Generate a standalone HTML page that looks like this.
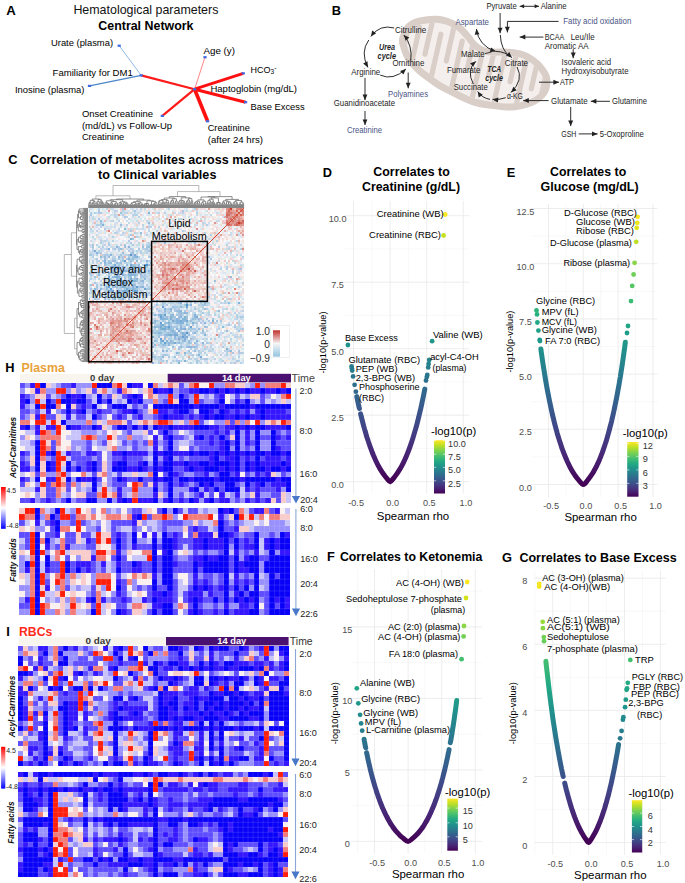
<!DOCTYPE html><html><head><meta charset="utf-8"><title>figure</title><style>html,body{margin:0;padding:0;background:#fff;width:685px;height:883px;overflow:hidden}svg{display:block}text{font-family:"Liberation Sans",sans-serif}</style></head><body><svg width="685" height="883" viewBox="0 0 685 883"><rect width="685" height="883" fill="#fff"/><text x="6.2" y="14.5" font-size="13.2" font-weight="bold" fill="#000">A</text><text x="73.4" y="14.4" font-size="12.2" fill="#111" textLength="145.0" lengthAdjust="spacingAndGlyphs">Hematological parameters</text><text x="98.3" y="30.0" font-size="12.2" font-weight="bold" fill="#000" textLength="95.2" lengthAdjust="spacingAndGlyphs">Central Network</text><line x1="119.2" y1="45.7" x2="141.2" y2="75.4" stroke="#5b9bd5" stroke-width="0.7"/><line x1="89.5" y1="85.9" x2="141.2" y2="75.4" stroke="#4a86c8" stroke-width="1.1"/><line x1="141.2" y1="75.4" x2="194.6" y2="89.2" stroke="#ff1a1a" stroke-width="2.2"/><line x1="194.6" y1="89.2" x2="205.0" y2="57.2" stroke="#ff3030" stroke-width="0.6"/><line x1="194.6" y1="89.2" x2="243.3" y2="73.3" stroke="#ff1010" stroke-width="2.8"/><line x1="194.6" y1="89.2" x2="245.6" y2="102.2" stroke="#ff1010" stroke-width="3.2"/><line x1="194.6" y1="89.2" x2="207.6" y2="121.3" stroke="#ff1010" stroke-width="3.6"/><line x1="194.6" y1="89.2" x2="162.3" y2="115.9" stroke="#ff1a1a" stroke-width="2.2"/><rect x="117.6" y="44.6" width="3.2" height="2.2" fill="#4169e1"/><rect x="139.6" y="74.3" width="3.2" height="2.2" fill="#4169e1"/><rect x="87.9" y="84.8" width="3.2" height="2.2" fill="#4169e1"/><rect x="203.4" y="56.1" width="3.2" height="2.2" fill="#4169e1"/><rect x="241.7" y="72.2" width="3.2" height="2.2" fill="#4169e1"/><rect x="193.0" y="88.1" width="3.2" height="2.2" fill="#4169e1"/><rect x="244.0" y="101.1" width="3.2" height="2.2" fill="#4169e1"/><rect x="206.0" y="120.2" width="3.2" height="2.2" fill="#4169e1"/><rect x="160.7" y="114.8" width="3.2" height="2.2" fill="#4169e1"/><text x="51.0" y="46.4" font-size="9.0" textLength="62.0" lengthAdjust="spacingAndGlyphs">Urate (plasma)</text><text x="52.6" y="76.1" font-size="9.0" textLength="80.2" lengthAdjust="spacingAndGlyphs">Familiarity for DM1</text><text x="14.9" y="93.0" font-size="9.0" textLength="69.5" lengthAdjust="spacingAndGlyphs">Inosine (plasma)</text><text x="203.5" y="54.1" font-size="9.0" textLength="31.5" lengthAdjust="spacingAndGlyphs">Age (y)</text><text x="250.6" y="72.9" font-size="9.0">HCO<tspan font-size="6.5" dy="1.5">3</tspan><tspan font-size="6.5" dy="-4">-</tspan></text><text x="210.4" y="92.4" font-size="9.0" textLength="86.6" lengthAdjust="spacingAndGlyphs">Haptoglobin (mg/dL)</text><text x="250.6" y="109.7" font-size="9.0" textLength="54.1" lengthAdjust="spacingAndGlyphs">Base Excess</text><text x="207.7" y="130.7" font-size="9.0" textLength="42.2" lengthAdjust="spacingAndGlyphs">Creatinine</text><text x="207.7" y="142.5" font-size="9.0" textLength="55.3" lengthAdjust="spacingAndGlyphs">(after 24 hrs)</text><text x="81.9" y="116.8" font-size="9.0" textLength="71.2" lengthAdjust="spacingAndGlyphs">Onset Creatinine</text><text x="81.9" y="128.6" font-size="9.0" textLength="90.2" lengthAdjust="spacingAndGlyphs">(md/dL) vs Follow-Up</text><text x="81.9" y="139.9" font-size="9.0" textLength="42.4" lengthAdjust="spacingAndGlyphs">Creatinine</text><text x="331.7" y="14.7" font-size="12.8" font-weight="bold" fill="#000">B</text><defs><clipPath id="mclip"><path d="M406.1 39.8C406.5 37.3 408.1 33.0 409.9 30.6C411.7 28.3 413.9 26.8 416.7 25.6C419.4 24.4 423.1 23.9 426.4 23.4C429.7 22.9 433.2 22.6 436.5 22.8C439.8 23.0 443.1 23.7 446.4 24.8C449.7 26.0 453.3 27.5 456.3 29.7C459.3 31.9 462.0 35.2 464.6 38.1C467.2 41.0 469.1 44.6 471.9 47.2C474.7 49.8 477.8 52.1 481.2 53.5C484.7 54.9 488.7 55.2 492.6 55.6C496.4 55.9 500.7 55.4 504.5 55.6C508.2 55.8 511.7 55.9 515.1 56.6C518.6 57.2 521.7 57.8 525.1 59.5C528.4 61.1 532.3 63.8 535.1 66.5C537.9 69.1 540.5 73.0 541.9 75.3C543.3 77.7 543.3 78.6 543.4 80.6C543.5 82.6 543.2 85.1 542.6 87.2C541.9 89.2 541.1 91.0 539.4 92.9C537.6 94.7 535.3 96.7 532.1 98.3C528.8 99.9 523.9 101.6 519.8 102.4C515.6 103.3 511.8 103.6 507.2 103.5C502.6 103.4 497.1 102.6 492.0 101.9C486.9 101.1 481.2 100.3 476.8 99.1C472.4 98.0 469.3 96.5 465.5 94.8C461.7 93.1 458.0 91.0 454.2 89.1C450.5 87.3 446.7 85.8 443.0 83.6C439.3 81.4 435.1 78.1 431.8 75.7C428.5 73.3 425.7 71.5 423.0 69.1C420.3 66.8 417.6 64.0 415.5 61.6C413.4 59.2 411.9 57.4 410.5 54.7C409.1 52.1 407.8 48.2 407.1 45.7C406.3 43.2 405.6 42.3 406.1 39.8z"/></clipPath></defs><path d="M399.2 38.5C399.9 35.0 401.9 29.6 404.3 26.4C406.7 23.2 410.2 20.9 413.7 19.3C417.2 17.7 421.5 17.1 425.4 16.5C429.3 15.9 433.1 15.5 437.0 15.8C440.9 16.1 444.8 16.8 448.7 18.2C452.6 19.6 456.9 21.5 460.4 24.0C463.9 26.5 467.1 30.4 469.8 33.4C472.5 36.4 474.5 39.9 476.8 42.2C479.1 44.5 481.1 45.9 483.8 47.0C486.5 48.1 489.6 48.3 493.1 48.6C496.6 48.9 500.9 48.4 504.8 48.6C508.7 48.8 512.6 48.9 516.5 49.7C520.4 50.5 524.3 51.2 528.2 53.2C532.1 55.2 536.6 58.3 539.9 61.4C543.2 64.5 546.2 68.8 548.0 71.9C549.8 75.0 550.2 77.2 550.4 80.1C550.6 83.0 550.2 86.5 549.2 89.4C548.2 92.3 546.8 95.1 544.5 97.6C542.2 100.1 539.1 102.6 535.2 104.6C531.3 106.5 525.9 108.3 521.2 109.3C516.5 110.3 512.1 110.6 507.1 110.5C502.1 110.4 496.4 109.6 491.0 108.8C485.6 108.0 479.7 107.2 475.0 105.9C470.3 104.6 466.7 103.0 462.7 101.2C458.7 99.5 455.0 97.3 451.1 95.4C447.2 93.5 443.3 91.9 439.4 89.6C435.5 87.3 431.2 83.9 427.7 81.4C424.2 78.9 421.3 76.9 418.4 74.4C415.5 71.9 412.5 68.9 410.2 66.2C407.9 63.5 405.9 61.1 404.3 58.0C402.7 54.9 401.2 50.8 400.3 47.5C399.4 44.2 398.5 42.0 399.2 38.5z" fill="#d9cec8"/><path d="M406.1 39.8C406.5 37.3 408.1 33.0 409.9 30.6C411.7 28.3 413.9 26.8 416.7 25.6C419.4 24.4 423.1 23.9 426.4 23.4C429.7 22.9 433.2 22.6 436.5 22.8C439.8 23.0 443.1 23.7 446.4 24.8C449.7 26.0 453.3 27.5 456.3 29.7C459.3 31.9 462.0 35.2 464.6 38.1C467.2 41.0 469.1 44.6 471.9 47.2C474.7 49.8 477.8 52.1 481.2 53.5C484.7 54.9 488.7 55.2 492.6 55.6C496.4 55.9 500.7 55.4 504.5 55.6C508.2 55.8 511.7 55.9 515.1 56.6C518.6 57.2 521.7 57.8 525.1 59.5C528.4 61.1 532.3 63.8 535.1 66.5C537.9 69.1 540.5 73.0 541.9 75.3C543.3 77.7 543.3 78.6 543.4 80.6C543.5 82.6 543.2 85.1 542.6 87.2C541.9 89.2 541.1 91.0 539.4 92.9C537.6 94.7 535.3 96.7 532.1 98.3C528.8 99.9 523.9 101.6 519.8 102.4C515.6 103.3 511.8 103.6 507.2 103.5C502.6 103.4 497.1 102.6 492.0 101.9C486.9 101.1 481.2 100.3 476.8 99.1C472.4 98.0 469.3 96.5 465.5 94.8C461.7 93.1 458.0 91.0 454.2 89.1C450.5 87.3 446.7 85.8 443.0 83.6C439.3 81.4 435.1 78.1 431.8 75.7C428.5 73.3 425.7 71.5 423.0 69.1C420.3 66.8 417.6 64.0 415.5 61.6C413.4 59.2 411.9 57.4 410.5 54.7C409.1 52.1 407.8 48.2 407.1 45.7C406.3 43.2 405.6 42.3 406.1 39.8z" fill="#f4efec"/><g clip-path="url(#mclip)"><path d="M415.2 -3.6L403.8 47.1M408.2 77.9L419.7 27.2M436.5 3.4L425.0 54.1M429.5 84.9L440.9 34.2M457.7 10.3L446.3 61.0M450.8 91.8L462.2 41.1M479.0 17.3L467.5 68.0M472.0 98.7L483.5 48.0M500.2 24.2L488.8 74.9M493.3 105.7L504.7 55.0M521.5 31.1L510.1 81.8M514.5 112.6L526.0 61.9M542.8 38.1L531.3 88.8M535.8 119.6L547.2 68.9" stroke="#d9cec8" stroke-width="5.2" stroke-linecap="round" fill="none"/></g><text x="395.0" y="33.1" font-size="8.6" fill="#1e1e1e" textLength="31.3" lengthAdjust="spacingAndGlyphs">Citrulline</text><text x="379.0" y="50.0" font-size="8.6" font-weight="bold" font-style="italic" fill="#1e1e1e" textLength="16.0" lengthAdjust="spacingAndGlyphs">Urea</text><text x="377.6" y="58.7" font-size="8.6" font-weight="bold" font-style="italic" fill="#1e1e1e" textLength="18.4" lengthAdjust="spacingAndGlyphs">cycle</text><text x="392.4" y="66.0" font-size="8.6" fill="#1e1e1e" textLength="31.9" lengthAdjust="spacingAndGlyphs">Ornithine</text><text x="351.3" y="75.0" font-size="8.6" fill="#1e1e1e" textLength="28.9" lengthAdjust="spacingAndGlyphs">Arginine</text><text x="388.0" y="97.4" font-size="8.6" fill="#4a5585" textLength="40.0" lengthAdjust="spacingAndGlyphs">Polyamines</text><text x="333.8" y="106.2" font-size="8.6" fill="#1e1e1e" textLength="61.2" lengthAdjust="spacingAndGlyphs">Guanidinoacetate</text><text x="346.9" y="133.0" font-size="8.6" fill="#4a5585" textLength="35.1" lengthAdjust="spacingAndGlyphs">Creatinine</text><text x="486.4" y="8.8" font-size="8.6" fill="#1e1e1e" textLength="30.3" lengthAdjust="spacingAndGlyphs">Pyruvate</text><text x="540.7" y="8.5" font-size="8.6" fill="#1e1e1e" textLength="25.8" lengthAdjust="spacingAndGlyphs">Alanine</text><text x="455.4" y="25.4" font-size="8.6" fill="#4a5585" textLength="33.6" lengthAdjust="spacingAndGlyphs">Aspartate</text><text x="563.3" y="24.2" font-size="8.6" fill="#4a5585" textLength="68.1" lengthAdjust="spacingAndGlyphs">Fatty acid oxidation</text><text x="544.7" y="40.0" font-size="8.6" fill="#1e1e1e" textLength="19.6" lengthAdjust="spacingAndGlyphs">BCAA</text><text x="570.7" y="40.0" font-size="8.6" fill="#1e1e1e" textLength="23.9" lengthAdjust="spacingAndGlyphs">Leu/Ile</text><text x="544.7" y="48.7" font-size="8.6" fill="#1e1e1e" textLength="44.0" lengthAdjust="spacingAndGlyphs">Aromatic AA</text><text x="561.6" y="65.0" font-size="8.6" fill="#1e1e1e" textLength="49.4" lengthAdjust="spacingAndGlyphs">Isovaleric acid</text><text x="561.6" y="73.9" font-size="8.6" fill="#1e1e1e" textLength="66.9" lengthAdjust="spacingAndGlyphs">Hydroxyisobutyrate</text><text x="461.0" y="57.3" font-size="8.6" fill="#1e1e1e" textLength="23.7" lengthAdjust="spacingAndGlyphs">Malate</text><text x="504.8" y="65.7" font-size="8.6" fill="#1e1e1e" textLength="23.2" lengthAdjust="spacingAndGlyphs">Citrate</text><text x="447.0" y="73.1" font-size="8.6" fill="#1e1e1e" textLength="33.3" lengthAdjust="spacingAndGlyphs">Fumarate</text><text x="487.3" y="72.2" font-size="8.6" font-weight="bold" font-style="italic" fill="#1e1e1e" textLength="14.0" lengthAdjust="spacingAndGlyphs">TCA</text><text x="485.2" y="81.4" font-size="8.6" font-weight="bold" font-style="italic" fill="#1e1e1e" textLength="17.8" lengthAdjust="spacingAndGlyphs">cycle</text><text x="453.7" y="89.6" font-size="8.6" fill="#1e1e1e" textLength="34.1" lengthAdjust="spacingAndGlyphs">Succinate</text><text x="506.9" y="98.9" font-size="8.6" fill="#1e1e1e" textLength="16.0" lengthAdjust="spacingAndGlyphs">α-KG</text><text x="560.1" y="84.6" font-size="8.6" fill="#1e1e1e" textLength="13.8" lengthAdjust="spacingAndGlyphs">ATP</text><text x="551.0" y="104.3" font-size="8.6" fill="#1e1e1e" textLength="36.6" lengthAdjust="spacingAndGlyphs">Glutamate</text><text x="612.0" y="104.3" font-size="8.6" fill="#1e1e1e" textLength="34.9" lengthAdjust="spacingAndGlyphs">Glutamine</text><text x="561.2" y="136.9" font-size="8.6" fill="#1e1e1e" textLength="15.2" lengthAdjust="spacingAndGlyphs">GSH</text><text x="599.7" y="136.9" font-size="8.6" fill="#1e1e1e" textLength="44.0" lengthAdjust="spacingAndGlyphs">5-Oxoproline</text><path d="M394.2 28.0Q380.0 24.0 370.9 36.4" fill="none" stroke="#222" stroke-width="0.95"/><path d="M370.9 36.4L372.2 30.4L376.2 33.3z" fill="#222"/><path d="M368.8 40.0Q360.0 52.0 367.9 67.4" fill="none" stroke="#222" stroke-width="0.95"/><path d="M367.9 67.4L363.2 63.5L367.5 61.3z" fill="#222"/><path d="M380.2 75.1Q393.0 81.0 405.9 69.0" fill="none" stroke="#222" stroke-width="0.95"/><path d="M405.9 69.0L403.5 74.6L400.1 71.0z" fill="#222"/><path d="M410.8 60.4Q412.5 45.0 403.8 35.0" fill="none" stroke="#222" stroke-width="0.95"/><path d="M403.8 35.0L409.3 37.6L405.6 40.8z" fill="#222"/><path d="M408.2 72.5L408.2 88.3" fill="none" stroke="#222" stroke-width="0.95"/><path d="M408.2 88.3L405.8 82.7L410.6 82.7z" fill="#222"/><path d="M365.0 77.8L365.0 100.2" fill="none" stroke="#222" stroke-width="0.95"/><path d="M365.0 100.2L362.6 94.6L367.4 94.6z" fill="#222"/><path d="M365.0 111.0L365.0 125.0" fill="none" stroke="#222" stroke-width="0.95"/><path d="M365.0 125.0L362.6 119.4L367.4 119.4z" fill="#222"/><path d="M519.7 6.3L539.0 6.3" fill="none" stroke="#222" stroke-width="0.95"/><path d="M539.0 6.3L534.6 8.3L534.6 4.3z" fill="#222"/><path d="M519.7 6.3L524.1 4.3L524.1 8.3z" fill="#222"/><path d="M500.1 13.0L500.1 33.3" fill="none" stroke="#222" stroke-width="0.95"/><path d="M500.1 33.3L497.7 27.7L502.6 27.7z" fill="#222"/><path d="M558.6 21.4L507.4 21.4L507.4 32.4" fill="none" stroke="#222" stroke-width="0.95"/><path d="M507.4 32.4L504.9 26.8L509.8 26.8z" fill="#222"/><path d="M543.4 37.1L519.7 37.1" fill="none" stroke="#222" stroke-width="0.95"/><path d="M519.7 37.1L525.3 34.6L525.3 39.6z" fill="#222"/><path d="M573.2 49.1L573.2 58.2" fill="none" stroke="#222" stroke-width="0.95"/><path d="M573.2 58.2L570.8 52.6L575.7 52.6z" fill="#222"/><path d="M539.0 82.2L559.0 82.2" fill="none" stroke="#222" stroke-width="0.95"/><path d="M559.0 82.2L553.4 84.7L553.4 79.8z" fill="#222"/><path d="M548.6 100.6L523.2 100.6" fill="none" stroke="#222" stroke-width="0.95"/><path d="M523.2 100.6L528.8 98.1L528.8 103.0z" fill="#222"/><path d="M609.9 101.3L590.8 101.3" fill="none" stroke="#222" stroke-width="0.95"/><path d="M590.8 101.3L596.4 98.8L596.4 103.8z" fill="#222"/><path d="M570.7 107.0L570.7 126.1" fill="none" stroke="#222" stroke-width="0.95"/><path d="M570.7 126.1L568.2 120.5L573.2 120.5z" fill="#222"/><path d="M578.7 133.9L597.6 133.9" fill="none" stroke="#222" stroke-width="0.95"/><path d="M597.6 133.9L592.0 136.3L592.0 131.5z" fill="#222"/><path d="M476.4 28.9Q478.5 46.0 495.8 51.4" fill="none" stroke="#222" stroke-width="0.95"/><path d="M495.8 51.4L489.7 52.1L491.2 47.4z" fill="#222"/><path d="M476.4 28.9L479.5 34.2L474.7 34.8z" fill="#222"/><path d="M485.0 53.6L491.5 52.0" stroke="#222" stroke-width="0.85" fill="none"/><path d="M496.0 51.4Q505.0 51.5 511.8 57.6" fill="none" stroke="#222" stroke-width="0.95"/><path d="M511.8 57.6L506.0 55.7L509.3 52.0z" fill="#222"/><path d="M500.3 35.0Q501.0 50.0 510.0 56.6" fill="none" stroke="#222" stroke-width="0.95"/><path d="M517.1 67.0Q524.0 80.0 511.0 92.4" fill="none" stroke="#222" stroke-width="0.95"/><path d="M511.0 92.4L513.4 86.8L516.7 90.3z" fill="#222"/><path d="M505.7 97.7Q499.0 100.0 492.6 99.4" fill="none" stroke="#222" stroke-width="0.95"/><path d="M492.6 99.4L498.4 97.5L497.9 102.4z" fill="#222"/><path d="M490.0 99.4Q482.0 98.0 477.7 91.5" fill="none" stroke="#222" stroke-width="0.95"/><path d="M477.7 91.5L482.8 94.8L478.7 97.5z" fill="#222"/><path d="M473.3 84.0Q466.0 70.0 475.9 61.3" fill="none" stroke="#222" stroke-width="0.95"/><path d="M475.9 61.3L473.3 66.8L470.1 63.2z" fill="#222"/><text x="8.2" y="163.9" font-size="12.8" font-weight="bold" fill="#000">C</text><text x="29.9" y="163.9" font-size="12.8" font-weight="bold" fill="#000" textLength="253.7" lengthAdjust="spacingAndGlyphs">Correlation of metabolites across matrices</text><text x="98.0" y="178.6" font-size="12.8" font-weight="bold" fill="#000" textLength="118.4" lengthAdjust="spacingAndGlyphs">to Clinical variables</text><path fill="none" stroke="#6a6a6a" stroke-width="0.75" d="M88.9 208.0V202.9M89.9 208.0V202.9M88.9 202.9H89.9M89.4 202.9V202.4M91.0 208.0V202.4M89.4 202.4H91.0M92.0 208.0V203.4M93.1 208.0V203.4M92.0 203.4H93.1M92.5 203.4V202.8M94.1 208.0V202.8M92.5 202.8H94.1M93.3 202.8V201.4M95.1 208.0V201.4M93.3 201.4H95.1M90.2 202.4V200.4M94.2 201.4V200.4M90.2 200.4H94.2M97.2 208.0V204.1M98.2 208.0V204.1M97.2 204.1H98.2M96.2 208.0V203.0M97.7 204.1V203.0M96.2 203.0H97.7M96.9 203.0V201.7M99.3 208.0V201.7M96.9 201.7H99.3M102.4 208.0V202.9M103.4 208.0V202.9M102.4 202.9H103.4M101.4 208.0V202.0M102.9 202.9V202.0M101.4 202.0H102.9M100.3 208.0V200.9M102.1 202.0V200.9M100.3 200.9H102.1M98.1 201.7V199.4M101.2 200.9V199.4M98.1 199.4H101.2M92.2 200.4V199.0M99.7 199.4V199.0M92.2 199.0H99.7M104.5 208.0V204.4M105.5 208.0V204.4M104.5 204.4H105.5M107.6 208.0V204.6M108.6 208.0V204.6M107.6 204.6H108.6M108.1 204.6V204.2M109.7 208.0V204.2M108.1 204.2H109.7M106.6 208.0V203.6M108.9 204.2V203.6M106.6 203.6H108.9M105.0 204.4V202.8M107.7 203.6V202.8M105.0 202.8H107.7M111.7 208.0V204.0M112.8 208.0V204.0M111.7 204.0H112.8M110.7 208.0V202.8M112.3 204.0V202.8M110.7 202.8H112.3M113.8 208.0V205.2M114.9 208.0V205.2M113.8 205.2H114.9M114.3 205.2V204.1M115.9 208.0V204.1M114.3 204.1H115.9M116.9 208.0V205.3M118.0 208.0V205.3M116.9 205.3H118.0M115.1 204.1V203.1M117.5 205.3V203.1M115.1 203.1H117.5M111.5 202.8V201.6M116.3 203.1V201.6M111.5 201.6H116.3M106.4 202.8V200.8M113.9 201.6V200.8M106.4 200.8H113.9M120.0 208.0V204.5M121.1 208.0V204.5M120.0 204.5H121.1M120.6 204.5V203.6M122.1 208.0V203.6M120.6 203.6H122.1M119.0 208.0V202.7M121.3 203.6V202.7M119.0 202.7H121.3M123.2 208.0V203.9M124.2 208.0V203.9M123.2 203.9H124.2M125.2 208.0V203.9M126.3 208.0V203.9M125.2 203.9H126.3M127.3 208.0V204.7M128.4 208.0V204.7M127.3 204.7H128.4M125.8 203.9V203.2M127.8 204.7V203.2M125.8 203.2H127.8M123.7 203.9V202.3M126.8 203.2V202.3M123.7 202.3H126.8M120.2 202.7V201.8M125.2 202.3V201.8M120.2 201.8H125.2M110.1 200.8V199.7M122.7 201.8V199.7M110.1 199.7H122.7M130.4 208.0V205.5M131.5 208.0V205.5M130.4 205.5H131.5M129.4 208.0V205.0M130.9 205.5V205.0M129.4 205.0H130.9M132.5 208.0V205.0M133.5 208.0V205.0M132.5 205.0H133.5M130.2 205.0V204.0M133.0 205.0V204.0M130.2 204.0H133.0M134.6 208.0V204.5M135.6 208.0V204.5M134.6 204.5H135.6M135.1 204.5V203.8M136.7 208.0V203.8M135.1 203.8H136.7M131.6 204.0V202.6M135.9 203.8V202.6M131.6 202.6H135.9M138.7 208.0V204.0M139.8 208.0V204.0M138.7 204.0H139.8M137.7 208.0V203.3M139.3 204.0V203.3M137.7 203.3H139.3M140.8 208.0V205.1M141.9 208.0V205.1M140.8 205.1H141.9M141.3 205.1V204.6M142.9 208.0V204.6M141.3 204.6H142.9M138.5 203.3V203.0M142.1 204.6V203.0M138.5 203.0H142.1M133.7 202.6V201.6M140.3 203.0V201.6M133.7 201.6H140.3M143.9 208.0V204.7M145.0 208.0V204.7M143.9 204.7H145.0M146.0 208.0V204.3M147.0 208.0V204.3M146.0 204.3H147.0M144.4 204.7V203.8M146.5 204.3V203.8M144.4 203.8H146.5M148.1 208.0V205.2M149.1 208.0V205.2M148.1 205.2H149.1M145.5 203.8V203.5M148.6 205.2V203.5M145.5 203.5H148.6M150.2 208.0V205.6M151.2 208.0V205.6M150.2 205.6H151.2M150.7 205.6V204.5M152.2 208.0V204.5M150.7 204.5H152.2M153.3 208.0V204.2M154.3 208.0V204.2M153.3 204.2H154.3M153.8 204.2V203.7M155.3 208.0V203.7M153.8 203.7H155.3M156.4 208.0V205.1M157.4 208.0V205.1M156.4 205.1H157.4M154.6 203.7V202.7M156.9 205.1V202.7M154.6 202.7H156.9M151.5 204.5V201.4M155.7 202.7V201.4M151.5 201.4H155.7M147.0 203.5V200.8M153.6 201.4V200.8M147.0 200.8H153.6M137.0 201.6V200.1M150.3 200.8V200.1M137.0 200.1H150.3M116.4 199.7V199.0M143.7 200.1V199.0M116.4 199.0H143.7M159.5 208.0V204.2M160.5 208.0V204.2M159.5 204.2H160.5M158.5 208.0V201.6M160.0 204.2V201.6M158.5 201.6H160.0M161.6 208.0V203.1M162.6 208.0V203.1M161.6 203.1H162.6M163.7 208.0V202.9M164.7 208.0V202.9M163.7 202.9H164.7M162.1 203.1V202.1M164.2 202.9V202.1M162.1 202.1H164.2M159.2 201.6V200.4M163.1 202.1V200.4M159.2 200.4H163.1M165.7 208.0V202.3M166.8 208.0V202.3M165.7 202.3H166.8M167.8 208.0V202.6M168.8 208.0V202.6M167.8 202.6H168.8M166.2 202.3V200.4M168.3 202.6V200.4M166.2 200.4H168.3M161.2 200.4V199.6M167.3 200.4V199.6M161.2 199.6H167.3M169.9 208.0V203.4M170.9 208.0V203.4M169.9 203.4H170.9M170.4 203.4V201.7M172.0 208.0V201.7M170.4 201.7H172.0M173.0 208.0V202.3M174.0 208.0V202.3M173.0 202.3H174.0M171.2 201.7V200.5M173.5 202.3V200.5M171.2 200.5H173.5M175.1 208.0V202.8M176.1 208.0V202.8M175.1 202.8H176.1M175.6 202.8V201.0M177.2 208.0V201.0M175.6 201.0H177.2M172.3 200.5V198.8M176.4 201.0V198.8M172.3 198.8H176.4M164.2 199.6V198.0M174.4 198.8V198.0M164.2 198.0H174.4M178.2 208.0V203.1M179.2 208.0V203.1M178.2 203.1H179.2M178.7 203.1V201.7M180.3 208.0V201.7M178.7 201.7H180.3M181.3 208.0V202.6M182.3 208.0V202.6M181.3 202.6H182.3M184.4 208.0V203.4M185.5 208.0V203.4M184.4 203.4H185.5M183.4 208.0V202.0M184.9 203.4V202.0M183.4 202.0H184.9M181.8 202.6V200.8M184.2 202.0V200.8M181.8 200.8H184.2M179.5 201.7V200.4M183.0 200.8V200.4M179.5 200.4H183.0M187.5 208.0V203.2M188.6 208.0V203.2M187.5 203.2H188.6M186.5 208.0V201.3M188.1 203.2V201.3M186.5 201.3H188.1M187.3 201.3V200.1M189.6 208.0V200.1M187.3 200.1H189.6M190.6 208.0V202.3M191.7 208.0V202.3M190.6 202.3H191.7M191.2 202.3V200.8M192.7 208.0V200.8M191.2 200.8H192.7M188.4 200.1V198.6M191.9 200.8V198.6M188.4 198.6H191.9M181.2 200.4V197.8M190.2 198.6V197.8M181.2 197.8H190.2M169.3 198.0V196.6M185.7 197.8V196.6M169.3 196.6H185.7M193.8 208.0V203.8M194.8 208.0V203.8M193.8 203.8H194.8M194.3 203.8V202.8M195.8 208.0V202.8M194.3 202.8H195.8M196.9 208.0V203.2M197.9 208.0V203.2M196.9 203.2H197.9M195.1 202.8V201.9M197.4 203.2V201.9M195.1 201.9H197.4M199.0 208.0V202.7M200.0 208.0V202.7M199.0 202.7H200.0M196.2 201.9V201.2M199.5 202.7V201.2M196.2 201.2H199.5M201.0 208.0V204.8M202.1 208.0V204.8M201.0 204.8H202.1M203.1 208.0V204.5M204.1 208.0V204.5M203.1 204.5H204.1M201.6 204.8V202.8M203.6 204.5V202.8M201.6 202.8H203.6M205.2 208.0V203.2M206.2 208.0V203.2M205.2 203.2H206.2M202.6 202.8V201.3M205.7 203.2V201.3M202.6 201.3H205.7M197.9 201.2V199.9M204.1 201.3V199.9M197.9 199.9H204.1M207.3 208.0V203.0M208.3 208.0V203.0M207.3 203.0H208.3M209.3 208.0V203.3M210.4 208.0V203.3M209.3 203.3H210.4M209.9 203.3V202.1M211.4 208.0V202.1M209.9 202.1H211.4M207.8 203.0V200.7M210.6 202.1V200.7M207.8 200.7H210.6M213.5 208.0V203.1M214.5 208.0V203.1M213.5 203.1H214.5M212.5 208.0V201.8M214.0 203.1V201.8M212.5 201.8H214.0M209.2 200.7V199.2M213.2 201.8V199.2M209.2 199.2H213.2M215.6 208.0V204.6M216.6 208.0V204.6M215.6 204.6H216.6M216.1 204.6V203.1M217.6 208.0V203.1M216.1 203.1H217.6M218.7 208.0V204.8M219.7 208.0V204.8M218.7 204.8H219.7M219.2 204.8V203.2M220.8 208.0V203.2M219.2 203.2H220.8M216.9 203.1V202.5M220.0 203.2V202.5M216.9 202.5H220.0M211.2 199.2V197.9M218.4 202.5V197.9M211.2 197.9H218.4M201.0 199.9V197.0M214.8 197.9V197.0M201.0 197.0H214.8M221.8 208.0V204.0M222.8 208.0V204.0M221.8 204.0H222.8M223.9 208.0V203.2M224.9 208.0V203.2M223.9 203.2H224.9M222.3 204.0V202.2M224.4 203.2V202.2M222.3 202.2H224.4M225.9 208.0V204.1M227.0 208.0V204.1M225.9 204.1H227.0M228.0 208.0V203.8M229.1 208.0V203.8M228.0 203.8H229.1M231.1 208.0V204.5M232.2 208.0V204.5M231.1 204.5H232.2M230.1 208.0V203.9M231.7 204.5V203.9M230.1 203.9H231.7M228.5 203.8V202.2M230.9 203.9V202.2M228.5 202.2H230.9M226.5 204.1V201.7M229.7 202.2V201.7M226.5 201.7H229.7M223.4 202.2V200.8M228.1 201.7V200.8M223.4 200.8H228.1M234.3 208.0V204.7M235.3 208.0V204.7M234.3 204.7H235.3M233.2 208.0V202.8M234.8 204.7V202.8M233.2 202.8H234.8M236.3 208.0V203.0M237.4 208.0V203.0M236.3 203.0H237.4M234.0 202.8V201.8M236.9 203.0V201.8M234.0 201.8H236.9M238.4 208.0V204.9M239.4 208.0V204.9M238.4 204.9H239.4M240.5 208.0V204.5M241.5 208.0V204.5M240.5 204.5H241.5M238.9 204.9V204.1M241.0 204.5V204.1M238.9 204.1H241.0M242.6 208.0V203.7M243.6 208.0V203.7M242.6 203.7H243.6M240.0 204.1V202.2M243.1 203.7V202.2M240.0 202.2H243.1M235.4 201.8V200.5M241.5 202.2V200.5M235.4 200.5H241.5M225.7 200.8V199.4M238.5 200.5V199.4M225.7 199.4H238.5M207.9 197.0V196.6M232.1 199.4V196.6M207.9 196.6H232.1"/><path fill="none" stroke="#8a8a8a" stroke-width="0.6" d="M95.9 199.0V195.8M130.0 199.0V195.8M95.9 195.8H130.0M177.5 196.6V191.6M220.0 196.6V191.6M177.5 191.6H220.0M113.0 195.8V185.5M198.8 191.6V185.5M113.0 185.5H198.8"/><rect x="88.5" y="204.8" width="155.5" height="3.2" fill="#858585"/><path fill="none" stroke="#6a6a6a" stroke-width="0.75" d="M88.0 208.4H83.3M88.0 209.4H83.3M83.3 208.4V209.4M88.0 210.5H83.9M88.0 211.5H83.9M83.9 210.5V211.5M88.0 212.5H82.2M88.0 213.5H82.2M82.2 212.5V213.5M82.2 213.0H80.8M88.0 214.6H80.8M80.8 213.0V214.6M83.9 211.0H80.1M80.8 213.8H80.1M80.1 211.0V213.8M83.3 208.9H79.2M80.1 212.4H79.2M79.2 208.9V212.4M88.0 216.6H83.2M88.0 217.7H83.2M83.2 216.6V217.7M88.0 215.6H81.7M83.2 217.1H81.7M81.7 215.6V217.1M88.0 219.7H83.9M88.0 220.7H83.9M83.9 219.7V220.7M88.0 218.7H82.4M83.9 220.2H82.4M82.4 218.7V220.2M81.7 216.4H80.5M82.4 219.5H80.5M80.5 216.4V219.5M79.2 210.6H78.5M80.5 217.9H78.5M78.5 210.6V217.9M88.0 222.8H82.6M88.0 223.8H82.6M82.6 222.8V223.8M88.0 221.8H81.3M82.6 223.3H81.3M81.3 221.8V223.3M88.0 225.9H82.7M88.0 226.9H82.7M82.7 225.9V226.9M88.0 224.9H80.9M82.7 226.4H80.9M80.9 224.9V226.4M80.9 225.6H80.4M88.0 227.9H80.4M80.4 225.6V227.9M81.3 222.5H79.5M80.4 226.8H79.5M79.5 222.5V226.8M88.0 229.0H83.5M88.0 230.0H83.5M83.5 229.0V230.0M88.0 231.0H84.3M88.0 232.0H84.3M84.3 231.0V232.0M84.3 231.5H83.4M88.0 233.1H83.4M83.4 231.5V233.1M83.5 229.5H82.1M83.4 232.3H82.1M82.1 229.5V232.3M79.5 224.7H78.3M82.1 230.9H78.3M78.3 224.7V230.9M78.5 214.3H77.6M78.3 227.8H77.6M77.6 214.3V227.8M88.0 234.1H84.4M88.0 235.1H84.4M84.4 234.1V235.1M88.0 236.2H83.6M88.0 237.2H83.6M83.6 236.2V237.2M84.4 234.6H82.0M83.6 236.7H82.0M82.0 234.6V236.7M88.0 238.2H82.0M88.0 239.2H82.0M82.0 238.2V239.2M82.0 235.6H80.3M82.0 238.7H80.3M80.3 235.6V238.7M88.0 241.3H82.0M88.0 242.3H82.0M82.0 241.3V242.3M88.0 240.3H80.5M82.0 241.8H80.5M80.5 240.3V241.8M80.5 241.0H80.1M88.0 243.4H80.1M80.1 241.0V243.4M80.3 237.2H78.5M80.1 242.2H78.5M78.5 237.2V242.2M88.0 245.4H84.2M88.0 246.4H84.2M84.2 245.4V246.4M88.0 244.4H82.9M84.2 245.9H82.9M82.9 244.4V245.9M88.0 247.5H83.5M88.0 248.5H83.5M83.5 247.5V248.5M82.9 245.2H81.7M83.5 248.0H81.7M81.7 245.2V248.0M88.0 250.6H82.4M88.0 251.6H82.4M82.4 250.6V251.6M82.4 251.1H81.1M88.0 252.6H81.1M81.1 251.1V252.6M88.0 249.5H80.4M81.1 251.8H80.4M80.4 249.5V251.8M88.0 253.6H82.6M88.0 254.7H82.6M82.6 253.6V254.7M80.4 250.7H79.5M82.6 254.2H79.5M79.5 250.7V254.2M81.7 246.6H78.4M79.5 252.4H78.4M78.4 246.6V252.4M78.5 239.7H77.0M78.4 249.5H77.0M77.0 239.7V249.5M77.6 221.0H76.6M77.0 244.6H76.6M76.6 221.0V244.6M88.0 255.7H82.5M88.0 256.7H82.5M82.5 255.7V256.7M82.5 256.2H80.9M88.0 257.8H80.9M80.9 256.2V257.8M88.0 258.8H83.7M88.0 259.8H83.7M83.7 258.8V259.8M83.7 259.3H82.6M88.0 260.8H82.6M82.6 259.3V260.8M88.0 262.9H82.3M88.0 263.9H82.3M82.3 262.9V263.9M88.0 261.9H81.4M82.3 263.4H81.4M81.4 261.9V263.4M82.6 260.1H80.9M81.4 262.6H80.9M80.9 260.1V262.6M80.9 257.0H79.6M80.9 261.4H79.6M79.6 257.0V261.4M88.0 265.0H83.5M88.0 266.0H83.5M83.5 265.0V266.0M88.0 267.0H82.4M88.0 268.0H82.4M82.4 267.0V268.0M83.5 265.5H81.0M82.4 267.5H81.0M81.0 265.5V267.5M88.0 270.1H82.9M88.0 271.1H82.9M82.9 270.1V271.1M88.0 269.1H82.2M82.9 270.6H82.2M82.2 269.1V270.6M81.0 266.5H79.7M82.2 269.8H79.7M79.7 266.5V269.8M88.0 272.1H82.9M88.0 273.2H82.9M82.9 272.1V273.2M82.9 272.7H81.5M88.0 274.2H81.5M81.5 272.7V274.2M81.5 273.4H79.8M88.0 275.2H79.8M79.8 273.4V275.2M79.7 268.2H78.1M79.8 274.3H78.1M78.1 268.2V274.3M79.6 259.2H77.1M78.1 271.2H77.1M77.1 259.2V271.2M88.0 276.3H83.8M88.0 277.3H83.8M83.8 276.3V277.3M88.0 278.3H83.8M88.0 279.3H83.8M83.8 278.3V279.3M83.8 278.8H82.7M88.0 280.4H82.7M82.7 278.8V280.4M83.8 276.8H82.1M82.7 279.6H82.1M82.1 276.8V279.6M88.0 281.4H82.5M88.0 282.4H82.5M82.5 281.4V282.4M82.5 281.9H80.8M88.0 283.5H80.8M80.8 281.9V283.5M88.0 284.5H82.6M88.0 285.5H82.6M82.6 284.5V285.5M82.6 285.0H81.2M88.0 286.5H81.2M81.2 285.0V286.5M80.8 282.7H80.2M81.2 285.8H80.2M80.2 282.7V285.8M82.1 278.2H79.0M80.2 284.2H79.0M79.0 278.2V284.2M88.0 287.6H83.7M88.0 288.6H83.7M83.7 287.6V288.6M88.0 290.7H83.7M88.0 291.7H83.7M83.7 290.7V291.7M88.0 289.6H82.2M83.7 291.2H82.2M82.2 289.6V291.2M88.0 292.7H83.6M88.0 293.7H83.6M83.6 292.7V293.7M82.2 290.4H81.2M83.6 293.2H81.2M81.2 290.4V293.2M83.7 288.1H80.1M81.2 291.8H80.1M80.1 288.1V291.8M88.0 294.8H82.7M88.0 295.8H82.7M82.7 294.8V295.8M88.0 296.8H83.9M88.0 297.9H83.9M83.9 296.8V297.9M82.7 295.3H81.8M83.9 297.3H81.8M81.8 295.3V297.3M80.1 289.9H78.9M81.8 296.3H78.9M78.9 289.9V296.3M79.0 281.2H77.4M78.9 293.1H77.4M77.4 281.2V293.1M77.1 265.2H76.6M77.4 287.2H76.6M76.6 265.2V287.2M88.0 299.9H84.1M88.0 300.9H84.1M84.1 299.9V300.9M84.1 300.4H82.8M88.0 302.0H82.8M82.8 300.4V302.0M88.0 298.9H81.9M82.8 301.2H81.9M81.9 298.9V301.2M88.0 303.0H83.7M88.0 304.0H83.7M83.7 303.0V304.0M88.0 305.0H82.9M88.0 306.1H82.9M82.9 305.0V306.1M88.0 307.1H83.4M88.0 308.1H83.4M83.4 307.1V308.1M82.9 305.6H81.4M83.4 307.6H81.4M81.4 305.6V307.6M83.7 303.5H81.0M81.4 306.6H81.0M81.0 303.5V306.6M81.9 300.0H80.3M81.0 305.0H80.3M80.3 300.0V305.0M88.0 309.2H84.1M88.0 310.2H84.1M84.1 309.2V310.2M84.1 309.7H83.5M88.0 311.2H83.5M83.5 309.7V311.2M83.5 310.4H82.1M88.0 312.2H82.1M82.1 310.4V312.2M88.0 313.3H82.3M88.0 314.3H82.3M82.3 313.3V314.3M82.1 311.3H81.1M82.3 313.8H81.1M81.1 311.3V313.8M88.0 315.3H84.4M88.0 316.4H84.4M84.4 315.3V316.4M88.0 317.4H83.7M88.0 318.4H83.7M83.7 317.4V318.4M84.4 315.8H82.0M83.7 317.9H82.0M82.0 315.8V317.9M81.1 312.6H79.7M82.0 316.9H79.7M79.7 312.6V316.9M80.3 302.5H78.5M79.7 314.7H78.5M78.5 302.5V314.7M88.0 319.4H83.5M88.0 320.5H83.5M83.5 319.4V320.5M83.5 320.0H82.9M88.0 321.5H82.9M82.9 320.0V321.5M82.9 320.7H81.6M88.0 322.5H81.6M81.6 320.7V322.5M88.0 323.6H82.8M88.0 324.6H82.8M82.8 323.6V324.6M88.0 325.6H83.4M88.0 326.6H83.4M83.4 325.6V326.6M82.8 324.1H82.4M83.4 326.1H82.4M82.4 324.1V326.1M81.6 321.6H80.8M82.4 325.1H80.8M80.8 321.6V325.1M88.0 328.7H83.1M88.0 329.7H83.1M83.1 328.7V329.7M88.0 327.7H82.3M83.1 329.2H82.3M82.3 327.7V329.2M88.0 330.8H84.5M88.0 331.8H84.5M84.5 330.8V331.8M82.3 328.4H81.8M84.5 331.3H81.8M81.8 328.4V331.3M88.0 332.8H84.5M88.0 333.8H84.5M84.5 332.8V333.8M88.0 334.9H82.8M88.0 335.9H82.8M82.8 334.9V335.9M84.5 333.3H81.5M82.8 335.4H81.5M81.5 333.3V335.4M81.8 329.9H81.1M81.5 334.4H81.1M81.1 329.9V334.4M80.8 323.4H80.0M81.1 332.1H80.0M80.0 323.4V332.1M78.5 308.6H77.0M80.0 327.7H77.0M77.0 308.6V327.7M88.0 336.9H82.4M88.0 338.0H82.4M82.4 336.9V338.0M82.4 337.4H81.9M88.0 339.0H81.9M81.9 337.4V339.0M88.0 340.0H82.3M88.0 341.0H82.3M82.3 340.0V341.0M82.3 340.5H81.8M88.0 342.1H81.8M81.8 340.5V342.1M81.9 338.2H80.6M81.8 341.3H80.6M80.6 338.2V341.3M88.0 344.1H83.5M88.0 345.1H83.5M83.5 344.1V345.1M88.0 343.1H82.1M83.5 344.6H82.1M82.1 343.1V344.6M88.0 347.2H84.4M88.0 348.2H84.4M84.4 347.2V348.2M88.0 346.2H83.3M84.4 347.7H83.3M83.3 346.2V347.7M82.1 343.9H80.5M83.3 346.9H80.5M80.5 343.9V346.9M80.6 339.8H79.7M80.5 345.4H79.7M79.7 339.8V345.4M88.0 349.3H82.6M88.0 350.3H82.6M82.6 349.3V350.3M88.0 351.3H84.1M88.0 352.3H84.1M84.1 351.3V352.3M82.6 349.8H81.1M84.1 351.8H81.1M81.1 349.8V351.8M88.0 353.4H82.6M88.0 354.4H82.6M82.6 353.4V354.4M81.1 350.8H80.2M82.6 353.9H80.2M80.2 350.8V353.9M88.0 355.4H82.5M88.0 356.5H82.5M82.5 355.4V356.5M88.0 358.5H83.9M88.0 359.5H83.9M83.9 358.5V359.5M88.0 357.5H82.6M83.9 359.0H82.6M82.6 357.5V359.0M88.0 360.6H82.5M88.0 361.6H82.5M82.5 360.6V361.6M82.6 358.3H80.9M82.5 361.1H80.9M80.9 358.3V361.1M82.5 355.9H79.3M80.9 359.7H79.3M79.3 355.9V359.7M80.2 352.3H78.5M79.3 357.8H78.5M78.5 352.3V357.8M79.7 342.6H77.0M78.5 355.1H77.0M77.0 342.6V355.1"/><path fill="none" stroke="#8a8a8a" stroke-width="0.6" d="M76.6 232.8H71.4M76.6 276.2H71.4M71.4 232.8V276.2M77.0 318.2H74.6M77.0 348.8H74.6M74.6 318.2V348.8M71.4 254.5H64.3M74.6 333.5H64.3M64.3 254.5V333.5"/><rect x="84.8" y="208.2" width="3.2" height="153.6" fill="#858585"/><g transform="translate(88.5 208.0) scale(1.9936)" shape-rendering="crispEdges"><path fill="#d2e6f0" d="M0 0h1v1h-1zM7 0h1v1h-1zM21 0h1v1h-1zM32 0h1v1h-1zM49 0h1v1h-1zM20 1h1v1h-1zM33 1h1v1h-1zM42 1h1v1h-1zM9 2h1v1h-1zM24 2h1v1h-1zM65 2h1v1h-1zM12 3h1v1h-1zM16 3h1v1h-1zM30 3h1v1h-1zM39 3h1v1h-1zM56 3h1v1h-1zM39 4h1v1h-1zM53 4h1v1h-1zM23 5h1v1h-1zM26 5h1v1h-1zM28 5h1v1h-1zM38 5h1v1h-1zM42 5h1v1h-1zM22 6h1v1h-1zM27 6h1v1h-1zM30 6h1v1h-1zM49 6h1v1h-1zM13 7h1v1h-1zM16 7h1v1h-1zM38 7h1v1h-1zM8 8h1v1h-1zM31 8h1v1h-1zM43 8h1v1h-1zM12 9h1v1h-1zM18 9h1v1h-1zM24 9h1v1h-1zM57 9h1v1h-1zM25 10h1v1h-1zM42 10h1v1h-1zM19 11h1v1h-1zM1 12h2v1h-2zM5 12h1v1h-1zM8 12h1v1h-1zM29 12h1v1h-1zM64 12h1v1h-1zM75 12h1v1h-1zM65 13h1v1h-1zM30 14h1v1h-1zM50 14h1v1h-1zM28 15h1v1h-1zM32 15h1v1h-1zM57 15h1v1h-1zM61 15h1v1h-1zM33 16h1v1h-1zM62 16h1v1h-1zM2 17h1v1h-1zM20 17h1v1h-1zM11 18h1v1h-1zM21 18h1v1h-1zM25 19h1v1h-1zM14 20h1v1h-1zM68 20h1v1h-1zM4 21h1v1h-1zM23 21h1v1h-1zM74 21h1v1h-1zM0 22h1v1h-1zM12 22h1v1h-1zM14 22h1v1h-1zM73 24h1v1h-1zM0 25h2v1h-2zM11 25h1v1h-1zM14 25h1v1h-1zM9 26h1v1h-1zM63 27h1v1h-1zM6 28h1v1h-1zM20 28h1v1h-1zM71 28h1v1h-1zM77 28h1v1h-1zM7 29h1v1h-1zM10 29h1v1h-1zM20 29h1v1h-1zM30 29h1v1h-1zM1 30h1v1h-1zM3 31h1v1h-1zM6 31h1v1h-1zM15 32h1v1h-1zM18 32h1v1h-1zM9 33h1v1h-1zM5 34h1v1h-1zM11 34h1v1h-1zM69 34h1v1h-1zM67 35h1v1h-1zM72 35h1v1h-1zM76 35h1v1h-1zM28 36h1v1h-1zM31 36h1v1h-1zM24 37h1v1h-1zM8 38h1v1h-1zM19 38h1v1h-1zM30 38h1v1h-1zM73 38h2v1h-2zM1 39h1v1h-1zM70 39h1v1h-1zM72 39h1v1h-1zM27 40h1v1h-1zM5 41h1v1h-1zM8 42h1v1h-1zM28 42h2v1h-2zM1 44h1v1h-1zM10 44h1v1h-1zM76 44h1v1h-1zM62 45h1v1h-1zM77 45h1v1h-1zM41 46h1v1h-1zM69 46h1v1h-1zM20 47h1v1h-1zM39 47h1v1h-1zM48 47h1v1h-1zM63 47h1v1h-1zM71 47h1v1h-1zM74 47h1v1h-1zM35 48h1v1h-1zM65 48h1v1h-1zM28 49h1v1h-1zM41 49h1v1h-1zM61 49h2v1h-2zM72 49h1v1h-1zM37 50h1v1h-1zM71 50h1v1h-1zM72 51h1v1h-1zM58 52h1v1h-1zM67 52h1v1h-1zM40 53h1v1h-1zM68 53h1v1h-1zM75 53h1v1h-1zM72 54h1v1h-1zM71 55h1v1h-1zM59 56h1v1h-1zM77 56h1v1h-1zM48 57h1v1h-1zM60 57h1v1h-1zM76 57h1v1h-1zM39 58h1v1h-1zM66 58h1v1h-1zM45 59h1v1h-1zM68 59h1v1h-1zM3 61h1v1h-1zM70 61h1v1h-1zM74 61h1v1h-1zM45 62h1v1h-1zM52 63h1v1h-1zM55 63h1v1h-1zM57 63h1v1h-1zM70 64h1v1h-1zM55 65h1v1h-1zM68 65h1v1h-1zM74 65h1v1h-1zM43 66h1v1h-1zM52 66h1v1h-1zM59 66h1v1h-1zM33 67h1v1h-1zM48 67h1v1h-1zM44 68h1v1h-1zM51 68h1v1h-1zM75 68h1v1h-1zM35 69h1v1h-1zM39 69h1v1h-1zM65 69h1v1h-1zM69 69h1v1h-1zM48 70h1v1h-1zM77 70h1v1h-1zM46 71h1v1h-1zM49 71h1v1h-1zM54 71h1v1h-1zM36 72h1v1h-1zM43 72h1v1h-1zM65 72h1v1h-1zM56 73h1v1h-1zM16 74h1v1h-1zM46 74h1v1h-1zM60 75h1v1h-1zM65 75h1v1h-1zM33 76h1v1h-1zM38 76h1v1h-1zM47 76h1v1h-1zM52 76h1v1h-1zM65 76h1v1h-1zM52 77h1v1h-1zM55 77h1v1h-1zM77 77h1v1h-1z"/><path fill="#d2dcf0" d="M1 0h1v1h-1zM22 0h1v1h-1zM24 0h1v1h-1zM18 1h1v1h-1zM26 1h1v1h-1zM45 2h2v1h-2zM11 3h1v1h-1zM67 4h1v1h-1zM2 7h1v1h-1zM14 7h1v1h-1zM60 7h1v1h-1zM13 8h1v1h-1zM42 8h1v1h-1zM54 8h1v1h-1zM4 9h1v1h-1zM11 9h1v1h-1zM5 10h1v1h-1zM26 10h1v1h-1zM30 10h1v1h-1zM73 10h1v1h-1zM14 11h1v1h-1zM48 11h1v1h-1zM54 12h1v1h-1zM17 13h1v1h-1zM35 13h1v1h-1zM5 14h1v1h-1zM9 15h1v1h-1zM24 16h1v1h-1zM47 16h1v1h-1zM59 16h1v1h-1zM7 17h1v1h-1zM50 17h1v1h-1zM57 17h1v1h-1zM70 17h1v1h-1zM1 18h1v1h-1zM61 18h1v1h-1zM9 19h1v1h-1zM7 20h1v1h-1zM20 20h1v1h-1zM60 20h1v1h-1zM7 21h1v1h-1zM10 21h1v1h-1zM21 21h1v1h-1zM14 23h1v1h-1zM17 23h1v1h-1zM30 23h1v1h-1zM65 23h1v1h-1zM69 23h1v1h-1zM9 24h1v1h-1zM26 25h1v1h-1zM14 26h1v1h-1zM28 26h1v1h-1zM26 27h1v1h-1zM60 27h1v1h-1zM9 29h1v1h-1zM16 29h1v1h-1zM66 29h1v1h-1zM9 30h1v1h-1zM61 30h1v1h-1zM4 31h1v1h-1zM63 31h1v1h-1zM75 31h1v1h-1zM75 32h1v1h-1zM24 34h1v1h-1zM29 35h1v1h-1zM69 35h1v1h-1zM16 38h1v1h-1zM28 39h1v1h-1zM67 39h1v1h-1zM12 40h1v1h-1zM17 40h1v1h-1zM26 40h1v1h-1zM4 41h1v1h-1zM21 41h1v1h-1zM27 41h1v1h-1zM10 42h1v1h-1zM25 42h1v1h-1zM64 42h1v1h-1zM5 43h1v1h-1zM29 44h1v1h-1zM9 45h1v1h-1zM55 46h1v1h-1zM54 47h1v1h-1zM67 47h1v1h-1zM33 48h1v1h-1zM42 48h1v1h-1zM38 49h1v1h-1zM51 49h1v1h-1zM36 50h1v1h-1zM37 51h1v1h-1zM50 51h1v1h-1zM52 51h1v1h-1zM67 51h1v1h-1zM76 51h1v1h-1zM35 52h1v1h-1zM61 53h1v1h-1zM77 53h1v1h-1zM57 54h1v1h-1zM77 55h1v1h-1zM36 56h1v1h-1zM56 56h1v1h-1zM57 57h1v1h-1zM76 59h1v1h-1zM32 60h1v1h-1zM54 60h1v1h-1zM64 60h1v1h-1zM39 61h1v1h-1zM48 61h1v1h-1zM50 61h1v1h-1zM51 63h1v1h-1zM54 63h1v1h-1zM66 63h1v1h-1zM70 63h1v1h-1zM69 64h1v1h-1zM68 66h1v1h-1zM74 66h1v1h-1zM35 67h1v1h-1zM56 67h1v1h-1zM32 68h1v1h-1zM47 68h2v1h-2zM53 68h1v1h-1zM58 68h1v1h-1zM62 68h1v1h-1zM56 70h2v1h-2zM60 70h1v1h-1zM34 72h1v1h-1zM63 72h1v1h-1zM67 72h1v1h-1zM36 73h1v1h-1zM46 73h1v1h-1zM68 73h1v1h-1zM70 75h1v1h-1zM59 76h1v1h-1zM77 76h1v1h-1z"/><path fill="#dce6f0" d="M2 0h1v1h-1zM39 0h1v1h-1zM48 0h1v1h-1zM52 0h1v1h-1zM8 1h1v1h-1zM12 1h1v1h-1zM19 1h1v1h-1zM24 1h1v1h-1zM28 1h1v1h-1zM30 1h1v1h-1zM35 1h1v1h-1zM38 1h1v1h-1zM48 1h1v1h-1zM51 1h1v1h-1zM63 1h1v1h-1zM2 2h1v1h-1zM7 2h1v1h-1zM10 2h1v1h-1zM12 2h1v1h-1zM27 3h1v1h-1zM29 3h1v1h-1zM31 3h1v1h-1zM47 3h2v1h-2zM58 3h2v1h-2zM68 3h1v1h-1zM1 4h1v1h-1zM3 4h1v1h-1zM6 4h1v1h-1zM9 4h1v1h-1zM17 4h1v1h-1zM48 4h1v1h-1zM1 5h1v1h-1zM7 5h1v1h-1zM10 5h1v1h-1zM15 5h1v1h-1zM18 5h1v1h-1zM21 5h1v1h-1zM24 5h1v1h-1zM33 5h1v1h-1zM47 5h1v1h-1zM53 5h1v1h-1zM1 6h1v1h-1zM5 6h1v1h-1zM7 6h1v1h-1zM9 6h2v1h-2zM21 6h1v1h-1zM34 6h1v1h-1zM38 6h1v1h-1zM54 6h1v1h-1zM58 6h1v1h-1zM4 7h1v1h-1zM22 7h1v1h-1zM29 7h1v1h-1zM3 8h1v1h-1zM11 8h1v1h-1zM17 8h1v1h-1zM23 8h1v1h-1zM25 8h1v1h-1zM39 8h1v1h-1zM60 8h1v1h-1zM3 9h1v1h-1zM8 9h1v1h-1zM10 9h1v1h-1zM19 9h1v1h-1zM45 9h1v1h-1zM48 9h1v1h-1zM74 9h1v1h-1zM3 10h1v1h-1zM9 10h1v1h-1zM11 10h1v1h-1zM19 10h1v1h-1zM28 10h1v1h-1zM33 10h1v1h-1zM35 10h1v1h-1zM45 10h1v1h-1zM56 10h1v1h-1zM0 11h1v1h-1zM6 11h1v1h-1zM8 11h1v1h-1zM12 11h1v1h-1zM16 11h1v1h-1zM55 11h1v1h-1zM6 12h1v1h-1zM15 12h1v1h-1zM25 12h1v1h-1zM34 12h1v1h-1zM49 12h1v1h-1zM24 13h1v1h-1zM28 13h1v1h-1zM30 13h2v1h-2zM42 13h1v1h-1zM49 13h1v1h-1zM6 14h1v1h-1zM8 14h1v1h-1zM11 14h1v1h-1zM13 14h1v1h-1zM19 14h1v1h-1zM22 14h1v1h-1zM40 14h1v1h-1zM76 14h1v1h-1zM2 15h1v1h-1zM5 15h1v1h-1zM27 15h1v1h-1zM53 15h1v1h-1zM62 15h1v1h-1zM2 16h1v1h-1zM10 16h1v1h-1zM14 16h1v1h-1zM17 16h1v1h-1zM34 16h1v1h-1zM40 16h1v1h-1zM46 16h1v1h-1zM53 16h1v1h-1zM16 17h1v1h-1zM23 17h1v1h-1zM27 17h1v1h-1zM36 17h1v1h-1zM40 17h1v1h-1zM51 17h1v1h-1zM58 17h2v1h-2zM69 17h1v1h-1zM13 18h1v1h-1zM20 18h1v1h-1zM60 18h1v1h-1zM74 18h1v1h-1zM6 19h1v1h-1zM13 19h1v1h-1zM19 19h1v1h-1zM21 19h1v1h-1zM23 19h2v1h-2zM31 19h1v1h-1zM60 19h1v1h-1zM71 19h1v1h-1zM74 19h1v1h-1zM4 20h1v1h-1zM46 20h1v1h-1zM1 21h1v1h-1zM12 21h2v1h-2zM18 21h1v1h-1zM67 21h1v1h-1zM8 22h1v1h-1zM16 22h1v1h-1zM18 22h1v1h-1zM25 22h1v1h-1zM30 22h1v1h-1zM66 22h1v1h-1zM3 23h1v1h-1zM71 23h1v1h-1zM1 24h1v1h-1zM27 24h1v1h-1zM61 24h2v1h-2zM72 24h1v1h-1zM27 25h2v1h-2zM77 25h1v1h-1zM60 26h1v1h-1zM76 26h1v1h-1zM17 27h1v1h-1zM24 27h1v1h-1zM30 27h1v1h-1zM3 28h1v1h-1zM64 28h2v1h-2zM68 29h1v1h-1zM73 29h2v1h-2zM77 29h1v1h-1zM74 30h1v1h-1zM27 31h1v1h-1zM57 31h1v1h-1zM61 31h1v1h-1zM67 32h2v1h-2zM0 33h1v1h-1zM6 33h1v1h-1zM74 33h1v1h-1zM2 34h1v1h-1zM17 34h1v1h-1zM51 34h1v1h-1zM0 35h1v1h-1zM2 35h1v1h-1zM13 35h1v1h-1zM19 35h1v1h-1zM2 37h1v1h-1zM6 37h1v1h-1zM28 37h1v1h-1zM60 37h2v1h-2zM63 37h1v1h-1zM5 38h1v1h-1zM24 38h1v1h-1zM69 38h1v1h-1zM5 39h1v1h-1zM11 39h1v1h-1zM71 39h1v1h-1zM76 39h1v1h-1zM0 40h1v1h-1zM2 40h1v1h-1zM5 40h1v1h-1zM71 40h1v1h-1zM30 41h1v1h-1zM60 41h1v1h-1zM6 42h1v1h-1zM12 42h1v1h-1zM22 42h1v1h-1zM31 42h1v1h-1zM76 42h1v1h-1zM0 43h2v1h-2zM4 43h1v1h-1zM22 43h1v1h-1zM26 43h1v1h-1zM61 43h1v1h-1zM65 43h1v1h-1zM71 43h1v1h-1zM0 44h1v1h-1zM7 44h1v1h-1zM23 44h1v1h-1zM25 44h1v1h-1zM67 44h1v1h-1zM72 44h1v1h-1zM2 45h1v1h-1zM11 45h1v1h-1zM14 45h1v1h-1zM60 45h1v1h-1zM35 46h1v1h-1zM38 46h1v1h-1zM58 46h1v1h-1zM64 46h1v1h-1zM74 46h1v1h-1zM36 47h1v1h-1zM50 47h1v1h-1zM55 47h1v1h-1zM64 47h1v1h-1zM76 47h1v1h-1zM70 48h1v1h-1zM74 48h1v1h-1zM40 49h1v1h-1zM52 49h1v1h-1zM64 49h1v1h-1zM67 49h1v1h-1zM76 49h1v1h-1zM7 50h1v1h-1zM46 50h2v1h-2zM52 50h1v1h-1zM60 50h1v1h-1zM74 50h1v1h-1zM34 51h1v1h-1zM33 52h1v1h-1zM55 52h1v1h-1zM65 52h1v1h-1zM69 52h1v1h-1zM39 53h1v1h-1zM50 53h1v1h-1zM58 53h1v1h-1zM64 53h1v1h-1zM72 53h1v1h-1zM76 53h1v1h-1zM33 54h1v1h-1zM58 54h1v1h-1zM60 54h1v1h-1zM69 54h1v1h-1zM35 55h1v1h-1zM63 55h1v1h-1zM70 55h1v1h-1zM58 56h1v1h-1zM71 56h2v1h-2zM59 57h1v1h-1zM42 58h1v1h-1zM58 58h1v1h-1zM63 58h1v1h-1zM67 58h2v1h-2zM76 58h1v1h-1zM55 59h2v1h-2zM72 59h1v1h-1zM43 60h1v1h-1zM61 60h1v1h-1zM73 60h1v1h-1zM55 61h1v1h-1zM60 61h1v1h-1zM66 61h1v1h-1zM65 62h1v1h-1zM72 62h1v1h-1zM32 63h1v1h-1zM61 63h1v1h-1zM10 64h1v1h-1zM42 64h1v1h-1zM50 64h1v1h-1zM56 64h1v1h-1zM58 64h2v1h-2zM63 64h1v1h-1zM32 65h1v1h-1zM35 65h1v1h-1zM56 65h1v1h-1zM66 65h1v1h-1zM76 65h1v1h-1zM32 66h1v1h-1zM38 66h1v1h-1zM63 66h1v1h-1zM65 66h1v1h-1zM67 66h1v1h-1zM69 66h1v1h-1zM13 67h1v1h-1zM68 67h1v1h-1zM71 67h2v1h-2zM75 67h1v1h-1zM67 68h1v1h-1zM71 68h3v1h-3zM34 69h1v1h-1zM55 69h1v1h-1zM63 69h1v1h-1zM66 69h1v1h-1zM68 69h1v1h-1zM27 70h1v1h-1zM33 70h1v1h-1zM72 70h1v1h-1zM75 70h1v1h-1zM35 71h1v1h-1zM40 71h1v1h-1zM44 71h1v1h-1zM58 71h1v1h-1zM63 71h1v1h-1zM65 71h2v1h-2zM73 71h1v1h-1zM37 72h3v1h-3zM62 72h1v1h-1zM4 73h1v1h-1zM34 73h1v1h-1zM43 73h1v1h-1zM57 73h1v1h-1zM70 73h1v1h-1zM49 74h1v1h-1zM54 74h1v1h-1zM67 74h3v1h-3zM73 74h1v1h-1zM32 75h1v1h-1zM37 75h1v1h-1zM40 75h1v1h-1zM42 75h2v1h-2zM61 75h2v1h-2zM75 75h1v1h-1zM77 75h1v1h-1zM34 76h1v1h-1zM53 76h1v1h-1zM56 76h1v1h-1zM71 76h3v1h-3zM33 77h2v1h-2zM37 77h1v1h-1zM42 77h1v1h-1zM44 77h1v1h-1zM66 77h1v1h-1z"/><path fill="#f0f0e6" d="M3 0h1v1h-1zM40 2h1v1h-1zM44 4h1v1h-1zM63 4h1v1h-1zM11 5h1v1h-1zM16 5h1v1h-1zM44 5h1v1h-1zM35 6h1v1h-1zM1 7h1v1h-1zM28 7h1v1h-1zM44 7h1v1h-1zM12 8h1v1h-1zM50 10h1v1h-1zM31 11h1v1h-1zM59 11h1v1h-1zM32 13h1v1h-1zM54 13h1v1h-1zM62 13h1v1h-1zM73 14h1v1h-1zM64 15h1v1h-1zM66 18h1v1h-1zM47 19h1v1h-1zM64 23h1v1h-1zM34 24h1v1h-1zM36 26h1v1h-1zM67 27h1v1h-1zM58 30h1v1h-1zM44 33h1v1h-1zM70 33h1v1h-1zM72 33h2v1h-2zM17 35h1v1h-1zM75 37h1v1h-1zM51 41h1v1h-1zM71 42h1v1h-1zM53 43h1v1h-1zM64 45h1v1h-1zM66 46h1v1h-1zM1 49h1v1h-1zM70 49h1v1h-1zM61 50h1v1h-1zM72 61h1v1h-1zM9 64h1v1h-1zM69 65h1v1h-1zM72 66h1v1h-1zM13 68h1v1h-1zM77 74h1v1h-1zM28 76h1v1h-1zM70 76h1v1h-1z"/><path fill="#e6f0f0" d="M4 0h1v1h-1zM6 0h1v1h-1zM8 0h1v1h-1zM14 0h1v1h-1zM23 0h1v1h-1zM1 1h2v1h-2zM4 1h1v1h-1zM7 1h1v1h-1zM31 1h1v1h-1zM34 1h1v1h-1zM36 1h1v1h-1zM40 1h1v1h-1zM50 1h1v1h-1zM55 1h1v1h-1zM58 1h1v1h-1zM0 2h1v1h-1zM26 2h1v1h-1zM28 2h1v1h-1zM39 2h1v1h-1zM58 2h1v1h-1zM2 3h1v1h-1zM4 3h1v1h-1zM20 3h1v1h-1zM33 3h1v1h-1zM38 3h1v1h-1zM50 3h1v1h-1zM11 4h2v1h-2zM15 4h1v1h-1zM24 4h1v1h-1zM26 4h3v1h-3zM65 4h1v1h-1zM8 5h1v1h-1zM12 5h1v1h-1zM22 5h1v1h-1zM25 5h1v1h-1zM34 5h1v1h-1zM36 5h1v1h-1zM60 5h1v1h-1zM68 5h1v1h-1zM13 6h2v1h-2zM23 6h1v1h-1zM36 6h1v1h-1zM63 6h1v1h-1zM0 7h1v1h-1zM8 7h2v1h-2zM11 7h1v1h-1zM31 7h1v1h-1zM33 7h1v1h-1zM45 7h2v1h-2zM52 7h2v1h-2zM66 7h1v1h-1zM1 8h1v1h-1zM15 8h1v1h-1zM28 8h1v1h-1zM38 8h1v1h-1zM40 8h1v1h-1zM45 8h2v1h-2zM49 8h1v1h-1zM56 8h1v1h-1zM65 8h1v1h-1zM68 8h1v1h-1zM15 9h1v1h-1zM23 9h1v1h-1zM28 9h1v1h-1zM52 9h1v1h-1zM59 9h1v1h-1zM67 9h1v1h-1zM69 9h1v1h-1zM72 9h1v1h-1zM2 10h1v1h-1zM34 10h1v1h-1zM43 10h1v1h-1zM52 10h1v1h-1zM66 10h1v1h-1zM68 10h1v1h-1zM7 11h1v1h-1zM13 11h1v1h-1zM18 11h1v1h-1zM32 11h2v1h-2zM37 11h1v1h-1zM41 11h1v1h-1zM45 11h1v1h-1zM53 11h1v1h-1zM56 11h1v1h-1zM67 11h1v1h-1zM70 11h1v1h-1zM0 12h1v1h-1zM12 12h1v1h-1zM20 12h2v1h-2zM42 12h1v1h-1zM53 12h1v1h-1zM55 12h1v1h-1zM69 12h1v1h-1zM73 12h1v1h-1zM3 13h1v1h-1zM5 13h1v1h-1zM11 13h1v1h-1zM23 13h1v1h-1zM25 13h1v1h-1zM36 13h2v1h-2zM1 14h1v1h-1zM7 14h1v1h-1zM18 14h1v1h-1zM31 14h1v1h-1zM45 14h1v1h-1zM56 14h1v1h-1zM71 14h1v1h-1zM0 15h1v1h-1zM7 15h1v1h-1zM13 15h1v1h-1zM20 15h1v1h-1zM25 15h2v1h-2zM41 15h1v1h-1zM48 15h1v1h-1zM51 15h1v1h-1zM54 15h1v1h-1zM11 16h1v1h-1zM13 16h1v1h-1zM18 16h1v1h-1zM36 16h1v1h-1zM42 16h1v1h-1zM57 16h1v1h-1zM11 17h1v1h-1zM39 17h1v1h-1zM72 17h1v1h-1zM5 18h2v1h-2zM68 18h1v1h-1zM0 19h1v1h-1zM4 19h1v1h-1zM22 19h1v1h-1zM75 19h2v1h-2zM26 20h1v1h-1zM8 21h1v1h-1zM16 21h1v1h-1zM27 21h1v1h-1zM63 21h1v1h-1zM66 21h1v1h-1zM10 22h1v1h-1zM15 22h1v1h-1zM19 22h1v1h-1zM23 22h1v1h-1zM55 22h1v1h-1zM65 22h1v1h-1zM76 22h1v1h-1zM29 23h1v1h-1zM62 23h1v1h-1zM4 24h1v1h-1zM11 24h1v1h-1zM19 24h1v1h-1zM26 24h1v1h-1zM65 24h2v1h-2zM68 24h1v1h-1zM70 24h1v1h-1zM7 25h1v1h-1zM67 25h2v1h-2zM70 25h1v1h-1zM1 26h1v1h-1zM3 26h1v1h-1zM23 26h1v1h-1zM62 26h2v1h-2zM1 27h1v1h-1zM27 27h2v1h-2zM74 27h1v1h-1zM76 27h1v1h-1zM69 28h1v1h-1zM3 29h1v1h-1zM27 29h1v1h-1zM62 29h1v1h-1zM4 30h1v1h-1zM16 30h1v1h-1zM26 30h1v1h-1zM69 31h2v1h-2zM62 32h2v1h-2zM66 32h1v1h-1zM69 32h2v1h-2zM7 33h1v1h-1zM12 33h1v1h-1zM31 33h1v1h-1zM0 34h1v1h-1zM6 34h1v1h-1zM67 34h1v1h-1zM6 35h1v1h-1zM61 35h1v1h-1zM65 35h1v1h-1zM2 36h2v1h-2zM62 36h1v1h-1zM66 36h1v1h-1zM29 37h1v1h-1zM69 37h1v1h-1zM76 37h1v1h-1zM21 38h1v1h-1zM60 38h1v1h-1zM75 38h1v1h-1zM7 39h1v1h-1zM69 39h1v1h-1zM74 39h1v1h-1zM64 40h1v1h-1zM66 40h1v1h-1zM28 41h1v1h-1zM61 41h1v1h-1zM64 41h1v1h-1zM71 41h2v1h-2zM76 41h1v1h-1zM5 42h1v1h-1zM11 42h1v1h-1zM7 43h1v1h-1zM17 43h1v1h-1zM23 43h1v1h-1zM34 43h1v1h-1zM67 43h1v1h-1zM72 43h1v1h-1zM31 44h1v1h-1zM66 44h1v1h-1zM70 44h1v1h-1zM74 44h1v1h-1zM26 45h1v1h-1zM31 45h1v1h-1zM66 45h1v1h-1zM33 46h1v1h-1zM44 46h1v1h-1zM63 46h1v1h-1zM70 46h1v1h-1zM76 46h1v1h-1zM72 47h1v1h-1zM13 48h1v1h-1zM40 48h1v1h-1zM54 48h1v1h-1zM36 49h1v1h-1zM50 49h1v1h-1zM68 49h1v1h-1zM73 49h1v1h-1zM75 49h1v1h-1zM6 50h1v1h-1zM48 50h1v1h-1zM50 50h1v1h-1zM56 50h1v1h-1zM73 50h1v1h-1zM32 51h1v1h-1zM47 51h1v1h-1zM53 51h1v1h-1zM57 51h1v1h-1zM62 51h1v1h-1zM73 51h1v1h-1zM75 51h1v1h-1zM62 52h1v1h-1zM64 52h1v1h-1zM72 52h1v1h-1zM73 53h1v1h-1zM34 54h1v1h-1zM51 54h1v1h-1zM55 54h1v1h-1zM64 54h1v1h-1zM68 54h1v1h-1zM71 54h1v1h-1zM58 55h1v1h-1zM64 55h1v1h-1zM72 55h1v1h-1zM39 56h1v1h-1zM65 56h1v1h-1zM65 57h1v1h-1zM67 57h1v1h-1zM10 58h1v1h-1zM53 58h1v1h-1zM55 58h1v1h-1zM53 59h1v1h-1zM61 59h1v1h-1zM63 59h1v1h-1zM66 59h1v1h-1zM34 60h1v1h-1zM47 61h1v1h-1zM56 61h1v1h-1zM4 62h1v1h-1zM55 62h1v1h-1zM68 62h2v1h-2zM73 62h1v1h-1zM71 63h1v1h-1zM77 63h1v1h-1zM3 64h1v1h-1zM29 64h1v1h-1zM57 64h1v1h-1zM61 64h2v1h-2zM66 64h1v1h-1zM71 64h1v1h-1zM65 65h1v1h-1zM72 65h2v1h-2zM35 66h1v1h-1zM53 66h1v1h-1zM60 66h2v1h-2zM64 66h1v1h-1zM70 66h1v1h-1zM73 66h1v1h-1zM19 67h1v1h-1zM55 67h1v1h-1zM70 68h1v1h-1zM56 69h1v1h-1zM70 69h1v1h-1zM72 69h1v1h-1zM77 69h1v1h-1zM34 70h1v1h-1zM38 70h1v1h-1zM44 70h1v1h-1zM52 70h1v1h-1zM63 70h1v1h-1zM66 70h1v1h-1zM76 70h1v1h-1zM27 71h1v1h-1zM42 71h2v1h-2zM59 71h1v1h-1zM77 71h1v1h-1zM3 72h1v1h-1zM35 72h1v1h-1zM59 72h1v1h-1zM64 72h1v1h-1zM15 73h1v1h-1zM47 73h1v1h-1zM53 73h1v1h-1zM58 73h1v1h-1zM74 73h1v1h-1zM76 73h2v1h-2zM5 74h1v1h-1zM13 74h1v1h-1zM41 74h1v1h-1zM48 74h1v1h-1zM51 74h1v1h-1zM64 74h1v1h-1zM70 74h1v1h-1zM41 75h1v1h-1zM67 75h2v1h-2zM74 75h1v1h-1zM76 75h1v1h-1zM50 76h2v1h-2zM63 76h1v1h-1zM76 76h1v1h-1zM43 77h1v1h-1zM58 77h1v1h-1zM62 77h1v1h-1zM65 77h1v1h-1zM70 77h1v1h-1zM75 77h1v1h-1z"/><path fill="#b4d2e6" d="M5 0h1v1h-1zM53 0h1v1h-1zM0 1h1v1h-1zM17 1h1v1h-1zM1 2h1v1h-1zM3 2h1v1h-1zM54 2h1v1h-1zM23 3h2v1h-2zM45 5h2v1h-2zM4 8h3v1h-3zM47 8h2v1h-2zM59 8h1v1h-1zM31 9h1v1h-1zM1 10h1v1h-1zM47 11h1v1h-1zM13 12h1v1h-1zM23 12h1v1h-1zM58 12h1v1h-1zM61 13h1v1h-1zM12 14h1v1h-1zM24 14h1v1h-1zM12 16h1v1h-1zM64 16h1v1h-1zM6 17h1v1h-1zM10 17h1v1h-1zM25 17h1v1h-1zM30 17h1v1h-1zM33 17h1v1h-1zM4 18h1v1h-1zM27 18h1v1h-1zM30 18h1v1h-1zM69 18h1v1h-1zM5 19h1v1h-1zM7 19h1v1h-1zM15 19h1v1h-1zM65 19h1v1h-1zM9 20h1v1h-1zM28 20h1v1h-1zM76 20h1v1h-1zM2 21h1v1h-1zM5 21h1v1h-1zM24 21h1v1h-1zM5 22h1v1h-1zM26 22h1v1h-1zM4 23h1v1h-1zM10 23h1v1h-1zM2 24h1v1h-1zM25 24h1v1h-1zM31 24h1v1h-1zM77 24h1v1h-1zM13 25h1v1h-1zM21 25h1v1h-1zM5 26h1v1h-1zM7 26h1v1h-1zM16 26h1v1h-1zM30 26h1v1h-1zM2 27h1v1h-1zM19 27h1v1h-1zM21 27h1v1h-1zM29 27h1v1h-1zM9 28h1v1h-1zM12 28h1v1h-1zM24 28h1v1h-1zM27 28h1v1h-1zM31 28h1v1h-1zM4 29h1v1h-1zM69 29h1v1h-1zM8 30h1v1h-1zM10 30h1v1h-1zM24 30h1v1h-1zM28 30h1v1h-1zM31 30h1v1h-1zM66 30h1v1h-1zM69 30h1v1h-1zM1 31h1v1h-1zM9 31h1v1h-1zM16 31h1v1h-1zM21 31h1v1h-1zM29 31h1v1h-1zM72 31h1v1h-1zM17 32h1v1h-1zM28 32h1v1h-1zM72 32h1v1h-1zM13 33h1v1h-1zM19 33h1v1h-1zM1 35h1v1h-1zM0 36h1v1h-1zM12 36h1v1h-1zM21 36h1v1h-1zM30 36h1v1h-1zM20 37h1v1h-1zM22 37h1v1h-1zM9 38h1v1h-1zM13 38h1v1h-1zM27 38h1v1h-1zM15 39h1v1h-1zM30 39h1v1h-1zM15 40h2v1h-2zM3 41h1v1h-1zM9 41h1v1h-1zM0 42h1v1h-1zM3 42h1v1h-1zM12 43h1v1h-1zM16 44h1v1h-1zM60 44h1v1h-1zM5 45h1v1h-1zM25 45h1v1h-1zM47 46h1v1h-1zM49 46h1v1h-1zM53 46h1v1h-1zM68 46h1v1h-1zM38 47h1v1h-1zM41 47h1v1h-1zM51 47h1v1h-1zM59 47h2v1h-2zM46 48h1v1h-1zM50 48h1v1h-1zM45 49h1v1h-1zM47 49h1v1h-1zM57 49h1v1h-1zM39 50h1v1h-1zM49 50h1v1h-1zM59 50h1v1h-1zM55 51h1v1h-1zM32 52h1v1h-1zM53 52h1v1h-1zM60 52h1v1h-1zM47 53h1v1h-1zM49 53h1v1h-1zM56 53h1v1h-1zM63 53h1v1h-1zM74 53h1v1h-1zM65 54h1v1h-1zM74 54h1v1h-1zM77 54h1v1h-1zM40 55h1v1h-1zM41 56h1v1h-1zM50 56h1v1h-1zM52 56h1v1h-1zM33 58h1v1h-1zM44 58h2v1h-2zM50 58h1v1h-1zM45 60h1v1h-1zM76 60h1v1h-1zM33 61h1v1h-1zM37 61h1v1h-1zM46 61h1v1h-1zM51 61h1v1h-1zM37 62h2v1h-2zM58 62h1v1h-1zM39 64h1v1h-1zM44 64h1v1h-1zM52 64h1v1h-1zM65 64h1v1h-1zM34 65h1v1h-1zM41 65h1v1h-1zM49 65h1v1h-1zM61 65h1v1h-1zM63 65h1v1h-1zM47 67h1v1h-1zM54 67h1v1h-1zM60 67h1v1h-1zM36 68h1v1h-1zM39 68h1v1h-1zM46 68h1v1h-1zM49 68h1v1h-1zM57 68h1v1h-1zM47 69h1v1h-1zM51 70h1v1h-1zM58 70h1v1h-1zM62 70h1v1h-1zM60 71h1v1h-1zM69 71h1v1h-1zM32 72h1v1h-1zM51 72h1v1h-1zM55 72h2v1h-2zM58 72h1v1h-1zM69 72h1v1h-1zM77 72h1v1h-1zM48 73h1v1h-1zM54 73h1v1h-1zM59 73h1v1h-1zM69 73h1v1h-1zM35 74h2v1h-2zM75 74h1v1h-1zM50 75h1v1h-1zM53 75h1v1h-1zM56 75h1v1h-1zM42 76h1v1h-1zM46 76h1v1h-1zM67 76h1v1h-1zM75 76h1v1h-1zM35 77h1v1h-1zM41 77h1v1h-1zM76 77h1v1h-1z"/><path fill="#bed2e6" d="M9 0h1v1h-1zM26 0h1v1h-1zM40 0h1v1h-1zM13 1h2v1h-2zM19 2h1v1h-1zM35 2h1v1h-1zM38 2h1v1h-1zM47 2h1v1h-1zM13 3h1v1h-1zM17 3h1v1h-1zM22 3h1v1h-1zM13 4h1v1h-1zM19 4h1v1h-1zM25 4h1v1h-1zM2 5h1v1h-1zM0 6h1v1h-1zM12 6h1v1h-1zM15 6h1v1h-1zM29 6h1v1h-1zM25 7h1v1h-1zM57 7h1v1h-1zM19 8h1v1h-1zM27 8h1v1h-1zM6 9h1v1h-1zM30 9h1v1h-1zM35 9h1v1h-1zM15 10h1v1h-1zM4 11h1v1h-1zM30 11h1v1h-1zM34 11h1v1h-1zM14 12h1v1h-1zM17 12h1v1h-1zM29 13h1v1h-1zM2 14h1v1h-1zM20 14h1v1h-1zM6 16h1v1h-1zM8 16h1v1h-1zM37 16h1v1h-1zM0 18h1v1h-1zM8 18h1v1h-1zM16 18h1v1h-1zM29 18h1v1h-1zM2 20h1v1h-1zM6 20h1v1h-1zM12 20h1v1h-1zM17 20h1v1h-1zM22 20h1v1h-1zM27 20h1v1h-1zM70 20h1v1h-1zM0 21h1v1h-1zM15 21h1v1h-1zM26 21h1v1h-1zM29 21h1v1h-1zM1 22h1v1h-1zM29 22h1v1h-1zM2 23h1v1h-1zM7 23h1v1h-1zM18 23h2v1h-2zM24 23h1v1h-1zM7 24h1v1h-1zM12 24h2v1h-2zM16 24h1v1h-1zM23 25h2v1h-2zM0 26h1v1h-1zM2 26h1v1h-1zM4 26h1v1h-1zM11 26h1v1h-1zM22 26h1v1h-1zM26 26h1v1h-1zM9 27h1v1h-1zM18 27h1v1h-1zM10 28h1v1h-1zM16 28h1v1h-1zM24 29h1v1h-1zM18 30h2v1h-2zM30 30h1v1h-1zM75 30h1v1h-1zM14 31h1v1h-1zM31 31h1v1h-1zM3 32h1v1h-1zM14 32h1v1h-1zM27 33h1v1h-1zM30 33h1v1h-1zM29 34h1v1h-1zM5 35h1v1h-1zM26 35h1v1h-1zM30 35h1v1h-1zM6 36h1v1h-1zM7 37h1v1h-1zM16 37h1v1h-1zM23 37h1v1h-1zM26 37h1v1h-1zM77 37h1v1h-1zM12 38h1v1h-1zM26 38h1v1h-1zM8 39h1v1h-1zM21 39h1v1h-1zM75 39h1v1h-1zM7 40h2v1h-2zM14 40h1v1h-1zM25 40h1v1h-1zM61 40h1v1h-1zM1 41h1v1h-1zM8 41h1v1h-1zM26 41h1v1h-1zM1 42h1v1h-1zM68 42h1v1h-1zM75 42h1v1h-1zM14 43h1v1h-1zM24 43h1v1h-1zM28 43h1v1h-1zM66 43h1v1h-1zM2 44h1v1h-1zM12 44h2v1h-2zM22 44h1v1h-1zM4 45h1v1h-1zM18 45h1v1h-1zM71 45h1v1h-1zM46 46h1v1h-1zM42 47h1v1h-1zM44 47h1v1h-1zM66 47h1v1h-1zM68 47h1v1h-1zM43 48h1v1h-1zM55 48h2v1h-2zM59 48h1v1h-1zM53 49h1v1h-1zM44 50h1v1h-1zM57 50h1v1h-1zM69 50h1v1h-1zM36 51h1v1h-1zM39 51h2v1h-2zM51 51h1v1h-1zM56 51h1v1h-1zM77 51h1v1h-1zM37 52h1v1h-1zM70 52h1v1h-1zM73 52h1v1h-1zM34 53h1v1h-1zM52 53h1v1h-1zM54 53h1v1h-1zM60 53h1v1h-1zM40 54h1v1h-1zM52 54h1v1h-1zM33 55h1v1h-1zM51 55h1v1h-1zM74 55h1v1h-1zM35 56h1v1h-1zM38 56h1v1h-1zM63 57h1v1h-1zM75 57h1v1h-1zM47 58h1v1h-1zM54 58h1v1h-1zM69 58h1v1h-1zM73 58h1v1h-1zM75 58h1v1h-1zM32 59h1v1h-1zM47 59h1v1h-1zM50 59h1v1h-1zM54 59h1v1h-1zM57 60h1v1h-1zM65 60h1v1h-1zM74 60h1v1h-1zM40 61h1v1h-1zM49 61h1v1h-1zM53 61h1v1h-1zM59 61h1v1h-1zM56 62h1v1h-1zM67 62h1v1h-1zM71 62h1v1h-1zM34 63h1v1h-1zM37 63h1v1h-1zM45 63h2v1h-2zM65 63h1v1h-1zM76 63h1v1h-1zM33 64h1v1h-1zM53 64h1v1h-1zM73 64h2v1h-2zM76 64h1v1h-1zM33 65h1v1h-1zM53 65h1v1h-1zM57 65h1v1h-1zM59 65h1v1h-1zM71 65h1v1h-1zM51 66h1v1h-1zM49 67h1v1h-1zM50 68h1v1h-1zM77 68h1v1h-1zM36 69h3v1h-3zM59 69h1v1h-1zM61 69h1v1h-1zM37 70h1v1h-1zM40 70h1v1h-1zM53 70h2v1h-2zM41 71h1v1h-1zM57 71h1v1h-1zM61 71h1v1h-1zM68 71h1v1h-1zM50 72h1v1h-1zM32 73h1v1h-1zM51 73h1v1h-1zM66 73h1v1h-1zM33 75h1v1h-1zM51 75h1v1h-1zM54 75h1v1h-1zM57 75h1v1h-1zM63 75h1v1h-1zM72 75h1v1h-1zM35 76h2v1h-2zM55 76h1v1h-1zM51 77h1v1h-1zM56 77h1v1h-1zM59 77h1v1h-1zM71 77h1v1h-1z"/><path fill="#f0d2c8" d="M10 0h1v1h-1zM66 1h1v1h-1zM35 3h1v1h-1zM24 8h1v1h-1zM41 9h1v1h-1zM36 10h1v1h-1zM57 10h1v1h-1zM39 11h1v1h-1zM76 11h1v1h-1zM19 12h1v1h-1zM57 12h1v1h-1zM26 14h1v1h-1zM63 14h1v1h-1zM34 17h1v1h-1zM65 20h1v1h-1zM67 20h1v1h-1zM17 21h1v1h-1zM37 21h2v1h-2zM41 21h1v1h-1zM31 22h1v1h-1zM39 22h1v1h-1zM49 22h1v1h-1zM50 23h1v1h-1zM40 24h1v1h-1zM51 24h1v1h-1zM50 26h1v1h-1zM53 26h1v1h-1zM51 27h1v1h-1zM54 27h1v1h-1zM55 28h1v1h-1zM35 36h1v1h-1zM56 36h1v1h-1zM68 36h1v1h-1zM53 37h1v1h-1zM55 38h1v1h-1zM66 38h1v1h-1zM35 39h1v1h-1zM56 39h1v1h-1zM56 40h1v1h-1zM67 41h1v1h-1zM38 42h1v1h-1zM41 42h1v1h-1zM60 43h1v1h-1zM1 46h1v1h-1zM17 47h1v1h-1zM9 49h1v1h-1zM14 50h1v1h-1zM27 50h1v1h-1zM12 51h1v1h-1zM20 51h1v1h-1zM63 51h1v1h-1zM22 52h1v1h-1zM69 53h1v1h-1zM7 54h1v1h-1zM9 55h1v1h-1zM25 55h1v1h-1zM10 59h1v1h-1zM6 60h1v1h-1zM56 60h1v1h-1zM7 61h1v1h-1zM27 63h1v1h-1zM6 64h1v1h-1zM13 64h1v1h-1zM9 65h1v1h-1zM3 67h1v1h-1zM9 67h1v1h-1zM18 67h1v1h-1zM10 68h1v1h-1zM12 68h1v1h-1zM22 68h1v1h-1zM28 68h1v1h-1zM16 70h1v1h-1zM23 70h1v1h-1zM1 71h1v1h-1zM13 71h1v1h-1zM17 71h1v1h-1zM1 73h1v1h-1zM2 74h1v1h-1zM10 74h1v1h-1zM3 75h1v1h-1zM4 76h1v1h-1zM6 76h1v1h-1zM31 76h1v1h-1z"/><path fill="#c8dce6" d="M11 0h1v1h-1zM22 1h1v1h-1zM49 1h1v1h-1zM59 1h1v1h-1zM13 2h1v1h-1zM21 2h1v1h-1zM25 2h1v1h-1zM2 4h1v1h-1zM50 4h1v1h-1zM0 5h1v1h-1zM3 5h1v1h-1zM14 5h1v1h-1zM20 5h1v1h-1zM35 5h1v1h-1zM56 5h1v1h-1zM58 5h1v1h-1zM11 6h1v1h-1zM24 6h1v1h-1zM65 6h1v1h-1zM41 7h1v1h-1zM32 8h1v1h-1zM37 8h1v1h-1zM50 8h1v1h-1zM53 8h1v1h-1zM57 8h1v1h-1zM9 9h1v1h-1zM13 9h1v1h-1zM16 9h1v1h-1zM27 9h1v1h-1zM10 10h1v1h-1zM21 10h2v1h-2zM20 11h1v1h-1zM24 12h1v1h-1zM71 12h1v1h-1zM0 13h1v1h-1zM4 13h1v1h-1zM10 13h1v1h-1zM20 13h1v1h-1zM25 14h1v1h-1zM32 14h2v1h-2zM37 14h1v1h-1zM59 14h1v1h-1zM3 15h1v1h-1zM60 15h1v1h-1zM1 16h1v1h-1zM7 16h1v1h-1zM19 17h1v1h-1zM62 17h1v1h-1zM7 18h1v1h-1zM14 18h1v1h-1zM24 18h2v1h-2zM63 18h1v1h-1zM76 18h1v1h-1zM12 19h1v1h-1zM72 19h1v1h-1zM19 20h1v1h-1zM30 20h1v1h-1zM69 20h1v1h-1zM6 21h1v1h-1zM25 21h1v1h-1zM28 21h1v1h-1zM72 21h1v1h-1zM9 22h1v1h-1zM11 22h1v1h-1zM24 22h1v1h-1zM27 22h2v1h-2zM12 23h1v1h-1zM15 23h1v1h-1zM27 23h1v1h-1zM21 24h1v1h-1zM3 25h1v1h-1zM25 25h1v1h-1zM27 26h1v1h-1zM4 27h1v1h-1zM13 27h1v1h-1zM25 27h1v1h-1zM69 27h1v1h-1zM73 27h1v1h-1zM1 28h1v1h-1zM17 28h1v1h-1zM76 28h1v1h-1zM19 29h1v1h-1zM3 30h1v1h-1zM29 30h1v1h-1zM7 31h1v1h-1zM11 31h1v1h-1zM4 32h1v1h-1zM31 32h1v1h-1zM4 33h1v1h-1zM11 33h1v1h-1zM29 33h1v1h-1zM1 34h1v1h-1zM8 34h1v1h-1zM19 34h1v1h-1zM30 34h1v1h-1zM9 35h1v1h-1zM12 35h1v1h-1zM25 35h1v1h-1zM27 35h1v1h-1zM31 35h1v1h-1zM25 36h1v1h-1zM29 36h1v1h-1zM70 36h1v1h-1zM4 37h1v1h-1zM11 37h1v1h-1zM13 37h1v1h-1zM30 37h1v1h-1zM25 38h1v1h-1zM0 39h1v1h-1zM31 40h1v1h-1zM63 40h1v1h-1zM69 40h1v1h-1zM29 41h1v1h-1zM72 42h1v1h-1zM6 43h1v1h-1zM13 43h1v1h-1zM20 43h1v1h-1zM63 44h1v1h-1zM22 45h1v1h-1zM27 45h2v1h-2zM63 45h1v1h-1zM69 45h1v1h-1zM37 46h1v1h-1zM42 46h1v1h-1zM45 46h1v1h-1zM48 46h1v1h-1zM40 47h1v1h-1zM43 47h1v1h-1zM57 47h1v1h-1zM36 48h1v1h-1zM41 48h1v1h-1zM44 48h1v1h-1zM47 48h1v1h-1zM32 49h1v1h-1zM55 49h2v1h-2zM32 50h1v1h-1zM42 50h1v1h-1zM51 50h1v1h-1zM54 50h2v1h-2zM68 50h1v1h-1zM39 52h1v1h-1zM41 52h2v1h-2zM44 52h1v1h-1zM50 52h1v1h-1zM52 52h1v1h-1zM56 52h1v1h-1zM59 52h1v1h-1zM63 52h1v1h-1zM75 52h1v1h-1zM55 53h1v1h-1zM59 53h1v1h-1zM65 53h1v1h-1zM71 53h1v1h-1zM32 55h1v1h-1zM67 55h1v1h-1zM76 55h1v1h-1zM53 56h2v1h-2zM75 56h1v1h-1zM34 57h1v1h-1zM64 57h1v1h-1zM66 57h1v1h-1zM43 58h1v1h-1zM48 58h1v1h-1zM57 58h1v1h-1zM60 58h1v1h-1zM74 59h1v1h-1zM49 60h1v1h-1zM68 61h1v1h-1zM54 62h1v1h-1zM59 63h1v1h-1zM72 63h1v1h-1zM34 64h1v1h-1zM40 64h1v1h-1zM51 64h1v1h-1zM68 64h1v1h-1zM75 64h1v1h-1zM42 65h1v1h-1zM54 65h1v1h-1zM58 65h1v1h-1zM40 66h1v1h-1zM44 66h1v1h-1zM46 66h1v1h-1zM55 66h1v1h-1zM71 66h1v1h-1zM77 66h1v1h-1zM64 67h1v1h-1zM67 67h1v1h-1zM42 68h1v1h-1zM55 68h1v1h-1zM68 68h1v1h-1zM43 69h1v1h-1zM46 70h1v1h-1zM59 70h1v1h-1zM61 70h1v1h-1zM34 71h1v1h-1zM56 71h1v1h-1zM40 73h1v1h-1zM44 73h2v1h-2zM50 73h1v1h-1zM64 73h1v1h-1zM47 74h1v1h-1zM52 74h1v1h-1zM62 74h1v1h-1zM72 74h1v1h-1zM73 75h1v1h-1zM43 76h1v1h-1zM49 76h1v1h-1zM61 76h1v1h-1zM64 77h1v1h-1zM72 77h1v1h-1z"/><path fill="#c8dcf0" d="M12 0h1v1h-1zM54 1h1v1h-1zM4 2h1v1h-1zM17 2h1v1h-1zM34 2h1v1h-1zM43 2h1v1h-1zM64 2h1v1h-1zM14 3h1v1h-1zM14 4h1v1h-1zM22 4h1v1h-1zM4 6h1v1h-1zM19 6h1v1h-1zM64 6h1v1h-1zM7 7h1v1h-1zM58 7h1v1h-1zM30 8h1v1h-1zM39 9h1v1h-1zM24 10h1v1h-1zM27 10h1v1h-1zM1 11h1v1h-1zM15 11h1v1h-1zM18 12h1v1h-1zM51 12h1v1h-1zM16 13h1v1h-1zM71 13h1v1h-1zM75 13h1v1h-1zM34 14h1v1h-1zM6 15h1v1h-1zM9 16h1v1h-1zM29 17h1v1h-1zM1 19h1v1h-1zM11 19h1v1h-1zM70 19h1v1h-1zM8 20h1v1h-1zM2 22h2v1h-2zM76 23h1v1h-1zM6 25h1v1h-1zM9 25h1v1h-1zM16 25h1v1h-1zM65 26h1v1h-1zM0 27h1v1h-1zM11 28h1v1h-1zM14 28h1v1h-1zM23 30h1v1h-1zM22 31h1v1h-1zM2 33h1v1h-1zM75 34h1v1h-1zM3 35h1v1h-1zM7 35h1v1h-1zM0 38h1v1h-1zM68 38h1v1h-1zM6 39h1v1h-1zM29 39h1v1h-1zM25 41h1v1h-1zM27 42h1v1h-1zM9 43h2v1h-2zM30 43h1v1h-1zM63 43h1v1h-1zM75 43h1v1h-1zM4 44h1v1h-1zM8 44h1v1h-1zM28 44h1v1h-1zM24 45h1v1h-1zM31 46h1v1h-1zM34 47h1v1h-1zM69 47h1v1h-1zM38 48h1v1h-1zM60 48h1v1h-1zM33 49h1v1h-1zM35 50h1v1h-1zM67 50h1v1h-1zM36 52h1v1h-1zM32 53h1v1h-1zM47 54h1v1h-1zM46 55h1v1h-1zM73 55h1v1h-1zM32 56h1v1h-1zM65 58h1v1h-1zM71 58h1v1h-1zM65 59h1v1h-1zM75 60h1v1h-1zM52 61h1v1h-1zM64 61h1v1h-1zM66 62h1v1h-1zM49 63h1v1h-1zM73 63h2v1h-2zM77 65h1v1h-1zM49 66h1v1h-1zM58 66h1v1h-1zM34 67h1v1h-1zM61 68h1v1h-1zM33 69h1v1h-1zM48 69h1v1h-1zM57 69h1v1h-1zM42 70h1v1h-1zM70 70h1v1h-1zM38 71h1v1h-1zM52 71h1v1h-1zM62 71h1v1h-1zM33 73h1v1h-1zM71 73h1v1h-1zM75 73h1v1h-1zM42 74h1v1h-1zM55 74h1v1h-1zM44 75h1v1h-1zM58 76h1v1h-1zM66 76h1v1h-1zM39 77h1v1h-1zM50 77h1v1h-1z"/><path fill="#e6e6f0" d="M13 0h1v1h-1zM25 1h1v1h-1zM8 2h1v1h-1zM22 2h1v1h-1zM4 4h1v1h-1zM40 5h1v1h-1zM65 5h1v1h-1zM2 6h1v1h-1zM24 7h1v1h-1zM13 10h1v1h-1zM46 10h1v1h-1zM72 12h1v1h-1zM12 13h1v1h-1zM0 14h1v1h-1zM10 14h1v1h-1zM14 14h1v1h-1zM43 14h1v1h-1zM36 15h1v1h-1zM3 16h1v1h-1zM8 17h1v1h-1zM37 17h1v1h-1zM28 18h1v1h-1zM44 20h1v1h-1zM45 22h1v1h-1zM13 23h1v1h-1zM2 25h1v1h-1zM67 31h1v1h-1zM6 32h1v1h-1zM55 32h1v1h-1zM57 33h1v1h-1zM63 34h1v1h-1zM5 37h1v1h-1zM72 37h1v1h-1zM60 40h1v1h-1zM13 41h1v1h-1zM62 41h1v1h-1zM59 49h1v1h-1zM76 52h1v1h-1zM70 53h1v1h-1zM75 55h1v1h-1zM63 63h1v1h-1zM36 64h1v1h-1zM54 64h1v1h-1zM67 64h1v1h-1zM77 64h1v1h-1zM64 65h1v1h-1zM63 67h1v1h-1zM60 69h1v1h-1zM75 69h1v1h-1zM45 71h1v1h-1zM40 72h1v1h-1zM73 73h1v1h-1zM61 74h1v1h-1zM52 75h1v1h-1zM71 75h1v1h-1zM63 77h1v1h-1z"/><path fill="#faf0f0" d="M15 0h1v1h-1zM34 0h1v1h-1zM41 0h2v1h-2zM47 0h1v1h-1zM50 0h1v1h-1zM59 0h1v1h-1zM62 0h1v1h-1zM9 1h1v1h-1zM21 1h1v1h-1zM32 1h1v1h-1zM44 1h1v1h-1zM61 1h1v1h-1zM68 1h1v1h-1zM27 2h1v1h-1zM36 2h1v1h-1zM41 2h1v1h-1zM49 2h1v1h-1zM59 2h1v1h-1zM6 3h1v1h-1zM19 3h1v1h-1zM25 3h1v1h-1zM43 3h1v1h-1zM49 3h1v1h-1zM52 3h2v1h-2zM8 4h1v1h-1zM31 4h1v1h-1zM55 4h1v1h-1zM64 4h1v1h-1zM13 5h1v1h-1zM17 5h1v1h-1zM29 5h1v1h-1zM43 5h1v1h-1zM57 5h1v1h-1zM59 5h1v1h-1zM67 5h1v1h-1zM28 6h1v1h-1zM40 6h1v1h-1zM50 6h1v1h-1zM59 6h1v1h-1zM62 6h1v1h-1zM66 6h1v1h-1zM10 7h1v1h-1zM12 7h1v1h-1zM15 7h1v1h-1zM17 7h2v1h-2zM21 7h1v1h-1zM26 7h2v1h-2zM34 7h1v1h-1zM56 7h1v1h-1zM59 7h1v1h-1zM62 7h1v1h-1zM10 8h1v1h-1zM20 8h2v1h-2zM26 8h1v1h-1zM29 8h1v1h-1zM41 8h1v1h-1zM55 8h1v1h-1zM17 9h1v1h-1zM34 9h1v1h-1zM36 9h2v1h-2zM40 9h1v1h-1zM46 9h1v1h-1zM50 9h1v1h-1zM55 9h1v1h-1zM58 9h1v1h-1zM62 9h1v1h-1zM68 9h1v1h-1zM73 9h1v1h-1zM0 10h1v1h-1zM12 10h1v1h-1zM14 10h1v1h-1zM48 10h1v1h-1zM51 10h1v1h-1zM60 10h1v1h-1zM67 10h1v1h-1zM72 10h1v1h-1zM3 11h1v1h-1zM49 11h1v1h-1zM51 11h1v1h-1zM58 11h1v1h-1zM60 11h1v1h-1zM62 11h1v1h-1zM66 11h1v1h-1zM71 11h1v1h-1zM10 12h1v1h-1zM35 12h3v1h-3zM41 12h1v1h-1zM44 12h3v1h-3zM48 12h1v1h-1zM56 12h1v1h-1zM60 12h1v1h-1zM2 13h1v1h-1zM6 13h1v1h-1zM13 13h1v1h-1zM39 13h2v1h-2zM52 13h1v1h-1zM58 13h1v1h-1zM73 13h1v1h-1zM15 14h1v1h-1zM21 14h1v1h-1zM27 14h1v1h-1zM29 14h1v1h-1zM55 14h1v1h-1zM57 14h1v1h-1zM70 14h1v1h-1zM16 15h2v1h-2zM29 15h2v1h-2zM33 15h1v1h-1zM42 15h1v1h-1zM47 15h1v1h-1zM58 15h1v1h-1zM66 15h1v1h-1zM68 15h1v1h-1zM70 15h2v1h-2zM77 15h1v1h-1zM4 16h1v1h-1zM25 16h2v1h-2zM30 16h1v1h-1zM41 16h1v1h-1zM44 16h1v1h-1zM48 16h1v1h-1zM50 16h1v1h-1zM60 16h1v1h-1zM76 16h1v1h-1zM1 17h1v1h-1zM18 17h1v1h-1zM28 17h1v1h-1zM46 17h1v1h-1zM61 17h1v1h-1zM65 17h3v1h-3zM3 18h1v1h-1zM47 18h1v1h-1zM52 18h1v1h-1zM70 18h3v1h-3zM75 18h1v1h-1zM77 18h1v1h-1zM26 19h1v1h-1zM28 19h1v1h-1zM36 19h1v1h-1zM55 19h2v1h-2zM62 19h1v1h-1zM64 19h1v1h-1zM66 19h1v1h-1zM68 19h1v1h-1zM5 20h1v1h-1zM23 20h1v1h-1zM34 20h1v1h-1zM63 20h1v1h-1zM72 20h1v1h-1zM36 21h1v1h-1zM52 21h2v1h-2zM58 21h1v1h-1zM65 21h1v1h-1zM70 21h1v1h-1zM20 22h1v1h-1zM44 22h1v1h-1zM58 22h1v1h-1zM62 22h2v1h-2zM69 22h1v1h-1zM73 22h1v1h-1zM44 23h1v1h-1zM53 23h2v1h-2zM14 24h1v1h-1zM48 24h1v1h-1zM54 24h1v1h-1zM56 24h1v1h-1zM74 24h1v1h-1zM10 25h1v1h-1zM29 25h1v1h-1zM56 25h1v1h-1zM59 25h1v1h-1zM64 25h1v1h-1zM74 25h1v1h-1zM6 26h1v1h-1zM19 26h1v1h-1zM32 26h1v1h-1zM42 26h1v1h-1zM66 26h2v1h-2zM33 27h1v1h-1zM61 27h1v1h-1zM68 27h1v1h-1zM71 27h1v1h-1zM77 27h1v1h-1zM33 28h1v1h-1zM66 28h1v1h-1zM74 28h2v1h-2zM32 29h1v1h-1zM34 29h1v1h-1zM53 29h1v1h-1zM61 29h1v1h-1zM65 29h1v1h-1zM67 29h1v1h-1zM59 30h1v1h-1zM62 30h1v1h-1zM77 30h1v1h-1zM0 31h1v1h-1zM10 31h1v1h-1zM60 31h1v1h-1zM65 31h1v1h-1zM68 31h1v1h-1zM65 32h1v1h-1zM71 32h1v1h-1zM54 33h2v1h-2zM61 33h1v1h-1zM65 33h1v1h-1zM76 33h1v1h-1zM60 34h1v1h-1zM72 34h3v1h-3zM34 35h1v1h-1zM51 35h1v1h-1zM53 35h1v1h-1zM62 35h1v1h-1zM77 35h1v1h-1zM5 36h1v1h-1zM33 36h1v1h-1zM61 36h1v1h-1zM65 36h1v1h-1zM69 36h1v1h-1zM73 36h1v1h-1zM75 36h1v1h-1zM77 36h1v1h-1zM0 37h1v1h-1zM64 37h1v1h-1zM68 37h1v1h-1zM71 37h1v1h-1zM32 38h1v1h-1zM64 38h1v1h-1zM13 40h1v1h-1zM65 40h1v1h-1zM68 40h1v1h-1zM32 41h2v1h-2zM56 41h1v1h-1zM58 41h1v1h-1zM65 41h1v1h-1zM68 41h1v1h-1zM75 41h1v1h-1zM4 42h1v1h-1zM65 42h1v1h-1zM42 43h1v1h-1zM48 43h1v1h-1zM57 43h1v1h-1zM68 43h1v1h-1zM70 43h1v1h-1zM77 43h1v1h-1zM27 44h1v1h-1zM36 44h1v1h-1zM49 44h2v1h-2zM62 44h1v1h-1zM1 45h1v1h-1zM36 45h1v1h-1zM39 45h1v1h-1zM48 45h1v1h-1zM51 45h1v1h-1zM76 45h1v1h-1zM73 46h1v1h-1zM0 47h1v1h-1zM11 47h1v1h-1zM13 47h1v1h-1zM29 47h1v1h-1zM61 47h2v1h-2zM0 48h1v1h-1zM6 48h2v1h-2zM9 48h1v1h-1zM17 48h1v1h-1zM21 48h1v1h-1zM30 48h1v1h-1zM52 48h1v1h-1zM62 48h2v1h-2zM68 48h2v1h-2zM72 48h1v1h-1zM2 49h1v1h-1zM58 49h1v1h-1zM60 49h1v1h-1zM71 49h1v1h-1zM1 50h1v1h-1zM15 50h1v1h-1zM33 50h1v1h-1zM63 50h1v1h-1zM70 50h1v1h-1zM75 50h1v1h-1zM58 51h1v1h-1zM61 51h1v1h-1zM69 51h2v1h-2zM21 52h1v1h-1zM23 52h1v1h-1zM61 52h1v1h-1zM74 52h1v1h-1zM13 53h1v1h-1zM25 54h1v1h-1zM63 54h1v1h-1zM8 55h1v1h-1zM1 56h3v1h-3zM25 56h1v1h-1zM29 56h1v1h-1zM63 56h1v1h-1zM69 56h2v1h-2zM76 56h1v1h-1zM0 57h1v1h-1zM55 57h1v1h-1zM69 57h1v1h-1zM8 58h1v1h-1zM51 58h1v1h-1zM74 58h1v1h-1zM0 59h1v1h-1zM6 59h1v1h-1zM60 59h1v1h-1zM70 59h1v1h-1zM2 60h1v1h-1zM29 60h1v1h-1zM62 60h1v1h-1zM68 60h1v1h-1zM70 60h1v1h-1zM72 60h1v1h-1zM10 61h1v1h-1zM62 61h1v1h-1zM8 62h1v1h-1zM15 62h1v1h-1zM27 62h1v1h-1zM63 62h1v1h-1zM70 62h1v1h-1zM77 62h1v1h-1zM53 63h1v1h-1zM67 63h1v1h-1zM30 64h1v1h-1zM37 64h1v1h-1zM64 64h1v1h-1zM72 64h1v1h-1zM67 65h1v1h-1zM70 65h1v1h-1zM30 66h1v1h-1zM5 67h1v1h-1zM8 67h1v1h-1zM16 67h1v1h-1zM52 67h1v1h-1zM65 67h1v1h-1zM69 67h1v1h-1zM29 68h1v1h-1zM76 68h1v1h-1zM5 69h1v1h-1zM10 69h1v1h-1zM15 69h1v1h-1zM19 69h1v1h-1zM22 69h1v1h-1zM73 69h1v1h-1zM1 70h1v1h-1zM18 71h1v1h-1zM29 71h1v1h-1zM51 71h1v1h-1zM64 71h1v1h-1zM74 71h1v1h-1zM8 72h1v1h-1zM10 72h1v1h-1zM41 72h1v1h-1zM57 72h1v1h-1zM35 73h1v1h-1zM61 73h1v1h-1zM1 74h1v1h-1zM21 74h1v1h-1zM59 74h1v1h-1zM66 74h1v1h-1zM0 75h1v1h-1zM17 75h1v1h-1zM21 75h1v1h-1zM28 75h1v1h-1zM39 75h1v1h-1zM64 75h1v1h-1zM3 76h1v1h-1zM7 76h1v1h-1zM13 76h1v1h-1zM21 76h1v1h-1zM27 76h1v1h-1zM32 76h1v1h-1zM60 76h1v1h-1zM2 77h1v1h-1zM18 77h1v1h-1zM20 77h1v1h-1zM29 77h2v1h-2zM40 77h1v1h-1zM46 77h1v1h-1zM67 77h1v1h-1z"/><path fill="#f0c8c8" d="M16 0h1v1h-1zM67 0h1v1h-1zM52 1h1v1h-1zM67 3h1v1h-1zM67 6h1v1h-1zM51 7h1v1h-1zM67 7h1v1h-1zM33 9h1v1h-1zM51 9h1v1h-1zM20 10h1v1h-1zM70 10h2v1h-2zM74 10h1v1h-1zM77 10h1v1h-1zM9 11h1v1h-1zM22 11h1v1h-1zM43 12h1v1h-1zM77 12h1v1h-1zM57 13h1v1h-1zM49 14h1v1h-1zM55 15h1v1h-1zM38 16h1v1h-1zM35 18h1v1h-1zM51 18h1v1h-1zM56 18h1v1h-1zM45 19h1v1h-1zM52 19h1v1h-1zM36 20h1v1h-1zM50 20h1v1h-1zM54 20h1v1h-1zM64 20h1v1h-1zM40 21h1v1h-1zM55 21h1v1h-1zM59 21h1v1h-1zM34 22h1v1h-1zM37 22h1v1h-1zM56 22h1v1h-1zM40 23h1v1h-1zM51 23h1v1h-1zM56 23h2v1h-2zM46 25h1v1h-1zM49 25h1v1h-1zM58 25h1v1h-1zM76 25h1v1h-1zM54 26h1v1h-1zM59 26h1v1h-1zM68 26h1v1h-1zM70 26h1v1h-1zM73 26h1v1h-1zM36 27h1v1h-1zM39 27h1v1h-1zM57 27h1v1h-1zM52 28h1v1h-1zM63 28h1v1h-1zM44 29h1v1h-1zM76 29h1v1h-1zM33 30h1v1h-1zM45 30h1v1h-1zM43 31h1v1h-1zM52 31h1v1h-1zM33 32h1v1h-1zM40 32h1v1h-1zM47 32h1v1h-1zM58 32h1v1h-1zM48 33h1v1h-1zM32 34h1v1h-1zM46 34h1v1h-1zM65 34h1v1h-1zM45 37h1v1h-1zM54 37h1v1h-1zM56 37h1v1h-1zM50 38h1v1h-1zM61 39h1v1h-1zM55 40h1v1h-1zM50 41h1v1h-1zM57 41h1v1h-1zM32 42h2v1h-2zM59 42h1v1h-1zM55 43h1v1h-1zM35 44h1v1h-1zM45 44h1v1h-1zM47 44h1v1h-1zM68 44h1v1h-1zM35 45h1v1h-1zM43 45h1v1h-1zM6 46h1v1h-1zM23 47h2v1h-2zM5 48h1v1h-1zM8 48h1v1h-1zM11 48h2v1h-2zM15 48h1v1h-1zM20 48h1v1h-1zM25 48h1v1h-1zM29 48h1v1h-1zM6 49h1v1h-1zM17 49h1v1h-1zM16 50h3v1h-3zM22 51h1v1h-1zM24 51h1v1h-1zM29 52h1v1h-1zM1 53h2v1h-2zM5 53h2v1h-2zM30 53h1v1h-1zM13 54h2v1h-2zM30 54h1v1h-1zM26 55h1v1h-1zM66 55h1v1h-1zM6 56h2v1h-2zM10 56h1v1h-1zM7 57h1v1h-1zM18 57h1v1h-1zM29 57h1v1h-1zM72 57h1v1h-1zM14 58h1v1h-1zM18 59h1v1h-1zM20 59h1v1h-1zM27 59h1v1h-1zM3 60h1v1h-1zM16 60h1v1h-1zM27 60h2v1h-2zM17 61h1v1h-1zM27 61h1v1h-1zM77 61h1v1h-1zM9 62h1v1h-1zM29 62h1v1h-1zM19 63h1v1h-1zM23 63h1v1h-1zM2 64h1v1h-1zM23 64h1v1h-1zM5 65h1v1h-1zM7 65h1v1h-1zM29 65h2v1h-2zM2 66h1v1h-1zM4 66h1v1h-1zM7 66h1v1h-1zM29 66h1v1h-1zM4 67h1v1h-1zM10 67h1v1h-1zM21 67h1v1h-1zM0 68h1v1h-1zM15 68h1v1h-1zM34 68h1v1h-1zM52 68h1v1h-1zM66 68h1v1h-1zM29 69h1v1h-1zM58 69h1v1h-1zM11 70h2v1h-2zM20 70h2v1h-2zM2 71h1v1h-1zM21 71h1v1h-1zM24 71h1v1h-1zM28 71h1v1h-1zM31 71h1v1h-1zM4 72h1v1h-1zM12 72h1v1h-1zM24 72h1v1h-1zM29 72h1v1h-1zM71 72h1v1h-1zM5 73h1v1h-1zM10 73h2v1h-2zM17 74h1v1h-1zM19 74h1v1h-1zM6 75h1v1h-1zM11 75h1v1h-1zM13 75h1v1h-1zM24 75h1v1h-1zM17 76h1v1h-1zM24 76h1v1h-1zM9 77h1v1h-1z"/><path fill="#aac8e6" d="M17 0h1v1h-1zM23 1h1v1h-1zM47 1h1v1h-1zM6 2h1v1h-1zM1 3h1v1h-1zM18 4h1v1h-1zM5 5h1v1h-1zM6 7h1v1h-1zM21 11h1v1h-1zM21 13h1v1h-1zM51 14h1v1h-1zM52 16h1v1h-1zM53 17h1v1h-1zM10 18h1v1h-1zM31 18h1v1h-1zM13 20h1v1h-1zM15 20h1v1h-1zM25 20h1v1h-1zM29 20h1v1h-1zM22 21h1v1h-1zM30 21h1v1h-1zM21 22h1v1h-1zM0 23h1v1h-1zM9 23h1v1h-1zM20 23h1v1h-1zM17 24h1v1h-1zM60 24h1v1h-1zM15 25h1v1h-1zM17 25h1v1h-1zM19 25h1v1h-1zM61 25h1v1h-1zM15 27h1v1h-1zM18 29h1v1h-1zM26 29h1v1h-1zM12 30h1v1h-1zM76 30h1v1h-1zM1 32h1v1h-1zM11 32h1v1h-1zM30 32h1v1h-1zM1 33h1v1h-1zM10 33h1v1h-1zM18 33h1v1h-1zM28 33h1v1h-1zM18 34h1v1h-1zM26 34h3v1h-3zM18 35h1v1h-1zM20 35h1v1h-1zM22 35h1v1h-1zM13 36h1v1h-1zM15 36h1v1h-1zM19 36h2v1h-2zM3 37h1v1h-1zM12 37h1v1h-1zM25 37h1v1h-1zM27 37h1v1h-1zM4 38h1v1h-1zM23 39h1v1h-1zM25 39h1v1h-1zM1 40h1v1h-1zM29 40h1v1h-1zM2 41h1v1h-1zM14 41h1v1h-1zM16 41h1v1h-1zM16 42h2v1h-2zM19 42h1v1h-1zM26 42h1v1h-1zM11 43h1v1h-1zM29 43h1v1h-1zM3 44h1v1h-1zM17 44h1v1h-1zM3 45h1v1h-1zM10 45h1v1h-1zM12 45h1v1h-1zM32 46h1v1h-1zM59 46h1v1h-1zM45 47h1v1h-1zM56 47h1v1h-1zM34 48h1v1h-1zM37 48h1v1h-1zM57 48h1v1h-1zM43 49h2v1h-2zM40 50h1v1h-1zM43 50h1v1h-1zM53 50h1v1h-1zM35 51h1v1h-1zM43 51h1v1h-1zM48 51h1v1h-1zM38 52h1v1h-1zM40 52h1v1h-1zM57 52h1v1h-1zM38 54h1v1h-1zM76 54h1v1h-1zM42 55h2v1h-2zM56 55h1v1h-1zM55 56h1v1h-1zM64 56h1v1h-1zM66 56h1v1h-1zM41 57h2v1h-2zM54 57h1v1h-1zM35 58h1v1h-1zM41 58h1v1h-1zM52 58h1v1h-1zM70 58h1v1h-1zM42 59h3v1h-3zM48 59h1v1h-1zM73 59h1v1h-1zM33 60h1v1h-1zM35 60h1v1h-1zM52 60h2v1h-2zM77 60h1v1h-1zM35 61h2v1h-2zM41 62h1v1h-1zM50 62h1v1h-1zM52 62h1v1h-1zM57 62h1v1h-1zM36 63h1v1h-1zM41 64h1v1h-1zM40 65h1v1h-1zM47 65h1v1h-1zM34 66h1v1h-1zM45 66h1v1h-1zM32 67h1v1h-1zM44 67h1v1h-1zM46 67h1v1h-1zM59 67h1v1h-1zM54 68h1v1h-1zM70 71h1v1h-1zM75 71h1v1h-1zM72 72h1v1h-1zM39 73h1v1h-1zM32 74h2v1h-2zM40 74h1v1h-1zM36 75h1v1h-1zM37 76h1v1h-1zM44 76h2v1h-2zM74 76h1v1h-1zM54 77h1v1h-1z"/><path fill="#dc968c" d="M18 0h1v1h-1zM69 0h1v1h-1zM69 1h1v1h-1zM71 1h1v1h-1zM71 4h1v1h-1zM73 4h1v1h-1zM70 6h1v1h-1zM73 6h1v1h-1zM76 6h1v1h-1zM71 7h1v1h-1zM76 8h2v1h-2zM27 16h1v1h-1zM45 26h1v1h-1zM47 27h3v1h-3zM38 28h1v1h-1zM48 28h1v1h-1zM50 28h1v1h-1zM46 29h1v1h-1zM49 29h2v1h-2zM38 30h1v1h-1zM37 31h1v1h-1zM44 31h1v1h-1zM48 31h1v1h-1zM51 31h1v1h-1zM40 33h1v1h-1zM46 33h1v1h-1zM37 34h1v1h-1zM37 37h2v1h-2zM44 37h1v1h-1zM40 39h1v1h-1zM47 39h1v1h-1zM49 39h1v1h-1zM40 40h1v1h-1zM43 40h1v1h-1zM46 40h1v1h-1zM12 47h1v1h-1zM0 49h1v1h-1zM10 51h1v1h-1zM18 53h1v1h-1zM26 53h1v1h-1zM12 56h1v1h-1zM15 56h1v1h-1zM18 56h1v1h-1zM15 57h1v1h-1zM11 58h1v1h-1zM15 59h1v1h-1zM21 59h1v1h-1zM12 60h1v1h-1zM12 62h1v1h-1zM18 62h1v1h-1zM20 62h2v1h-2zM12 64h1v1h-1zM13 65h1v1h-1zM15 65h1v1h-1zM17 65h1v1h-1zM21 65h1v1h-1zM26 65h1v1h-1zM3 66h1v1h-1zM19 66h1v1h-1zM11 74h1v1h-1zM2 75h1v1h-1z"/><path fill="#f0e6e6" d="M19 0h1v1h-1zM27 0h1v1h-1zM43 0h1v1h-1zM45 0h1v1h-1zM55 0h1v1h-1zM43 1h1v1h-1zM53 1h1v1h-1zM64 1h1v1h-1zM14 2h1v1h-1zM37 2h1v1h-1zM51 2h1v1h-1zM55 2h2v1h-2zM62 2h1v1h-1zM68 2h1v1h-1zM7 3h1v1h-1zM37 3h1v1h-1zM55 3h1v1h-1zM5 4h1v1h-1zM33 4h1v1h-1zM47 4h1v1h-1zM56 4h1v1h-1zM60 4h3v1h-3zM48 5h1v1h-1zM54 5h1v1h-1zM63 5h2v1h-2zM26 6h1v1h-1zM47 6h1v1h-1zM53 6h1v1h-1zM60 6h1v1h-1zM35 7h1v1h-1zM39 7h1v1h-1zM49 7h1v1h-1zM2 8h1v1h-1zM14 8h1v1h-1zM18 8h1v1h-1zM35 8h2v1h-2zM44 8h1v1h-1zM63 8h1v1h-1zM7 9h1v1h-1zM21 9h1v1h-1zM56 9h1v1h-1zM63 9h1v1h-1zM75 9h1v1h-1zM32 10h1v1h-1zM40 10h1v1h-1zM61 10h1v1h-1zM65 10h1v1h-1zM5 11h1v1h-1zM25 11h1v1h-1zM52 11h1v1h-1zM63 11h1v1h-1zM3 12h1v1h-1zM22 12h1v1h-1zM38 12h1v1h-1zM47 12h1v1h-1zM59 12h1v1h-1zM67 12h1v1h-1zM15 13h1v1h-1zM19 13h1v1h-1zM41 13h1v1h-1zM48 13h1v1h-1zM51 13h1v1h-1zM55 13h1v1h-1zM60 13h1v1h-1zM72 13h1v1h-1zM76 13h1v1h-1zM46 14h1v1h-1zM60 14h1v1h-1zM66 14h1v1h-1zM68 14h2v1h-2zM72 14h1v1h-1zM10 15h3v1h-3zM15 15h1v1h-1zM49 15h1v1h-1zM59 15h1v1h-1zM73 15h1v1h-1zM75 15h1v1h-1zM43 16h1v1h-1zM54 16h1v1h-1zM67 16h1v1h-1zM73 16h1v1h-1zM0 17h1v1h-1zM5 17h1v1h-1zM9 17h1v1h-1zM13 17h1v1h-1zM17 17h1v1h-1zM26 17h1v1h-1zM31 17h1v1h-1zM56 17h1v1h-1zM63 17h2v1h-2zM71 17h1v1h-1zM73 17h1v1h-1zM77 17h1v1h-1zM23 18h1v1h-1zM26 18h1v1h-1zM32 18h1v1h-1zM34 18h1v1h-1zM48 18h1v1h-1zM50 18h1v1h-1zM62 18h1v1h-1zM65 18h1v1h-1zM48 19h2v1h-2zM54 19h1v1h-1zM18 20h1v1h-1zM43 20h1v1h-1zM60 21h1v1h-1zM68 21h1v1h-1zM73 21h1v1h-1zM75 21h1v1h-1zM13 22h1v1h-1zM33 22h1v1h-1zM64 22h1v1h-1zM74 22h2v1h-2zM77 22h1v1h-1zM26 23h1v1h-1zM28 23h1v1h-1zM32 23h1v1h-1zM39 23h1v1h-1zM47 23h2v1h-2zM58 23h1v1h-1zM61 23h1v1h-1zM72 23h1v1h-1zM35 24h1v1h-1zM69 24h1v1h-1zM71 24h1v1h-1zM76 24h1v1h-1zM18 25h1v1h-1zM39 25h1v1h-1zM42 25h1v1h-1zM66 25h1v1h-1zM64 26h1v1h-1zM75 26h1v1h-1zM59 27h1v1h-1zM58 28h1v1h-1zM62 28h1v1h-1zM70 28h1v1h-1zM2 29h1v1h-1zM6 29h1v1h-1zM36 29h1v1h-1zM54 29h1v1h-1zM58 29h2v1h-2zM64 29h1v1h-1zM72 29h1v1h-1zM35 30h1v1h-1zM54 30h1v1h-1zM65 30h1v1h-1zM71 30h1v1h-1zM73 30h1v1h-1zM34 31h2v1h-2zM19 32h1v1h-1zM34 32h1v1h-1zM77 32h1v1h-1zM25 33h1v1h-1zM43 33h1v1h-1zM69 33h1v1h-1zM44 34h1v1h-1zM57 34h1v1h-1zM61 34h1v1h-1zM76 34h2v1h-2zM52 35h1v1h-1zM64 35h1v1h-1zM64 36h1v1h-1zM34 37h1v1h-1zM67 37h1v1h-1zM31 38h1v1h-1zM35 38h1v1h-1zM52 38h1v1h-1zM54 38h1v1h-1zM70 38h1v1h-1zM3 39h1v1h-1zM32 39h1v1h-1zM65 39h1v1h-1zM32 40h2v1h-2zM74 40h2v1h-2zM48 41h1v1h-1zM69 41h1v1h-1zM39 42h1v1h-1zM46 42h2v1h-2zM53 42h1v1h-1zM69 42h1v1h-1zM40 43h1v1h-1zM45 43h2v1h-2zM59 43h1v1h-1zM32 44h1v1h-1zM37 44h1v1h-1zM55 44h1v1h-1zM61 44h1v1h-1zM73 44h1v1h-1zM33 45h1v1h-1zM37 45h2v1h-2zM54 45h1v1h-1zM59 45h1v1h-1zM14 46h1v1h-1zM26 46h1v1h-1zM28 46h1v1h-1zM39 46h1v1h-1zM60 46h1v1h-1zM5 47h1v1h-1zM64 48h1v1h-1zM3 49h1v1h-1zM14 49h2v1h-2zM31 49h1v1h-1zM54 49h1v1h-1zM8 50h1v1h-1zM22 50h1v1h-1zM77 50h1v1h-1zM8 51h2v1h-2zM16 51h1v1h-1zM31 51h1v1h-1zM54 51h1v1h-1zM59 51h1v1h-1zM71 51h1v1h-1zM10 52h1v1h-1zM66 52h1v1h-1zM3 53h1v1h-1zM11 53h1v1h-1zM16 53h1v1h-1zM22 53h1v1h-1zM43 53h1v1h-1zM48 53h1v1h-1zM59 54h1v1h-1zM0 55h2v1h-2zM24 55h1v1h-1zM27 55h1v1h-1zM65 55h1v1h-1zM67 56h2v1h-2zM4 57h1v1h-1zM20 57h1v1h-1zM64 58h1v1h-1zM77 58h1v1h-1zM2 59h1v1h-1zM9 59h1v1h-1zM52 59h1v1h-1zM57 59h1v1h-1zM69 59h1v1h-1zM77 59h1v1h-1zM60 60h1v1h-1zM0 61h1v1h-1zM2 61h1v1h-1zM24 61h1v1h-1zM26 61h1v1h-1zM10 62h1v1h-1zM28 62h1v1h-1zM62 62h1v1h-1zM64 62h1v1h-1zM0 63h2v1h-2zM28 63h1v1h-1zM31 63h1v1h-1zM69 63h1v1h-1zM75 63h1v1h-1zM0 64h1v1h-1zM7 64h2v1h-2zM55 64h1v1h-1zM60 64h1v1h-1zM39 65h1v1h-1zM62 65h1v1h-1zM24 66h1v1h-1zM62 66h1v1h-1zM7 67h1v1h-1zM25 67h1v1h-1zM62 67h1v1h-1zM76 67h1v1h-1zM6 68h2v1h-2zM18 68h1v1h-1zM26 68h1v1h-1zM60 68h1v1h-1zM0 69h1v1h-1zM4 69h1v1h-1zM6 69h1v1h-1zM13 69h1v1h-1zM26 69h1v1h-1zM2 70h1v1h-1zM6 70h1v1h-1zM9 70h2v1h-2zM13 70h1v1h-1zM68 70h1v1h-1zM74 70h1v1h-1zM0 71h1v1h-1zM3 71h1v1h-1zM7 71h3v1h-3zM48 71h1v1h-1zM0 72h1v1h-1zM2 72h1v1h-1zM30 72h1v1h-1zM60 72h1v1h-1zM66 72h1v1h-1zM73 72h1v1h-1zM2 73h1v1h-1zM8 73h1v1h-1zM20 73h1v1h-1zM24 74h1v1h-1zM28 74h1v1h-1zM38 74h1v1h-1zM65 74h1v1h-1zM1 75h1v1h-1zM4 75h2v1h-2zM7 75h1v1h-1zM16 75h1v1h-1zM18 75h1v1h-1zM48 75h1v1h-1zM55 75h1v1h-1zM69 75h1v1h-1zM2 76h1v1h-1zM14 76h1v1h-1zM22 76h1v1h-1zM5 77h2v1h-2zM8 77h1v1h-1zM13 77h2v1h-2zM16 77h1v1h-1zM60 77h1v1h-1z"/><path fill="#fafafa" d="M20 0h1v1h-1zM38 0h1v1h-1zM51 0h1v1h-1zM37 1h1v1h-1zM62 1h1v1h-1zM11 2h1v1h-1zM44 2h1v1h-1zM52 2h2v1h-2zM61 2h1v1h-1zM9 3h1v1h-1zM32 3h1v1h-1zM34 3h1v1h-1zM36 3h1v1h-1zM62 3h2v1h-2zM16 4h1v1h-1zM20 4h1v1h-1zM29 4h1v1h-1zM36 4h1v1h-1zM38 4h1v1h-1zM42 4h1v1h-1zM45 4h2v1h-2zM66 4h1v1h-1zM19 5h1v1h-1zM27 5h1v1h-1zM37 5h1v1h-1zM50 5h1v1h-1zM55 5h1v1h-1zM16 6h1v1h-1zM18 6h1v1h-1zM51 6h1v1h-1zM19 7h1v1h-1zM47 7h1v1h-1zM65 7h1v1h-1zM51 8h2v1h-2zM20 9h1v1h-1zM26 9h1v1h-1zM32 9h1v1h-1zM43 9h1v1h-1zM61 9h1v1h-1zM7 10h1v1h-1zM16 10h1v1h-1zM31 10h1v1h-1zM37 10h1v1h-1zM47 10h1v1h-1zM49 10h1v1h-1zM63 10h1v1h-1zM24 11h1v1h-1zM26 11h1v1h-1zM29 11h1v1h-1zM40 11h1v1h-1zM61 11h1v1h-1zM73 11h1v1h-1zM16 12h1v1h-1zM33 12h1v1h-1zM50 12h1v1h-1zM70 12h1v1h-1zM9 13h1v1h-1zM27 13h1v1h-1zM34 13h1v1h-1zM44 13h1v1h-1zM47 13h1v1h-1zM59 13h1v1h-1zM35 14h1v1h-1zM58 14h1v1h-1zM67 14h1v1h-1zM74 14h1v1h-1zM14 15h1v1h-1zM18 15h1v1h-1zM24 15h1v1h-1zM37 15h1v1h-1zM40 15h1v1h-1zM44 15h1v1h-1zM52 15h1v1h-1zM74 15h1v1h-1zM76 15h1v1h-1zM39 16h1v1h-1zM45 16h1v1h-1zM56 16h1v1h-1zM66 16h1v1h-1zM68 16h1v1h-1zM4 17h1v1h-1zM48 17h1v1h-1zM64 18h1v1h-1zM3 19h1v1h-1zM39 19h1v1h-1zM63 19h1v1h-1zM11 20h1v1h-1zM24 20h1v1h-1zM19 21h1v1h-1zM49 21h1v1h-1zM61 21h1v1h-1zM72 22h1v1h-1zM25 23h1v1h-1zM70 23h1v1h-1zM77 23h1v1h-1zM32 24h1v1h-1zM75 24h1v1h-1zM5 25h1v1h-1zM62 25h1v1h-1zM69 25h1v1h-1zM75 25h1v1h-1zM15 26h1v1h-1zM25 26h1v1h-1zM51 26h1v1h-1zM69 26h1v1h-1zM71 26h1v1h-1zM77 26h1v1h-1zM22 27h1v1h-1zM65 27h1v1h-1zM72 27h1v1h-1zM2 28h1v1h-1zM7 28h1v1h-1zM56 28h1v1h-1zM67 28h1v1h-1zM0 29h1v1h-1zM60 29h1v1h-1zM0 30h1v1h-1zM64 30h1v1h-1zM67 30h1v1h-1zM70 30h1v1h-1zM73 31h1v1h-1zM35 32h1v1h-1zM61 32h1v1h-1zM73 32h1v1h-1zM3 33h1v1h-1zM62 33h1v1h-1zM64 33h1v1h-1zM75 33h1v1h-1zM25 34h1v1h-1zM68 34h1v1h-1zM73 35h1v1h-1zM4 36h1v1h-1zM62 37h1v1h-1zM66 37h1v1h-1zM58 38h1v1h-1zM61 38h1v1h-1zM72 38h1v1h-1zM73 39h1v1h-1zM77 39h1v1h-1zM67 40h1v1h-1zM72 40h1v1h-1zM76 40h1v1h-1zM73 41h2v1h-2zM45 42h1v1h-1zM63 42h1v1h-1zM64 43h1v1h-1zM74 43h1v1h-1zM5 44h1v1h-1zM65 44h1v1h-1zM6 45h2v1h-2zM19 45h1v1h-1zM53 45h1v1h-1zM68 45h1v1h-1zM74 45h1v1h-1zM3 46h1v1h-1zM9 46h1v1h-1zM30 46h1v1h-1zM67 46h1v1h-1zM31 47h1v1h-1zM66 48h1v1h-1zM71 48h1v1h-1zM73 48h1v1h-1zM64 50h1v1h-1zM0 51h1v1h-1zM66 51h1v1h-1zM68 51h1v1h-1zM17 52h1v1h-1zM43 52h1v1h-1zM51 52h1v1h-1zM54 52h1v1h-1zM57 53h1v1h-1zM62 53h1v1h-1zM66 53h1v1h-1zM8 54h1v1h-1zM44 54h1v1h-1zM50 55h1v1h-1zM21 56h1v1h-1zM3 57h1v1h-1zM68 57h1v1h-1zM73 57h1v1h-1zM77 57h1v1h-1zM2 58h1v1h-1zM32 58h1v1h-1zM56 58h1v1h-1zM72 58h1v1h-1zM62 59h1v1h-1zM71 59h1v1h-1zM25 60h1v1h-1zM8 61h1v1h-1zM65 61h1v1h-1zM67 61h1v1h-1zM71 61h1v1h-1zM73 61h1v1h-1zM3 62h1v1h-1zM51 62h1v1h-1zM7 63h1v1h-1zM62 63h1v1h-1zM57 66h1v1h-1zM75 66h1v1h-1zM31 68h1v1h-1zM64 68h1v1h-1zM74 68h1v1h-1zM16 69h1v1h-1zM23 69h1v1h-1zM14 70h1v1h-1zM32 70h1v1h-1zM49 70h1v1h-1zM67 70h1v1h-1zM32 71h1v1h-1zM33 72h1v1h-1zM52 72h1v1h-1zM41 73h1v1h-1zM60 73h1v1h-1zM15 74h1v1h-1zM20 74h1v1h-1zM31 74h1v1h-1zM44 74h1v1h-1zM58 74h1v1h-1zM19 75h1v1h-1zM49 75h1v1h-1zM26 77h1v1h-1zM47 77h2v1h-2z"/><path fill="#f0f0f0" d="M25 0h1v1h-1zM6 1h1v1h-1zM11 1h1v1h-1zM27 1h1v1h-1zM65 1h1v1h-1zM15 2h1v1h-1zM57 2h1v1h-1zM67 2h1v1h-1zM10 3h1v1h-1zM30 4h1v1h-1zM51 4h1v1h-1zM6 5h1v1h-1zM39 6h1v1h-1zM9 8h1v1h-1zM34 8h1v1h-1zM61 8h1v1h-1zM67 8h1v1h-1zM22 9h1v1h-1zM47 9h1v1h-1zM66 9h1v1h-1zM44 10h1v1h-1zM58 10h1v1h-1zM69 10h1v1h-1zM75 10h1v1h-1zM46 11h1v1h-1zM57 11h1v1h-1zM9 12h1v1h-1zM43 13h1v1h-1zM53 13h1v1h-1zM44 14h1v1h-1zM47 14h1v1h-1zM54 14h1v1h-1zM4 15h1v1h-1zM19 15h1v1h-1zM5 16h1v1h-1zM22 16h1v1h-1zM29 16h1v1h-1zM35 16h1v1h-1zM69 16h1v1h-1zM3 17h1v1h-1zM22 17h1v1h-1zM24 17h1v1h-1zM42 17h1v1h-1zM44 17h1v1h-1zM9 18h1v1h-1zM15 18h1v1h-1zM10 19h1v1h-1zM16 19h2v1h-2zM67 19h1v1h-1zM0 20h1v1h-1zM66 20h1v1h-1zM75 20h1v1h-1zM39 21h1v1h-1zM7 22h1v1h-1zM47 22h1v1h-1zM31 23h1v1h-1zM63 23h1v1h-1zM5 24h1v1h-1zM64 24h1v1h-1zM31 25h1v1h-1zM12 27h1v1h-1zM0 28h1v1h-1zM55 30h1v1h-1zM63 30h1v1h-1zM68 30h1v1h-1zM2 31h1v1h-1zM66 31h1v1h-1zM60 33h1v1h-1zM63 33h1v1h-1zM67 33h1v1h-1zM7 34h1v1h-1zM9 34h1v1h-1zM64 34h1v1h-1zM60 35h1v1h-1zM1 37h1v1h-1zM8 37h1v1h-1zM56 38h1v1h-1zM71 38h1v1h-1zM31 41h1v1h-1zM61 42h1v1h-1zM69 43h1v1h-1zM26 44h1v1h-1zM30 45h1v1h-1zM29 46h1v1h-1zM36 46h1v1h-1zM52 46h1v1h-1zM54 46h1v1h-1zM10 47h1v1h-1zM32 47h1v1h-1zM73 47h1v1h-1zM26 48h1v1h-1zM31 48h1v1h-1zM61 48h1v1h-1zM23 50h1v1h-1zM76 50h1v1h-1zM29 51h1v1h-1zM33 51h1v1h-1zM77 52h1v1h-1zM17 53h1v1h-1zM51 53h1v1h-1zM5 54h1v1h-1zM27 54h1v1h-1zM60 55h2v1h-2zM68 55h1v1h-1zM62 58h1v1h-1zM8 59h1v1h-1zM24 60h1v1h-1zM58 60h1v1h-1zM58 61h1v1h-1zM59 62h1v1h-1zM75 62h1v1h-1zM50 65h1v1h-1zM76 66h1v1h-1zM30 67h1v1h-1zM58 67h1v1h-1zM74 67h1v1h-1zM77 67h1v1h-1zM43 68h1v1h-1zM59 68h1v1h-1zM65 68h1v1h-1zM69 68h1v1h-1zM18 69h1v1h-1zM40 69h1v1h-1zM55 70h1v1h-1zM72 71h1v1h-1zM76 71h1v1h-1zM23 72h1v1h-1zM53 72h1v1h-1zM61 72h1v1h-1zM62 73h1v1h-1zM60 74h1v1h-1zM46 75h1v1h-1zM40 76h1v1h-1zM49 77h1v1h-1zM57 77h1v1h-1z"/><path fill="#bedce6" d="M28 0h1v1h-1zM18 2h1v1h-1zM23 2h1v1h-1zM41 3h1v1h-1zM54 3h1v1h-1zM61 3h1v1h-1zM10 4h1v1h-1zM51 5h1v1h-1zM55 6h1v1h-1zM20 7h1v1h-1zM2 11h1v1h-1zM31 12h1v1h-1zM26 13h1v1h-1zM74 16h1v1h-1zM71 22h1v1h-1zM74 23h1v1h-1zM20 26h1v1h-1zM31 26h1v1h-1zM72 26h1v1h-1zM20 27h1v1h-1zM5 28h1v1h-1zM28 29h1v1h-1zM2 30h1v1h-1zM29 32h1v1h-1zM9 36h1v1h-1zM74 36h1v1h-1zM31 37h1v1h-1zM7 38h1v1h-1zM10 40h1v1h-1zM2 42h1v1h-1zM20 42h1v1h-1zM2 43h2v1h-2zM6 44h1v1h-1zM14 44h1v1h-1zM40 46h1v1h-1zM51 46h1v1h-1zM65 46h1v1h-1zM45 48h1v1h-1zM48 49h1v1h-1zM77 49h1v1h-1zM72 50h1v1h-1zM60 51h1v1h-1zM64 51h1v1h-1zM75 54h1v1h-1zM35 57h1v1h-1zM50 57h2v1h-2zM70 57h1v1h-1zM75 59h1v1h-1zM33 63h1v1h-1zM37 67h1v1h-1zM73 67h1v1h-1zM41 68h1v1h-1zM39 70h1v1h-1zM33 71h1v1h-1zM49 72h1v1h-1zM34 74h1v1h-1zM34 75h2v1h-2zM47 75h1v1h-1zM66 75h1v1h-1z"/><path fill="#f0f0fa" d="M29 0h1v1h-1zM31 0h1v1h-1zM46 0h1v1h-1zM39 1h1v1h-1zM45 1h1v1h-1zM56 1h1v1h-1zM60 1h1v1h-1zM31 2h1v1h-1zM63 2h1v1h-1zM21 3h1v1h-1zM57 3h1v1h-1zM60 3h1v1h-1zM7 4h1v1h-1zM21 4h1v1h-1zM54 4h1v1h-1zM4 5h1v1h-1zM49 5h1v1h-1zM20 6h1v1h-1zM33 6h1v1h-1zM41 6h1v1h-1zM46 6h1v1h-1zM36 7h1v1h-1zM42 7h1v1h-1zM55 7h1v1h-1zM0 8h1v1h-1zM22 8h1v1h-1zM64 8h1v1h-1zM5 9h1v1h-1zM14 9h1v1h-1zM25 9h1v1h-1zM38 9h1v1h-1zM44 9h1v1h-1zM60 9h1v1h-1zM65 9h1v1h-1zM4 10h1v1h-1zM29 10h1v1h-1zM39 10h1v1h-1zM53 10h1v1h-1zM55 10h1v1h-1zM59 10h1v1h-1zM27 11h1v1h-1zM42 11h3v1h-3zM54 11h1v1h-1zM4 12h1v1h-1zM27 12h1v1h-1zM30 12h1v1h-1zM39 12h1v1h-1zM68 12h1v1h-1zM1 13h1v1h-1zM7 13h2v1h-2zM46 13h1v1h-1zM69 13h1v1h-1zM9 14h1v1h-1zM28 14h1v1h-1zM36 14h1v1h-1zM48 14h1v1h-1zM52 14h1v1h-1zM75 14h1v1h-1zM1 15h1v1h-1zM8 15h1v1h-1zM23 15h1v1h-1zM31 15h1v1h-1zM35 15h1v1h-1zM43 15h1v1h-1zM56 15h1v1h-1zM15 16h1v1h-1zM19 16h1v1h-1zM21 16h1v1h-1zM31 16h1v1h-1zM51 16h1v1h-1zM14 17h2v1h-2zM41 17h1v1h-1zM47 17h1v1h-1zM49 17h1v1h-1zM52 17h1v1h-1zM54 17h1v1h-1zM60 17h1v1h-1zM68 17h1v1h-1zM74 17h1v1h-1zM76 17h1v1h-1zM19 18h1v1h-1zM67 18h1v1h-1zM8 19h1v1h-1zM1 20h1v1h-1zM3 20h1v1h-1zM74 20h1v1h-1zM11 21h1v1h-1zM14 21h1v1h-1zM62 21h1v1h-1zM76 21h1v1h-1zM54 22h1v1h-1zM67 22h1v1h-1zM70 22h1v1h-1zM5 23h1v1h-1zM33 23h2v1h-2zM55 23h1v1h-1zM60 23h1v1h-1zM66 23h1v1h-1zM73 23h1v1h-1zM75 23h1v1h-1zM0 24h1v1h-1zM67 24h1v1h-1zM60 25h1v1h-1zM63 25h1v1h-1zM61 26h1v1h-1zM3 27h1v1h-1zM7 27h1v1h-1zM60 28h1v1h-1zM72 28h1v1h-1zM63 29h1v1h-1zM7 30h1v1h-1zM60 30h1v1h-1zM64 31h1v1h-1zM71 31h1v1h-1zM77 31h1v1h-1zM76 32h1v1h-1zM16 33h1v1h-1zM66 33h1v1h-1zM68 33h1v1h-1zM62 34h1v1h-1zM66 34h1v1h-1zM66 35h1v1h-1zM70 35h1v1h-1zM1 36h1v1h-1zM60 36h1v1h-1zM71 36h1v1h-1zM3 38h1v1h-1zM28 38h1v1h-1zM65 38h1v1h-1zM67 38h1v1h-1zM76 38h1v1h-1zM54 39h1v1h-1zM68 39h1v1h-1zM6 41h2v1h-2zM63 41h1v1h-1zM70 41h1v1h-1zM7 42h1v1h-1zM62 42h1v1h-1zM25 43h1v1h-1zM54 43h1v1h-1zM30 44h1v1h-1zM54 44h1v1h-1zM71 44h1v1h-1zM77 44h1v1h-1zM23 45h1v1h-1zM5 46h1v1h-1zM61 46h2v1h-2zM75 46h1v1h-1zM77 46h1v1h-1zM33 47h1v1h-1zM47 47h1v1h-1zM65 47h1v1h-1zM67 48h1v1h-1zM77 48h1v1h-1zM39 49h1v1h-1zM63 49h1v1h-1zM21 50h1v1h-1zM65 50h2v1h-2zM1 51h1v1h-1zM42 51h1v1h-1zM4 52h1v1h-1zM34 52h1v1h-1zM68 52h1v1h-1zM32 54h1v1h-1zM50 54h1v1h-1zM62 54h1v1h-1zM4 55h1v1h-1zM69 55h1v1h-1zM27 56h1v1h-1zM61 56h1v1h-1zM73 56h2v1h-2zM9 57h1v1h-1zM71 57h1v1h-1zM59 58h1v1h-1zM61 58h1v1h-1zM1 61h1v1h-1zM44 61h1v1h-1zM5 62h1v1h-1zM7 62h1v1h-1zM60 62h2v1h-2zM56 63h1v1h-1zM60 63h1v1h-1zM68 63h1v1h-1zM56 66h1v1h-1zM20 68h1v1h-1zM63 68h1v1h-1zM62 69h1v1h-1zM64 69h1v1h-1zM15 70h1v1h-1zM35 70h2v1h-2zM47 70h1v1h-1zM50 70h1v1h-1zM64 70h1v1h-1zM73 70h1v1h-1zM36 71h1v1h-1zM15 72h1v1h-1zM31 72h1v1h-1zM42 72h1v1h-1zM54 72h1v1h-1zM68 72h1v1h-1zM22 73h1v1h-1zM25 73h1v1h-1zM65 73h1v1h-1zM67 73h1v1h-1zM72 73h1v1h-1zM39 74h1v1h-1zM57 74h1v1h-1zM10 75h1v1h-1zM45 75h1v1h-1zM16 76h1v1h-1zM26 76h1v1h-1zM41 76h1v1h-1zM57 76h1v1h-1zM62 76h1v1h-1zM64 76h1v1h-1zM53 77h1v1h-1zM69 77h1v1h-1z"/><path fill="#f0dcdc" d="M30 0h1v1h-1zM35 0h3v1h-3zM56 0h3v1h-3zM63 0h2v1h-2zM68 0h1v1h-1zM67 1h1v1h-1zM29 2h1v1h-1zM48 2h1v1h-1zM0 3h1v1h-1zM5 3h1v1h-1zM42 3h1v1h-1zM64 3h2v1h-2zM23 4h1v1h-1zM35 4h1v1h-1zM40 4h1v1h-1zM52 5h1v1h-1zM62 5h1v1h-1zM66 5h1v1h-1zM3 6h1v1h-1zM25 6h1v1h-1zM31 6h2v1h-2zM48 6h1v1h-1zM57 6h1v1h-1zM61 6h1v1h-1zM23 7h1v1h-1zM58 8h1v1h-1zM66 8h1v1h-1zM49 9h1v1h-1zM64 9h1v1h-1zM77 9h1v1h-1zM41 10h1v1h-1zM62 10h1v1h-1zM64 10h1v1h-1zM76 10h1v1h-1zM23 11h1v1h-1zM28 11h1v1h-1zM36 11h1v1h-1zM64 11h1v1h-1zM69 11h1v1h-1zM72 11h1v1h-1zM40 12h1v1h-1zM52 12h1v1h-1zM74 12h1v1h-1zM14 13h1v1h-1zM18 13h1v1h-1zM45 13h1v1h-1zM50 13h1v1h-1zM67 13h2v1h-2zM62 14h1v1h-1zM77 14h1v1h-1zM34 15h1v1h-1zM39 15h1v1h-1zM50 15h1v1h-1zM63 15h1v1h-1zM67 15h1v1h-1zM72 15h1v1h-1zM23 16h1v1h-1zM32 16h1v1h-1zM49 16h1v1h-1zM71 16h1v1h-1zM55 17h1v1h-1zM12 18h1v1h-1zM17 18h1v1h-1zM33 18h1v1h-1zM37 18h1v1h-1zM39 18h1v1h-1zM45 18h1v1h-1zM57 18h2v1h-2zM38 19h1v1h-1zM42 19h1v1h-1zM57 19h1v1h-1zM59 19h1v1h-1zM69 19h1v1h-1zM77 19h1v1h-1zM42 20h1v1h-1zM47 20h1v1h-1zM49 20h1v1h-1zM56 20h1v1h-1zM58 20h2v1h-2zM71 20h1v1h-1zM9 21h1v1h-1zM42 21h1v1h-1zM44 21h1v1h-1zM48 21h1v1h-1zM57 21h1v1h-1zM77 21h1v1h-1zM42 22h1v1h-1zM46 22h1v1h-1zM51 22h1v1h-1zM60 22h1v1h-1zM41 23h1v1h-1zM45 23h1v1h-1zM67 23h1v1h-1zM44 24h1v1h-1zM43 25h1v1h-1zM65 25h1v1h-1zM72 25h1v1h-1zM41 26h1v1h-1zM43 26h1v1h-1zM55 26h1v1h-1zM5 27h1v1h-1zM62 27h1v1h-1zM34 28h1v1h-1zM57 28h1v1h-1zM61 28h1v1h-1zM68 28h1v1h-1zM45 29h1v1h-1zM56 29h1v1h-1zM71 29h1v1h-1zM75 29h1v1h-1zM6 30h1v1h-1zM34 30h1v1h-1zM57 30h1v1h-1zM5 31h1v1h-1zM33 31h1v1h-1zM55 31h1v1h-1zM32 32h1v1h-1zM36 32h1v1h-1zM48 32h1v1h-1zM54 32h1v1h-1zM59 32h1v1h-1zM64 32h1v1h-1zM33 33h1v1h-1zM53 33h1v1h-1zM56 33h1v1h-1zM52 34h1v1h-1zM32 35h2v1h-2zM55 35h4v1h-4zM34 36h1v1h-1zM36 36h1v1h-1zM51 36h1v1h-1zM54 36h1v1h-1zM67 36h1v1h-1zM33 37h1v1h-1zM59 37h1v1h-1zM65 37h1v1h-1zM73 37h1v1h-1zM33 38h1v1h-1zM36 38h1v1h-1zM59 38h1v1h-1zM62 38h1v1h-1zM58 39h1v1h-1zM63 39h1v1h-1zM35 40h1v1h-1zM59 40h1v1h-1zM77 40h1v1h-1zM39 41h1v1h-1zM41 41h1v1h-1zM45 41h1v1h-1zM66 41h1v1h-1zM77 41h1v1h-1zM35 42h1v1h-1zM37 42h1v1h-1zM73 42h1v1h-1zM77 42h1v1h-1zM32 43h1v1h-1zM41 43h1v1h-1zM47 43h1v1h-1zM49 43h1v1h-1zM62 43h1v1h-1zM76 43h1v1h-1zM39 44h2v1h-2zM42 44h1v1h-1zM44 44h1v1h-1zM46 44h1v1h-1zM59 44h1v1h-1zM21 45h1v1h-1zM34 45h1v1h-1zM42 45h1v1h-1zM45 45h1v1h-1zM61 45h1v1h-1zM0 46h1v1h-1zM11 46h1v1h-1zM13 46h1v1h-1zM22 46h2v1h-2zM71 46h1v1h-1zM3 47h1v1h-1zM19 47h1v1h-1zM77 47h1v1h-1zM1 48h1v1h-1zM10 48h1v1h-1zM75 48h1v1h-1zM8 49h1v1h-1zM11 49h1v1h-1zM16 49h1v1h-1zM34 49h2v1h-2zM66 49h1v1h-1zM69 49h1v1h-1zM0 50h1v1h-1zM3 50h1v1h-1zM9 50h1v1h-1zM13 50h1v1h-1zM26 50h1v1h-1zM7 51h1v1h-1zM14 51h1v1h-1zM17 51h1v1h-1zM5 52h1v1h-1zM71 52h1v1h-1zM24 53h1v1h-1zM1 54h1v1h-1zM10 54h1v1h-1zM17 54h1v1h-1zM31 54h1v1h-1zM61 54h1v1h-1zM66 54h1v1h-1zM70 54h1v1h-1zM73 54h1v1h-1zM31 55h1v1h-1zM34 55h1v1h-1zM0 56h1v1h-1zM0 58h1v1h-1zM7 58h1v1h-1zM9 58h1v1h-1zM30 58h1v1h-1zM64 59h1v1h-1zM0 60h1v1h-1zM8 60h1v1h-1zM10 60h1v1h-1zM21 60h1v1h-1zM23 60h1v1h-1zM26 60h1v1h-1zM59 60h1v1h-1zM4 61h2v1h-2zM28 61h1v1h-1zM74 62h1v1h-1zM4 63h1v1h-1zM26 63h1v1h-1zM4 64h1v1h-1zM27 64h1v1h-1zM31 64h1v1h-1zM3 65h1v1h-1zM6 65h1v1h-1zM10 65h1v1h-1zM37 65h1v1h-1zM6 66h1v1h-1zM28 66h1v1h-1zM31 66h1v1h-1zM12 67h1v1h-1zM17 67h1v1h-1zM23 67h1v1h-1zM29 67h1v1h-1zM66 67h1v1h-1zM3 68h1v1h-1zM8 68h1v1h-1zM19 68h1v1h-1zM27 68h1v1h-1zM56 68h1v1h-1zM17 69h1v1h-1zM28 69h1v1h-1zM3 70h1v1h-1zM19 70h1v1h-1zM26 70h1v1h-1zM71 70h1v1h-1zM5 71h1v1h-1zM11 71h2v1h-2zM47 71h1v1h-1zM1 72h1v1h-1zM6 72h1v1h-1zM16 72h1v1h-1zM25 72h1v1h-1zM46 72h1v1h-1zM74 72h1v1h-1zM13 73h2v1h-2zM16 73h1v1h-1zM7 74h1v1h-1zM9 74h1v1h-1zM12 74h1v1h-1zM27 74h1v1h-1zM30 74h1v1h-1zM45 74h1v1h-1zM71 74h1v1h-1zM5 76h1v1h-1zM23 76h1v1h-1zM29 76h1v1h-1zM69 76h1v1h-1zM17 77h1v1h-1zM19 77h1v1h-1zM21 77h1v1h-1zM27 77h1v1h-1zM31 77h1v1h-1zM38 77h1v1h-1zM74 77h1v1h-1z"/><path fill="#e6c8be" d="M33 0h1v1h-1zM42 2h1v1h-1zM45 15h1v1h-1zM48 22h1v1h-1zM6 23h1v1h-1zM36 23h1v1h-1zM55 29h1v1h-1zM4 34h1v1h-1zM33 34h1v1h-1zM75 35h1v1h-1zM37 38h1v1h-1zM39 40h1v1h-1zM54 41h1v1h-1zM43 44h1v1h-1zM25 46h1v1h-1zM24 48h1v1h-1zM5 49h1v1h-1zM18 49h1v1h-1zM24 49h1v1h-1zM5 50h1v1h-1zM7 52h1v1h-1zM31 52h1v1h-1zM29 53h1v1h-1zM17 57h1v1h-1zM24 59h1v1h-1zM28 59h1v1h-1zM20 60h1v1h-1zM9 63h1v1h-1zM5 64h1v1h-1zM14 68h1v1h-1zM25 70h1v1h-1zM6 71h1v1h-1zM13 72h1v1h-1zM27 72h2v1h-2z"/><path fill="#fafaf0" d="M44 0h1v1h-1zM61 5h1v1h-1zM72 16h1v1h-1zM50 21h1v1h-1zM29 24h1v1h-1zM56 27h1v1h-1zM77 33h1v1h-1zM53 48h1v1h-1z"/><path fill="#e6beb4" d="M54 0h1v1h-1zM75 1h1v1h-1zM76 2h1v1h-1zM43 4h1v1h-1zM45 6h1v1h-1zM3 7h1v1h-1zM38 11h1v1h-1zM22 13h1v1h-1zM75 16h1v1h-1zM53 18h1v1h-1zM37 19h1v1h-1zM46 19h1v1h-1zM37 20h1v1h-1zM40 20h1v1h-1zM45 20h1v1h-1zM57 20h1v1h-1zM61 20h1v1h-1zM32 22h1v1h-1zM43 24h1v1h-1zM59 24h1v1h-1zM40 25h1v1h-1zM35 26h1v1h-1zM35 28h1v1h-1zM46 28h1v1h-1zM40 29h1v1h-1zM42 29h1v1h-1zM72 30h1v1h-1zM39 31h1v1h-1zM49 31h1v1h-1zM58 31h1v1h-1zM43 32h1v1h-1zM57 32h1v1h-1zM34 34h1v1h-1zM45 34h1v1h-1zM53 34h1v1h-1zM41 35h1v1h-1zM48 35h1v1h-1zM42 36h1v1h-1zM48 37h1v1h-1zM52 37h1v1h-1zM57 37h1v1h-1zM34 38h1v1h-1zM46 38h1v1h-1zM66 39h1v1h-1zM36 40h1v1h-1zM57 40h2v1h-2zM37 41h1v1h-1zM49 42h1v1h-1zM51 42h1v1h-1zM67 42h1v1h-1zM39 43h1v1h-1zM43 43h1v1h-1zM41 44h1v1h-1zM55 45h1v1h-1zM67 45h1v1h-1zM27 47h1v1h-1zM4 48h1v1h-1zM22 48h1v1h-1zM10 50h1v1h-1zM30 50h1v1h-1zM3 51h1v1h-1zM5 51h1v1h-1zM25 51h1v1h-1zM9 52h1v1h-1zM13 52h1v1h-1zM26 52h1v1h-1zM20 53h1v1h-1zM23 53h1v1h-1zM20 54h1v1h-1zM24 54h1v1h-1zM6 55h2v1h-2zM23 57h2v1h-2zM28 57h1v1h-1zM74 57h1v1h-1zM17 58h1v1h-1zM3 59h1v1h-1zM7 59h1v1h-1zM19 60h1v1h-1zM9 61h1v1h-1zM16 61h1v1h-1zM8 63h1v1h-1zM1 64h1v1h-1zM11 64h1v1h-1zM24 64h2v1h-2zM2 65h1v1h-1zM0 66h1v1h-1zM13 66h1v1h-1zM0 67h1v1h-1zM26 67h2v1h-2zM9 68h1v1h-1zM25 68h1v1h-1zM14 69h1v1h-1zM18 70h1v1h-1zM22 70h1v1h-1zM22 71h1v1h-1zM26 72h1v1h-1zM29 73h1v1h-1zM18 74h1v1h-1zM26 74h1v1h-1zM12 75h1v1h-1zM10 77h2v1h-2z"/><path fill="#dca096" d="M60 0h1v1h-1zM77 0h1v1h-1zM15 3h1v1h-1zM54 21h1v1h-1zM37 27h1v1h-1zM41 27h1v1h-1zM36 28h1v1h-1zM48 29h1v1h-1zM41 32h1v1h-1zM39 34h1v1h-1zM47 35h1v1h-1zM45 36h1v1h-1zM50 36h1v1h-1zM39 38h1v1h-1zM43 38h1v1h-1zM50 40h1v1h-1zM49 41h1v1h-1zM9 54h1v1h-1zM16 55h1v1h-1zM6 61h1v1h-1zM13 61h1v1h-1zM22 61h1v1h-1zM16 64h1v1h-1zM15 67h1v1h-1zM70 67h1v1h-1zM23 68h1v1h-1zM16 71h1v1h-1zM1 76h1v1h-1z"/><path fill="#f0e6dc" d="M61 0h1v1h-1zM66 0h1v1h-1zM29 1h1v1h-1zM50 2h1v1h-1zM46 3h1v1h-1zM59 4h1v1h-1zM31 5h1v1h-1zM17 6h1v1h-1zM5 7h1v1h-1zM37 7h1v1h-1zM40 7h1v1h-1zM50 7h1v1h-1zM1 9h1v1h-1zM17 11h1v1h-1zM35 11h1v1h-1zM50 11h1v1h-1zM7 12h1v1h-1zM38 13h1v1h-1zM42 14h1v1h-1zM61 14h1v1h-1zM46 15h1v1h-1zM63 16h1v1h-1zM77 16h1v1h-1zM45 17h1v1h-1zM73 18h1v1h-1zM35 20h1v1h-1zM32 21h1v1h-1zM35 21h1v1h-1zM43 23h1v1h-1zM52 24h1v1h-1zM33 25h1v1h-1zM38 25h1v1h-1zM53 25h1v1h-1zM32 27h1v1h-1zM66 27h1v1h-1zM70 27h1v1h-1zM75 27h1v1h-1zM4 28h1v1h-1zM5 30h1v1h-1zM32 30h1v1h-1zM62 31h1v1h-1zM74 31h1v1h-1zM60 32h1v1h-1zM54 34h1v1h-1zM63 35h1v1h-1zM70 37h1v1h-1zM31 39h1v1h-1zM52 39h1v1h-1zM64 39h1v1h-1zM70 40h1v1h-1zM34 41h1v1h-1zM34 42h1v1h-1zM56 42h2v1h-2zM66 42h1v1h-1zM35 43h2v1h-2zM19 44h1v1h-1zM52 44h1v1h-1zM47 45h1v1h-1zM50 45h1v1h-1zM56 45h1v1h-1zM7 46h1v1h-1zM72 46h1v1h-1zM7 47h1v1h-1zM22 47h1v1h-1zM30 47h1v1h-1zM76 48h1v1h-1zM11 52h1v1h-1zM18 52h1v1h-1zM30 55h1v1h-1zM30 57h1v1h-1zM5 58h1v1h-1zM25 59h1v1h-1zM66 60h1v1h-1zM71 60h1v1h-1zM25 66h1v1h-1zM7 70h1v1h-1zM30 70h2v1h-2zM65 70h1v1h-1zM19 72h1v1h-1zM47 72h1v1h-1zM70 72h1v1h-1zM0 73h1v1h-1zM49 73h1v1h-1zM68 76h1v1h-1zM4 77h1v1h-1z"/><path fill="#f0c8be" d="M65 0h1v1h-1zM73 0h1v1h-1zM77 4h1v1h-1zM37 6h1v1h-1zM28 16h1v1h-1zM46 18h1v1h-1zM32 19h1v1h-1zM35 19h1v1h-1zM50 19h1v1h-1zM33 21h1v1h-1zM58 27h1v1h-1zM27 30h1v1h-1zM59 31h1v1h-1zM51 32h1v1h-1zM58 42h1v1h-1zM56 44h1v1h-1zM58 45h1v1h-1zM20 50h1v1h-1zM62 50h1v1h-1zM8 52h1v1h-1zM16 52h1v1h-1zM19 52h1v1h-1zM67 53h1v1h-1zM56 54h1v1h-1zM20 56h1v1h-1zM21 57h1v1h-1zM27 57h1v1h-1zM25 58h1v1h-1zM25 61h1v1h-1zM0 62h1v1h-1zM2 69h1v1h-1zM25 69h1v1h-1zM43 70h1v1h-1zM8 75h1v1h-1zM15 77h1v1h-1z"/><path fill="#dc786e" d="M70 0h1v1h-1zM69 2h1v1h-1zM69 6h1v1h-1zM77 7h1v1h-1zM71 8h1v1h-1zM75 8h1v1h-1zM47 21h1v1h-1zM49 28h1v1h-1zM39 33h1v1h-1zM40 37h1v1h-1zM44 38h1v1h-1zM40 42h1v1h-1zM11 50h1v1h-1zM11 57h1v1h-1zM3 58h1v1h-1zM20 66h1v1h-1z"/><path fill="#c83c28" d="M71 0h1v1h-1zM75 7h1v1h-1z"/><path fill="#e6b4aa" d="M72 0h1v1h-1zM77 5h1v1h-1zM54 7h1v1h-1zM76 9h1v1h-1zM36 18h1v1h-1zM40 19h1v1h-1zM53 19h1v1h-1zM51 20h1v1h-1zM56 21h1v1h-1zM52 23h1v1h-1zM18 24h1v1h-1zM39 24h1v1h-1zM58 24h1v1h-1zM37 25h1v1h-1zM54 25h1v1h-1zM49 26h1v1h-1zM57 26h1v1h-1zM42 27h2v1h-2zM37 28h1v1h-1zM41 28h2v1h-2zM51 28h1v1h-1zM42 33h1v1h-1zM38 34h1v1h-1zM42 34h1v1h-1zM50 34h1v1h-1zM44 35h1v1h-1zM49 35h2v1h-2zM49 36h1v1h-1zM35 37h1v1h-1zM58 37h1v1h-1zM53 38h1v1h-1zM43 39h1v1h-1zM49 40h1v1h-1zM52 40h1v1h-1zM59 41h1v1h-1zM19 46h3v1h-3zM4 47h1v1h-1zM28 47h1v1h-1zM16 48h1v1h-1zM19 48h1v1h-1zM23 48h1v1h-1zM30 49h1v1h-1zM6 51h1v1h-1zM15 53h1v1h-1zM15 54h1v1h-1zM29 54h1v1h-1zM3 55h1v1h-1zM31 56h1v1h-1zM14 57h1v1h-1zM62 57h1v1h-1zM12 58h1v1h-1zM29 58h1v1h-1zM31 58h1v1h-1zM5 59h1v1h-1zM11 59h1v1h-1zM15 60h1v1h-1zM11 61h1v1h-1zM29 61h1v1h-1zM11 62h1v1h-1zM17 62h1v1h-1zM23 62h2v1h-2zM14 63h1v1h-1zM18 63h1v1h-1zM20 63h1v1h-1zM19 65h1v1h-1zM11 66h1v1h-1zM15 66h2v1h-2zM18 66h1v1h-1zM2 67h1v1h-1zM3 69h1v1h-1zM7 69h1v1h-1zM8 70h1v1h-1zM26 71h1v1h-1zM18 72h1v1h-1zM30 73h1v1h-1zM8 74h1v1h-1zM22 74h1v1h-1zM22 77h1v1h-1z"/><path fill="#dc8c82" d="M74 0h1v1h-1zM72 2h1v1h-1zM77 3h1v1h-1zM70 5h1v1h-1zM75 5h1v1h-1zM71 6h1v1h-1zM72 7h1v1h-1zM77 20h1v1h-1zM38 27h1v1h-1zM40 28h1v1h-1zM40 30h2v1h-2zM38 31h1v1h-1zM41 31h1v1h-1zM46 36h2v1h-2zM39 37h1v1h-1zM47 37h1v1h-1zM49 37h1v1h-1zM40 38h1v1h-1zM46 39h1v1h-1zM50 39h1v1h-1zM74 42h1v1h-1zM32 45h1v1h-1zM16 47h1v1h-1zM25 52h1v1h-1zM20 55h1v1h-1zM29 55h1v1h-1zM19 56h1v1h-1zM22 57h1v1h-1zM21 58h1v1h-1zM14 59h1v1h-1zM30 61h1v1h-1zM11 63h1v1h-1zM64 63h1v1h-1zM14 66h1v1h-1zM28 67h1v1h-1zM16 68h1v1h-1zM0 76h1v1h-1z"/><path fill="#dc8278" d="M75 0h1v1h-1zM77 2h1v1h-1zM73 3h1v1h-1zM74 4h1v1h-1zM70 7h1v1h-1zM10 11h1v1h-1zM53 24h1v1h-1zM47 28h1v1h-1zM43 30h1v1h-1zM49 30h1v1h-1zM43 34h1v1h-1zM47 34h1v1h-1zM39 35h1v1h-1zM42 38h1v1h-1zM73 40h1v1h-1zM57 44h1v1h-1zM20 49h1v1h-1zM23 54h1v1h-1zM12 57h1v1h-1zM1 60h1v1h-1zM4 60h1v1h-1zM30 60h1v1h-1zM15 63h1v1h-1zM20 65h1v1h-1zM5 70h1v1h-1zM17 73h1v1h-1zM3 74h1v1h-1z"/><path fill="#d2786e" d="M76 0h1v1h-1zM77 1h1v1h-1zM70 2h2v1h-2zM69 4h1v1h-1zM75 6h1v1h-1zM73 8h1v1h-1zM55 18h1v1h-1zM59 22h1v1h-1zM47 30h1v1h-1zM18 55h1v1h-1zM22 59h1v1h-1z"/><path fill="#f0fafa" d="M3 1h1v1h-1zM15 1h1v1h-1zM41 1h1v1h-1zM57 1h1v1h-1zM3 3h1v1h-1zM28 3h1v1h-1zM49 4h1v1h-1zM52 4h1v1h-1zM44 6h1v1h-1zM61 7h1v1h-1zM54 9h1v1h-1zM6 10h1v1h-1zM17 10h1v1h-1zM11 11h1v1h-1zM65 11h1v1h-1zM32 12h1v1h-1zM66 12h1v1h-1zM3 14h1v1h-1zM16 14h2v1h-2zM39 14h1v1h-1zM53 14h1v1h-1zM0 16h1v1h-1zM16 16h1v1h-1zM55 16h1v1h-1zM61 16h1v1h-1zM70 16h1v1h-1zM12 17h1v1h-1zM61 22h1v1h-1zM68 23h1v1h-1zM3 24h1v1h-1zM28 24h1v1h-1zM63 24h1v1h-1zM30 25h1v1h-1zM73 25h1v1h-1zM38 26h1v1h-1zM18 28h1v1h-1zM26 28h1v1h-1zM73 28h1v1h-1zM9 32h1v1h-1zM8 33h1v1h-1zM71 33h1v1h-1zM22 34h1v1h-1zM31 34h1v1h-1zM4 35h1v1h-1zM7 36h1v1h-1zM76 36h1v1h-1zM63 38h1v1h-1zM2 39h1v1h-1zM51 39h1v1h-1zM0 41h1v1h-1zM33 44h1v1h-1zM29 45h1v1h-1zM65 45h1v1h-1zM43 46h1v1h-1zM35 47h1v1h-1zM52 47h1v1h-1zM32 48h1v1h-1zM74 49h1v1h-1zM7 53h1v1h-1zM4 54h1v1h-1zM37 57h1v1h-1zM1 59h1v1h-1zM49 59h1v1h-1zM63 60h1v1h-1zM67 60h1v1h-1zM61 61h1v1h-1zM63 61h1v1h-1zM76 62h1v1h-1zM60 65h1v1h-1zM66 66h1v1h-1zM45 68h1v1h-1zM41 69h1v1h-1zM44 69h1v1h-1zM24 70h1v1h-1zM41 70h1v1h-1zM67 71h1v1h-1zM23 73h1v1h-1zM42 73h1v1h-1zM53 74h1v1h-1zM63 74h1v1h-1zM74 74h1v1h-1zM76 74h1v1h-1zM23 75h1v1h-1zM38 75h1v1h-1zM18 76h1v1h-1zM61 77h1v1h-1z"/><path fill="#b4c8e6" d="M5 1h1v1h-1zM5 2h1v1h-1zM0 4h1v1h-1zM0 9h1v1h-1zM8 10h1v1h-1zM20 16h1v1h-1zM21 17h1v1h-1zM22 18h1v1h-1zM21 20h1v1h-1zM20 21h1v1h-1zM6 22h1v1h-1zM8 23h1v1h-1zM22 23h1v1h-1zM30 24h1v1h-1zM4 25h1v1h-1zM12 25h1v1h-1zM8 32h1v1h-1zM24 32h1v1h-1zM27 32h1v1h-1zM29 38h1v1h-1zM4 40h1v1h-1zM9 42h1v1h-1zM23 42h1v1h-1zM19 43h1v1h-1zM27 43h1v1h-1zM53 47h1v1h-1zM39 48h1v1h-1zM34 50h1v1h-1zM45 50h1v1h-1zM45 53h1v1h-1zM35 54h1v1h-1zM54 55h1v1h-1zM59 55h1v1h-1zM57 56h1v1h-1zM60 56h1v1h-1zM56 57h1v1h-1zM61 57h1v1h-1zM34 58h1v1h-1zM44 65h1v1h-1zM52 65h1v1h-1zM35 68h1v1h-1zM45 69h1v1h-1zM54 69h1v1h-1zM67 69h1v1h-1zM55 71h1v1h-1zM75 72h2v1h-2zM37 73h1v1h-1zM52 73h1v1h-1zM68 77h1v1h-1zM73 77h1v1h-1z"/><path fill="#e6a0a0" d="M10 1h1v1h-1zM41 4h1v1h-1zM68 4h1v1h-1zM66 13h1v1h-1zM44 19h1v1h-1zM45 27h1v1h-1zM38 32h1v1h-1zM50 32h1v1h-1zM58 33h1v1h-1zM36 35h1v1h-1zM38 36h1v1h-1zM41 39h1v1h-1zM45 39h1v1h-1zM62 40h1v1h-1zM42 41h1v1h-1zM13 49h1v1h-1zM21 49h1v1h-1zM4 50h1v1h-1zM11 56h1v1h-1zM13 56h1v1h-1zM5 57h1v1h-1zM16 58h1v1h-1zM12 61h1v1h-1zM21 64h1v1h-1zM28 64h1v1h-1zM16 65h1v1h-1zM21 66h1v1h-1zM27 73h1v1h-1z"/><path fill="#f0d2d2" d="M16 1h1v1h-1zM46 1h1v1h-1zM33 2h1v1h-1zM26 3h1v1h-1zM40 3h1v1h-1zM44 3h1v1h-1zM51 3h1v1h-1zM66 3h1v1h-1zM32 4h1v1h-1zM37 4h1v1h-1zM58 4h1v1h-1zM9 5h1v1h-1zM42 6h1v1h-1zM52 6h1v1h-1zM68 6h1v1h-1zM64 7h1v1h-1zM42 9h1v1h-1zM53 9h1v1h-1zM71 9h1v1h-1zM74 11h1v1h-1zM11 12h1v1h-1zM28 12h1v1h-1zM62 12h1v1h-1zM33 13h1v1h-1zM56 13h1v1h-1zM63 13h1v1h-1zM70 13h1v1h-1zM64 14h1v1h-1zM65 15h1v1h-1zM32 17h1v1h-1zM35 17h1v1h-1zM38 18h1v1h-1zM34 19h1v1h-1zM43 19h1v1h-1zM73 19h1v1h-1zM33 20h1v1h-1zM39 20h1v1h-1zM55 20h1v1h-1zM43 21h1v1h-1zM45 21h2v1h-2zM51 21h1v1h-1zM64 21h1v1h-1zM38 22h1v1h-1zM40 22h1v1h-1zM50 22h1v1h-1zM53 22h1v1h-1zM57 22h1v1h-1zM37 23h1v1h-1zM42 23h1v1h-1zM37 24h2v1h-2zM49 24h1v1h-1zM55 24h1v1h-1zM32 25h1v1h-1zM34 25h1v1h-1zM41 25h1v1h-1zM44 25h1v1h-1zM71 25h1v1h-1zM34 26h1v1h-1zM44 26h1v1h-1zM56 26h1v1h-1zM74 26h1v1h-1zM35 27h1v1h-1zM55 27h1v1h-1zM53 28h1v1h-1zM8 29h1v1h-1zM31 29h1v1h-1zM33 29h1v1h-1zM39 29h1v1h-1zM56 31h1v1h-1zM76 31h1v1h-1zM56 32h1v1h-1zM51 33h2v1h-2zM36 34h1v1h-1zM40 34h1v1h-1zM56 34h1v1h-1zM58 34h1v1h-1zM54 35h1v1h-1zM68 35h1v1h-1zM71 35h1v1h-1zM52 36h1v1h-1zM32 37h1v1h-1zM36 37h1v1h-1zM43 37h1v1h-1zM55 37h1v1h-1zM74 37h1v1h-1zM48 38h1v1h-1zM57 38h1v1h-1zM34 39h1v1h-1zM53 39h1v1h-1zM55 39h1v1h-1zM59 39h1v1h-1zM53 40h2v1h-2zM40 41h1v1h-1zM43 41h1v1h-1zM43 42h1v1h-1zM50 42h1v1h-1zM60 42h1v1h-1zM33 43h1v1h-1zM38 43h1v1h-1zM51 43h2v1h-2zM58 43h1v1h-1zM34 44h1v1h-1zM48 44h1v1h-1zM64 44h1v1h-1zM75 44h1v1h-1zM40 45h1v1h-1zM52 45h1v1h-1zM73 45h1v1h-1zM4 46h1v1h-1zM8 46h1v1h-1zM10 46h1v1h-1zM12 46h1v1h-1zM24 46h1v1h-1zM9 47h1v1h-1zM15 47h1v1h-1zM18 47h1v1h-1zM26 47h1v1h-1zM14 48h1v1h-1zM18 48h1v1h-1zM27 48h2v1h-2zM7 49h1v1h-1zM12 49h1v1h-1zM23 49h1v1h-1zM25 49h1v1h-1zM29 49h1v1h-1zM65 49h1v1h-1zM12 50h1v1h-1zM19 50h1v1h-1zM29 50h1v1h-1zM4 51h1v1h-1zM11 51h1v1h-1zM18 51h1v1h-1zM30 51h1v1h-1zM49 51h1v1h-1zM74 51h1v1h-1zM0 52h1v1h-1zM2 52h1v1h-1zM6 52h1v1h-1zM14 52h2v1h-2zM20 52h1v1h-1zM24 52h1v1h-1zM28 52h1v1h-1zM19 53h1v1h-1zM25 53h1v1h-1zM31 53h1v1h-1zM0 54h1v1h-1zM2 54h1v1h-1zM12 54h1v1h-1zM21 54h1v1h-1zM28 54h1v1h-1zM2 55h1v1h-1zM13 55h1v1h-1zM17 55h1v1h-1zM57 55h1v1h-1zM4 56h1v1h-1zM8 56h1v1h-1zM23 56h1v1h-1zM10 57h1v1h-1zM25 57h1v1h-1zM1 58h1v1h-1zM18 58h1v1h-1zM24 58h1v1h-1zM27 58h1v1h-1zM19 59h1v1h-1zM26 59h1v1h-1zM29 59h2v1h-2zM22 60h1v1h-1zM76 61h1v1h-1zM2 62h1v1h-1zM25 62h1v1h-1zM30 62h1v1h-1zM2 63h1v1h-1zM10 63h1v1h-1zM25 63h1v1h-1zM29 63h1v1h-1zM22 64h1v1h-1zM0 65h1v1h-1zM4 65h1v1h-1zM8 65h1v1h-1zM23 65h1v1h-1zM27 65h2v1h-2zM31 65h1v1h-1zM1 66h1v1h-1zM5 66h1v1h-1zM9 66h2v1h-2zM26 66h1v1h-1zM11 67h1v1h-1zM14 67h1v1h-1zM20 67h1v1h-1zM31 67h1v1h-1zM1 68h2v1h-2zM11 68h1v1h-1zM30 68h1v1h-1zM1 69h1v1h-1zM8 69h1v1h-1zM12 69h1v1h-1zM21 69h1v1h-1zM31 69h1v1h-1zM28 70h1v1h-1zM25 71h1v1h-1zM11 72h1v1h-1zM3 73h1v1h-1zM12 73h1v1h-1zM21 73h1v1h-1zM26 73h1v1h-1zM31 73h1v1h-1zM4 74h1v1h-1zM9 75h1v1h-1zM14 75h2v1h-2zM22 75h1v1h-1zM25 75h1v1h-1zM9 76h1v1h-1zM11 76h1v1h-1zM19 76h2v1h-2zM0 77h2v1h-2zM12 77h1v1h-1zM23 77h1v1h-1zM25 77h1v1h-1z"/><path fill="#d2645a" d="M70 1h1v1h-1zM77 6h1v1h-1zM76 7h1v1h-1zM46 31h1v1h-1zM42 40h1v1h-1zM53 41h1v1h-1zM4 59h1v1h-1zM30 75h1v1h-1z"/><path fill="#e6a096" d="M72 1h1v1h-1zM76 5h1v1h-1zM49 18h1v1h-1zM47 25h1v1h-1zM34 27h1v1h-1zM46 27h1v1h-1zM47 29h1v1h-1zM46 30h1v1h-1zM48 30h1v1h-1zM52 30h1v1h-1zM47 31h1v1h-1zM50 31h1v1h-1zM39 32h1v1h-1zM74 35h1v1h-1zM45 38h1v1h-1zM36 41h1v1h-1zM50 43h1v1h-1zM26 51h2v1h-2zM14 55h1v1h-1zM19 55h1v1h-1zM5 56h1v1h-1zM14 56h1v1h-1zM1 57h1v1h-1zM13 57h1v1h-1zM19 57h1v1h-1zM20 58h1v1h-1zM22 58h1v1h-1zM13 60h1v1h-1zM15 61h1v1h-1zM16 62h1v1h-1zM21 63h2v1h-2zM17 64h1v1h-1zM20 64h1v1h-1zM9 69h1v1h-1zM21 72h1v1h-1z"/><path fill="#e6aaa0" d="M73 1h1v1h-1zM74 2h1v1h-1zM75 3h1v1h-1zM76 4h1v1h-1zM39 5h1v1h-1zM75 11h1v1h-1zM77 11h1v1h-1zM76 12h1v1h-1zM33 19h1v1h-1zM48 20h1v1h-1zM52 20h1v1h-1zM43 22h1v1h-1zM36 24h1v1h-1zM41 24h2v1h-2zM46 24h1v1h-1zM36 25h1v1h-1zM57 25h1v1h-1zM48 26h1v1h-1zM44 27h1v1h-1zM39 28h1v1h-1zM45 28h1v1h-1zM37 29h2v1h-2zM51 29h1v1h-1zM57 29h1v1h-1zM36 31h1v1h-1zM2 32h1v1h-1zM49 32h1v1h-1zM34 33h2v1h-2zM50 33h1v1h-1zM35 34h1v1h-1zM41 34h1v1h-1zM55 34h1v1h-1zM32 36h1v1h-1zM39 36h1v1h-1zM43 36h1v1h-1zM53 36h1v1h-1zM41 38h1v1h-1zM49 38h1v1h-1zM33 39h1v1h-1zM48 39h1v1h-1zM46 41h1v1h-1zM52 41h1v1h-1zM44 42h1v1h-1zM44 43h1v1h-1zM38 44h1v1h-1zM58 44h1v1h-1zM41 45h1v1h-1zM16 46h1v1h-1zM25 47h1v1h-1zM30 52h1v1h-1zM0 53h1v1h-1zM9 53h1v1h-1zM22 54h1v1h-1zM21 55h1v1h-1zM23 55h1v1h-1zM17 56h1v1h-1zM22 56h1v1h-1zM16 57h1v1h-1zM13 58h1v1h-1zM17 59h1v1h-1zM14 60h1v1h-1zM18 60h1v1h-1zM14 61h1v1h-1zM20 61h1v1h-1zM31 61h1v1h-1zM5 63h2v1h-2zM13 63h1v1h-1zM16 63h2v1h-2zM14 64h1v1h-1zM19 64h1v1h-1zM11 65h2v1h-2zM12 66h1v1h-1zM4 68h1v1h-1zM24 68h1v1h-1zM14 72h1v1h-1zM9 73h1v1h-1zM50 74h1v1h-1zM24 77h1v1h-1zM36 77h1v1h-1z"/><path fill="#d26450" d="M74 1h1v1h-1zM69 3h1v1h-1zM76 3h1v1h-1zM74 8h1v1h-1z"/><path fill="#d26e64" d="M76 1h1v1h-1zM75 2h1v1h-1zM70 3h1v1h-1zM71 5h1v1h-1zM72 6h1v1h-1zM69 7h1v1h-1zM74 7h1v1h-1zM70 8h1v1h-1zM37 33h1v1h-1zM43 35h1v1h-1zM44 40h1v1h-1zM31 57h1v1h-1zM19 58h1v1h-1zM19 61h1v1h-1zM20 72h1v1h-1z"/><path fill="#a0c8dc" d="M16 2h1v1h-1zM22 15h1v1h-1zM18 18h1v1h-1zM29 19h1v1h-1zM31 21h1v1h-1zM16 23h1v1h-1zM22 24h1v1h-1zM10 26h1v1h-1zM17 26h1v1h-1zM6 27h1v1h-1zM15 28h1v1h-1zM23 28h1v1h-1zM29 29h1v1h-1zM25 30h1v1h-1zM5 32h1v1h-1zM24 33h1v1h-1zM3 34h1v1h-1zM20 34h1v1h-1zM23 34h1v1h-1zM21 37h1v1h-1zM10 38h1v1h-1zM15 38h1v1h-1zM4 39h1v1h-1zM18 40h1v1h-1zM21 40h1v1h-1zM24 40h1v1h-1zM14 42h1v1h-1zM8 43h1v1h-1zM15 43h2v1h-2zM21 43h1v1h-1zM16 45h1v1h-1zM56 46h1v1h-1zM48 48h1v1h-1zM58 48h1v1h-1zM47 52h1v1h-1zM37 53h1v1h-1zM44 53h1v1h-1zM43 54h1v1h-1zM49 54h1v1h-1zM53 55h1v1h-1zM62 55h1v1h-1zM34 56h1v1h-1zM37 56h1v1h-1zM40 56h1v1h-1zM43 57h1v1h-1zM49 57h1v1h-1zM37 59h1v1h-1zM59 59h1v1h-1zM42 60h1v1h-1zM50 60h2v1h-2zM32 61h1v1h-1zM34 61h1v1h-1zM54 61h1v1h-1zM75 61h1v1h-1zM34 62h1v1h-1zM39 62h1v1h-1zM35 63h1v1h-1zM39 67h1v1h-1zM51 67h1v1h-1zM50 71h1v1h-1zM45 72h1v1h-1zM38 73h1v1h-1zM43 74h1v1h-1z"/><path fill="#f0dcd2" d="M20 2h1v1h-1zM60 2h1v1h-1zM66 2h1v1h-1zM8 3h1v1h-1zM18 3h1v1h-1zM45 3h1v1h-1zM34 4h1v1h-1zM30 5h1v1h-1zM32 5h1v1h-1zM41 5h1v1h-1zM48 7h1v1h-1zM33 8h1v1h-1zM62 8h1v1h-1zM23 10h1v1h-1zM38 10h1v1h-1zM61 12h1v1h-1zM65 12h1v1h-1zM64 13h1v1h-1zM4 14h1v1h-1zM69 15h1v1h-1zM65 16h1v1h-1zM75 17h1v1h-1zM43 18h1v1h-1zM32 20h1v1h-1zM38 20h1v1h-1zM41 20h1v1h-1zM34 21h1v1h-1zM69 21h1v1h-1zM35 22h1v1h-1zM35 23h1v1h-1zM47 24h1v1h-1zM35 25h1v1h-1zM50 25h2v1h-2zM40 26h1v1h-1zM46 26h1v1h-1zM52 26h1v1h-1zM52 27h1v1h-1zM59 28h1v1h-1zM70 29h1v1h-1zM53 30h1v1h-1zM74 32h1v1h-1zM59 34h1v1h-1zM57 36h1v1h-1zM72 36h1v1h-1zM51 37h1v1h-1zM77 38h1v1h-1zM57 39h1v1h-1zM35 41h1v1h-1zM21 42h1v1h-1zM36 42h1v1h-1zM52 42h1v1h-1zM54 42h2v1h-2zM56 43h1v1h-1zM73 43h1v1h-1zM69 44h1v1h-1zM57 45h1v1h-1zM72 45h1v1h-1zM18 46h1v1h-1zM6 47h1v1h-1zM8 47h1v1h-1zM21 47h1v1h-1zM10 49h1v1h-1zM3 52h1v1h-1zM10 53h1v1h-1zM6 54h1v1h-1zM18 54h1v1h-1zM67 54h1v1h-1zM28 56h1v1h-1zM30 56h1v1h-1zM6 57h1v1h-1zM4 58h1v1h-1zM23 59h1v1h-1zM31 59h1v1h-1zM17 60h1v1h-1zM69 60h1v1h-1zM3 63h1v1h-1zM75 65h1v1h-1zM24 67h1v1h-1zM30 69h1v1h-1zM74 69h1v1h-1zM76 69h1v1h-1zM4 71h1v1h-1zM20 71h1v1h-1zM23 71h1v1h-1zM30 71h1v1h-1zM5 72h1v1h-1zM6 73h1v1h-1zM19 73h1v1h-1zM63 73h1v1h-1zM14 74h1v1h-1zM25 74h1v1h-1zM28 77h1v1h-1z"/><path fill="#82b4dc" d="M30 2h1v1h-1zM24 24h1v1h-1zM20 25h1v1h-1zM20 30h1v1h-1zM22 30h1v1h-1zM20 31h1v1h-1zM21 32h1v1h-1zM21 33h1v1h-1zM16 35h1v1h-1zM22 40h1v1h-1zM19 41h1v1h-1zM22 41h1v1h-1zM15 42h1v1h-1zM24 44h1v1h-1zM17 45h1v1h-1zM75 47h1v1h-1zM33 53h1v1h-1zM53 53h1v1h-1zM36 55h2v1h-2zM47 55h1v1h-1zM44 56h2v1h-2zM46 57h2v1h-2zM52 57h1v1h-1zM36 58h1v1h-1zM42 61h1v1h-1zM35 62h1v1h-1z"/><path fill="#e6bebe" d="M32 2h1v1h-1zM57 4h1v1h-1zM72 5h1v1h-1zM8 6h1v1h-1zM32 7h1v1h-1zM68 7h1v1h-1zM2 9h1v1h-1zM70 9h1v1h-1zM63 12h1v1h-1zM65 14h1v1h-1zM38 15h1v1h-1zM58 16h1v1h-1zM41 18h2v1h-2zM44 18h1v1h-1zM54 18h1v1h-1zM41 19h1v1h-1zM51 19h1v1h-1zM58 19h1v1h-1zM61 19h1v1h-1zM62 20h1v1h-1zM73 20h1v1h-1zM36 22h1v1h-1zM41 22h1v1h-1zM52 22h1v1h-1zM38 23h1v1h-1zM46 23h1v1h-1zM59 23h1v1h-1zM45 24h1v1h-1zM48 25h1v1h-1zM55 25h1v1h-1zM33 26h1v1h-1zM37 26h1v1h-1zM47 26h1v1h-1zM58 26h1v1h-1zM52 29h1v1h-1zM37 30h1v1h-1zM51 30h1v1h-1zM56 30h1v1h-1zM32 31h1v1h-1zM45 31h1v1h-1zM54 31h1v1h-1zM45 32h2v1h-2zM53 32h1v1h-1zM32 33h1v1h-1zM41 33h1v1h-1zM59 33h1v1h-1zM37 35h2v1h-2zM59 35h1v1h-1zM8 36h1v1h-1zM41 36h1v1h-1zM44 36h1v1h-1zM55 36h1v1h-1zM58 36h2v1h-2zM38 38h1v1h-1zM36 39h1v1h-1zM39 39h1v1h-1zM42 39h1v1h-1zM62 39h1v1h-1zM34 40h1v1h-1zM47 40h1v1h-1zM51 40h1v1h-1zM38 41h1v1h-1zM55 41h1v1h-1zM37 43h1v1h-1zM51 44h1v1h-1zM44 45h1v1h-1zM46 45h1v1h-1zM70 45h1v1h-1zM75 45h1v1h-1zM2 46h1v1h-1zM15 46h1v1h-1zM4 49h1v1h-1zM26 49h1v1h-1zM2 50h1v1h-1zM24 50h1v1h-1zM13 51h1v1h-1zM28 51h1v1h-1zM14 53h1v1h-1zM21 53h1v1h-1zM27 53h1v1h-1zM3 54h1v1h-1zM19 54h1v1h-1zM10 55h1v1h-1zM15 55h1v1h-1zM22 55h1v1h-1zM9 56h1v1h-1zM24 56h1v1h-1zM8 57h1v1h-1zM23 58h1v1h-1zM13 59h1v1h-1zM7 60h1v1h-1zM9 60h1v1h-1zM11 60h1v1h-1zM13 62h1v1h-1zM22 62h1v1h-1zM31 62h1v1h-1zM24 63h1v1h-1zM15 64h1v1h-1zM18 64h1v1h-1zM26 64h1v1h-1zM1 65h1v1h-1zM8 66h1v1h-1zM17 66h1v1h-1zM27 66h1v1h-1zM1 67h1v1h-1zM22 67h1v1h-1zM61 67h1v1h-1zM5 68h1v1h-1zM17 68h1v1h-1zM21 68h1v1h-1zM11 69h1v1h-1zM20 69h1v1h-1zM71 69h1v1h-1zM0 70h1v1h-1zM4 70h1v1h-1zM17 70h1v1h-1zM7 72h1v1h-1zM9 72h1v1h-1zM7 73h1v1h-1zM28 73h1v1h-1zM0 74h1v1h-1zM23 74h1v1h-1zM27 75h1v1h-1zM31 75h1v1h-1zM10 76h1v1h-1zM12 76h1v1h-1zM3 77h1v1h-1zM7 77h1v1h-1z"/><path fill="#dc9696" d="M73 2h1v1h-1zM71 3h1v1h-1zM70 4h1v1h-1zM75 4h1v1h-1zM74 6h1v1h-1zM63 7h1v1h-1zM73 7h1v1h-1zM74 13h1v1h-1zM77 13h1v1h-1zM33 24h1v1h-1zM50 24h1v1h-1zM53 27h1v1h-1zM44 28h1v1h-1zM49 33h1v1h-1zM38 39h1v1h-1zM70 42h1v1h-1zM53 44h1v1h-1zM12 52h1v1h-1zM12 55h1v1h-1zM16 56h1v1h-1zM15 58h1v1h-1zM12 59h1v1h-1zM21 61h1v1h-1zM19 62h1v1h-1zM18 65h1v1h-1zM22 65h1v1h-1zM25 65h1v1h-1zM6 74h1v1h-1z"/><path fill="#e6aaaa" d="M72 3h1v1h-1zM69 5h1v1h-1zM74 5h1v1h-1zM72 8h1v1h-1zM23 14h1v1h-1zM40 18h1v1h-1zM59 18h1v1h-1zM49 23h1v1h-1zM45 25h1v1h-1zM23 27h1v1h-1zM40 27h1v1h-1zM54 28h1v1h-1zM41 29h1v1h-1zM39 30h1v1h-1zM44 30h1v1h-1zM42 31h1v1h-1zM42 32h1v1h-1zM52 32h1v1h-1zM38 33h1v1h-1zM47 33h1v1h-1zM35 35h1v1h-1zM45 35h2v1h-2zM37 36h1v1h-1zM40 36h1v1h-1zM48 36h1v1h-1zM41 37h1v1h-1zM50 37h1v1h-1zM2 38h1v1h-1zM47 38h1v1h-1zM44 39h1v1h-1zM37 40h1v1h-1zM41 40h1v1h-1zM42 42h1v1h-1zM1 47h1v1h-1zM3 48h1v1h-1zM25 50h1v1h-1zM19 51h1v1h-1zM1 52h1v1h-1zM27 52h1v1h-1zM11 54h1v1h-1zM16 54h1v1h-1zM5 55h1v1h-1zM26 58h1v1h-1zM23 61h1v1h-1zM23 66h1v1h-1zM29 70h1v1h-1zM22 72h1v1h-1zM29 74h1v1h-1zM8 76h1v1h-1zM25 76h1v1h-1zM30 76h1v1h-1z"/><path fill="#d25a46" d="M74 3h1v1h-1zM48 40h1v1h-1zM14 71h1v1h-1z"/><path fill="#d27864" d="M72 4h1v1h-1zM73 5h1v1h-1z"/><path fill="#8cbedc" d="M6 6h1v1h-1zM18 10h1v1h-1zM24 26h1v1h-1zM11 27h1v1h-1zM22 38h1v1h-1zM3 40h1v1h-1zM10 41h1v1h-1zM15 41h1v1h-1zM11 44h1v1h-1zM39 55h1v1h-1zM67 59h1v1h-1zM36 62h1v1h-1zM33 66h1v1h-1zM50 66h1v1h-1zM36 67h1v1h-1zM71 71h1v1h-1zM37 74h1v1h-1z"/><path fill="#a0bedc" d="M43 6h1v1h-1zM16 8h1v1h-1zM41 14h1v1h-1zM38 17h1v1h-1zM18 19h1v1h-1zM27 19h1v1h-1zM22 22h1v1h-1zM8 25h1v1h-1zM12 26h1v1h-1zM21 26h1v1h-1zM10 27h1v1h-1zM16 27h1v1h-1zM8 28h1v1h-1zM22 28h1v1h-1zM30 28h1v1h-1zM15 31h1v1h-1zM25 31h1v1h-1zM7 32h1v1h-1zM13 32h1v1h-1zM23 32h1v1h-1zM25 32h1v1h-1zM15 33h1v1h-1zM26 33h1v1h-1zM71 34h1v1h-1zM8 35h1v1h-1zM23 35h1v1h-1zM10 36h1v1h-1zM26 36h1v1h-1zM63 36h1v1h-1zM15 37h1v1h-1zM23 38h1v1h-1zM13 39h2v1h-2zM20 39h1v1h-1zM60 39h1v1h-1zM13 42h1v1h-1zM30 42h1v1h-1zM31 43h1v1h-1zM20 44h1v1h-1zM8 45h1v1h-1zM34 46h1v1h-1zM49 47h1v1h-1zM58 50h1v1h-1zM41 51h1v1h-1zM44 51h1v1h-1zM45 52h2v1h-2zM39 54h1v1h-1zM42 54h1v1h-1zM45 54h1v1h-1zM49 55h1v1h-1zM55 55h1v1h-1zM51 56h1v1h-1zM33 57h1v1h-1zM38 57h1v1h-1zM58 59h1v1h-1zM69 61h1v1h-1zM40 62h1v1h-1zM44 62h1v1h-1zM46 62h1v1h-1zM38 63h1v1h-1zM35 64h1v1h-1zM38 64h1v1h-1zM45 64h1v1h-1zM51 65h1v1h-1zM41 67h1v1h-1zM50 67h1v1h-1zM32 69h1v1h-1zM42 69h1v1h-1zM49 69h1v1h-1zM52 69h1v1h-1zM45 70h1v1h-1z"/><path fill="#e6b4b4" d="M56 6h1v1h-1zM43 7h1v1h-1zM29 9h1v1h-1zM68 11h1v1h-1zM38 14h1v1h-1zM43 17h1v1h-1zM53 20h1v1h-1zM71 21h1v1h-1zM68 22h1v1h-1zM57 24h1v1h-1zM52 25h1v1h-1zM39 26h1v1h-1zM50 27h1v1h-1zM32 28h1v1h-1zM43 28h1v1h-1zM35 29h1v1h-1zM43 29h1v1h-1zM36 30h1v1h-1zM40 31h1v1h-1zM44 32h1v1h-1zM36 33h1v1h-1zM45 33h1v1h-1zM48 34h2v1h-2zM70 34h1v1h-1zM40 35h1v1h-1zM42 35h1v1h-1zM42 37h1v1h-1zM46 37h1v1h-1zM51 38h1v1h-1zM44 41h1v1h-1zM47 41h1v1h-1zM48 42h1v1h-1zM49 45h1v1h-1zM17 46h1v1h-1zM27 46h1v1h-1zM2 47h1v1h-1zM14 47h1v1h-1zM2 48h1v1h-1zM22 49h1v1h-1zM27 49h1v1h-1zM28 50h1v1h-1zM31 50h1v1h-1zM2 51h1v1h-1zM15 51h1v1h-1zM21 51h1v1h-1zM23 51h1v1h-1zM4 53h1v1h-1zM8 53h1v1h-1zM12 53h1v1h-1zM26 54h1v1h-1zM11 55h1v1h-1zM28 55h1v1h-1zM26 56h1v1h-1zM2 57h1v1h-1zM6 58h1v1h-1zM16 59h1v1h-1zM5 60h1v1h-1zM31 60h1v1h-1zM18 61h1v1h-1zM1 62h1v1h-1zM6 62h1v1h-1zM14 62h1v1h-1zM26 62h1v1h-1zM12 63h1v1h-1zM30 63h1v1h-1zM14 65h1v1h-1zM24 65h1v1h-1zM22 66h1v1h-1zM6 67h1v1h-1zM24 69h1v1h-1zM27 69h1v1h-1zM10 71h1v1h-1zM15 71h1v1h-1zM19 71h1v1h-1zM17 72h1v1h-1zM18 73h1v1h-1zM24 73h1v1h-1zM20 75h1v1h-1zM26 75h1v1h-1zM29 75h1v1h-1zM15 76h1v1h-1z"/><path fill="#96bedc" d="M30 7h1v1h-1zM26 12h1v1h-1zM30 19h1v1h-1zM16 20h1v1h-1zM17 22h1v1h-1zM6 24h1v1h-1zM8 24h1v1h-1zM10 24h1v1h-1zM22 25h1v1h-1zM13 26h1v1h-1zM14 27h1v1h-1zM31 27h1v1h-1zM19 28h1v1h-1zM25 28h1v1h-1zM15 29h1v1h-1zM11 30h1v1h-1zM8 31h1v1h-1zM13 31h1v1h-1zM19 31h1v1h-1zM24 31h1v1h-1zM28 31h1v1h-1zM10 32h1v1h-1zM22 32h1v1h-1zM26 32h1v1h-1zM12 34h1v1h-1zM21 34h1v1h-1zM10 35h1v1h-1zM14 35h2v1h-2zM28 35h1v1h-1zM16 36h3v1h-3zM24 36h1v1h-1zM19 37h1v1h-1zM6 38h1v1h-1zM17 38h1v1h-1zM20 38h1v1h-1zM9 39h1v1h-1zM12 39h1v1h-1zM16 39h1v1h-1zM26 39h1v1h-1zM9 40h1v1h-1zM20 40h1v1h-1zM23 40h1v1h-1zM18 42h1v1h-1zM18 43h1v1h-1zM9 44h1v1h-1zM15 44h1v1h-1zM20 45h1v1h-1zM50 46h1v1h-1zM58 47h1v1h-1zM70 47h1v1h-1zM42 49h1v1h-1zM46 49h1v1h-1zM38 51h1v1h-1zM45 51h1v1h-1zM65 51h1v1h-1zM49 52h1v1h-1zM41 53h1v1h-1zM46 53h1v1h-1zM37 54h1v1h-1zM45 55h1v1h-1zM52 55h1v1h-1zM43 56h1v1h-1zM32 57h1v1h-1zM39 57h1v1h-1zM40 58h1v1h-1zM46 58h1v1h-1zM49 58h1v1h-1zM34 59h2v1h-2zM41 59h1v1h-1zM39 60h1v1h-1zM41 60h1v1h-1zM55 60h1v1h-1zM38 61h1v1h-1zM41 61h1v1h-1zM57 61h1v1h-1zM33 62h1v1h-1zM42 62h1v1h-1zM48 62h1v1h-1zM42 63h1v1h-1zM50 63h1v1h-1zM46 64h1v1h-1zM38 65h1v1h-1zM43 65h1v1h-1zM47 66h1v1h-1zM42 67h1v1h-1zM45 67h1v1h-1zM53 67h1v1h-1zM33 68h1v1h-1zM37 68h2v1h-2zM46 69h1v1h-1zM53 69h1v1h-1zM39 71h1v1h-1zM53 71h1v1h-1z"/><path fill="#82b4d2" d="M7 8h1v1h-1zM21 15h1v1h-1zM1 29h1v1h-1zM22 29h2v1h-2zM15 30h1v1h-1zM0 32h1v1h-1zM22 36h2v1h-2zM14 37h1v1h-1zM17 37h1v1h-1zM11 38h1v1h-1zM18 39h1v1h-1zM17 41h1v1h-1zM18 44h1v1h-1zM13 45h1v1h-1zM41 54h1v1h-1zM48 54h1v1h-1zM41 55h1v1h-1zM48 55h1v1h-1zM62 56h1v1h-1zM40 57h1v1h-1zM33 59h1v1h-1zM38 59h1v1h-1zM36 60h1v1h-1zM40 60h1v1h-1zM47 62h1v1h-1zM40 63h1v1h-1zM32 64h1v1h-1zM39 66h1v1h-1zM69 70h1v1h-1zM48 76h1v1h-1zM45 77h1v1h-1z"/><path fill="#dc8c8c" d="M69 8h1v1h-1zM54 10h1v1h-1zM37 32h1v1h-1zM37 39h1v1h-1zM38 40h1v1h-1zM45 40h1v1h-1zM19 49h1v1h-1zM28 53h1v1h-1zM26 57h1v1h-1zM28 58h1v1h-1z"/><path fill="#aac8dc" d="M2 18h1v1h-1zM2 19h1v1h-1zM31 20h1v1h-1zM1 23h1v1h-1zM20 24h1v1h-1zM12 31h1v1h-1zM16 34h1v1h-1zM11 35h1v1h-1zM1 38h1v1h-1zM19 39h1v1h-1zM30 40h1v1h-1zM15 45h1v1h-1zM57 46h1v1h-1zM37 47h1v1h-1zM53 57h1v1h-1zM38 58h1v1h-1zM43 61h1v1h-1zM32 62h1v1h-1zM46 65h1v1h-1zM42 66h1v1h-1zM58 75h2v1h-2zM39 76h1v1h-1zM54 76h1v1h-1z"/><path fill="#8cb4dc" d="M14 19h1v1h-1zM20 19h1v1h-1zM10 20h1v1h-1zM4 22h1v1h-1zM11 23h1v1h-1zM15 24h1v1h-1zM23 24h1v1h-1zM8 26h1v1h-1zM29 26h1v1h-1zM8 27h1v1h-1zM5 29h1v1h-1zM11 29h1v1h-1zM13 29h1v1h-1zM21 29h1v1h-1zM25 29h1v1h-1zM14 30h1v1h-1zM17 30h1v1h-1zM21 30h1v1h-1zM17 31h2v1h-2zM23 31h1v1h-1zM26 31h1v1h-1zM30 31h1v1h-1zM20 32h1v1h-1zM5 33h1v1h-1zM17 33h1v1h-1zM20 33h1v1h-1zM22 33h2v1h-2zM13 34h1v1h-1zM15 34h1v1h-1zM24 35h1v1h-1zM11 36h1v1h-1zM27 36h1v1h-1zM9 37h2v1h-2zM14 38h1v1h-1zM18 38h1v1h-1zM22 39h1v1h-1zM27 39h1v1h-1zM6 40h1v1h-1zM11 41h1v1h-1zM24 42h1v1h-1zM21 44h1v1h-1zM0 45h1v1h-1zM46 47h1v1h-1zM51 48h1v1h-1zM38 50h1v1h-1zM41 50h1v1h-1zM46 51h1v1h-1zM48 52h1v1h-1zM35 53h1v1h-1zM42 53h1v1h-1zM46 54h1v1h-1zM53 54h1v1h-1zM38 55h1v1h-1zM44 55h1v1h-1zM33 56h1v1h-1zM47 56h2v1h-2zM44 57h2v1h-2zM58 57h1v1h-1zM39 59h1v1h-1zM46 59h1v1h-1zM44 60h1v1h-1zM46 60h2v1h-2zM43 62h1v1h-1zM53 62h1v1h-1zM39 63h1v1h-1zM47 63h1v1h-1zM58 63h1v1h-1zM43 64h1v1h-1zM48 64h1v1h-1zM36 66h1v1h-1zM41 66h1v1h-1zM48 66h1v1h-1zM54 66h1v1h-1zM40 67h1v1h-1zM57 67h1v1h-1zM40 68h1v1h-1zM50 69h2v1h-2zM37 71h1v1h-1zM44 72h1v1h-1zM48 72h1v1h-1zM55 73h1v1h-1zM32 77h1v1h-1z"/><path fill="#82aad2" d="M3 21h1v1h-1zM12 29h1v1h-1zM14 29h1v1h-1zM17 29h1v1h-1zM12 32h1v1h-1zM48 60h1v1h-1zM48 63h1v1h-1zM45 65h1v1h-1zM48 65h1v1h-1zM56 74h1v1h-1z"/><path fill="#5a96c8" d="M21 23h1v1h-1zM49 62h1v1h-1z"/><path fill="#78aad2" d="M23 23h1v1h-1zM13 28h1v1h-1zM21 28h1v1h-1zM16 32h1v1h-1zM14 33h1v1h-1zM10 34h1v1h-1zM14 34h1v1h-1zM21 35h1v1h-1zM14 36h1v1h-1zM17 39h1v1h-1zM19 40h1v1h-1zM18 41h1v1h-1zM24 41h1v1h-1zM36 53h1v1h-1zM54 54h1v1h-1zM42 56h1v1h-1zM46 56h1v1h-1zM49 56h1v1h-1zM37 58h1v1h-1zM36 59h1v1h-1zM38 60h1v1h-1zM45 61h1v1h-1zM41 63h1v1h-1zM43 63h2v1h-2zM49 64h1v1h-1zM43 67h1v1h-1z"/><path fill="#64a0d2" d="M18 26h1v1h-1zM13 30h1v1h-1zM18 37h1v1h-1zM10 39h1v1h-1zM24 39h1v1h-1zM11 40h1v1h-1zM12 41h1v1h-1zM20 41h1v1h-1zM23 41h1v1h-1zM38 53h1v1h-1zM36 54h1v1h-1zM36 57h1v1h-1zM40 59h1v1h-1zM51 59h1v1h-1zM47 64h1v1h-1zM36 65h1v1h-1zM37 66h1v1h-1zM38 67h1v1h-1z"/><path fill="#dc8282" d="M64 27h1v1h-1z"/><path fill="#6ea0d2" d="M28 28h1v1h-1zM28 40h1v1h-1zM37 49h1v1h-1zM49 49h1v1h-1z"/><path fill="#5096c8" d="M29 28h1v1h-1zM49 48h1v1h-1z"/><path fill="#d25a50" d="M42 30h1v1h-1zM53 31h1v1h-1z"/><path fill="#c8463c" d="M50 30h1v1h-1z"/><path fill="#6eaad2" d="M37 60h1v1h-1z"/></g><line x1="88.5" y1="363.5" x2="244.0" y2="208.0" stroke="#d8452f" stroke-width="1.0"/><rect x="88.6" y="301.8" width="63.0" height="60.0" fill="none" stroke="#000" stroke-width="1.5"/><rect x="151.6" y="241.4" width="55.8" height="60.0" fill="none" stroke="#000" stroke-width="1.5"/><text x="168.3" y="226.6" font-size="10.4" textLength="22.3" lengthAdjust="spacingAndGlyphs">Lipid</text><text x="151.7" y="240.0" font-size="10.4" textLength="55.0" lengthAdjust="spacingAndGlyphs">Metabolism</text><text x="90.6" y="273.0" font-size="10.4" textLength="55.5" lengthAdjust="spacingAndGlyphs">Energy and</text><text x="103.0" y="286.4" font-size="10.4" textLength="30.0" lengthAdjust="spacingAndGlyphs">Redox</text><text x="92.0" y="298.3" font-size="10.4" textLength="55.5" lengthAdjust="spacingAndGlyphs">Metabolism</text><rect x="270.2" y="325.2" width="19.4" height="32.2" fill="#fff" stroke="#e6e6e6" stroke-width="0.6"/><defs><linearGradient id="cbar" x1="0" y1="0" x2="0" y2="1"><stop offset="0" stop-color="#c0302a"/><stop offset="0.5" stop-color="#f6f6f6"/><stop offset="1" stop-color="#92c4e0"/></linearGradient></defs><rect x="273.0" y="330.3" width="7.0" height="26.3" fill="url(#cbar)"/><text x="270.0" y="335.1" font-size="10.2" text-anchor="end" fill="#2a2a2a">1.0</text><text x="270.0" y="348.1" font-size="10.2" text-anchor="end" fill="#2a2a2a">0</text><text x="270.0" y="361.7" font-size="10.2" text-anchor="end" fill="#2a2a2a">−0.9</text><path d="M371.8 200.8V493.5M408.4 200.8V493.5M445.0 200.8V493.5M344.4 448.4H469.5M344.4 381.9H469.5M344.4 315.4H469.5M344.4 248.9H469.5" stroke="#f3f3f3" stroke-width="0.6" fill="none"/><path d="M353.5 200.8V493.5M390.1 200.8V493.5M426.7 200.8V493.5M463.3 200.8V493.5M344.4 481.7H469.5M344.4 415.2H469.5M344.4 348.7H469.5M344.4 282.2H469.5M344.4 215.7H469.5" stroke="#e8e8e8" stroke-width="0.8" fill="none"/><defs><linearGradient id="gD" gradientUnits="userSpaceOnUse" x1="0" y1="213.0" x2="0" y2="481.7"><stop offset="0.0" stop-color="#fde725"/><stop offset="0.1" stop-color="#bddf26"/><stop offset="0.2" stop-color="#7ad151"/><stop offset="0.3" stop-color="#44bf70"/><stop offset="0.4" stop-color="#22a884"/><stop offset="0.5" stop-color="#21918c"/><stop offset="0.6" stop-color="#2a788e"/><stop offset="0.7" stop-color="#355f8d"/><stop offset="0.8" stop-color="#414487"/><stop offset="0.9" stop-color="#482475"/><stop offset="1.0" stop-color="#440154"/></linearGradient></defs><path d="M359.4 408.5C359.3 408.2 359.0 407.0 358.8 406.2C358.7 405.4 358.5 404.6 358.3 403.8C358.1 403.0 358.0 402.2 357.8 401.4C357.6 400.6 357.5 399.8 357.3 399.0C357.1 398.2 356.9 397.0 356.8 396.6" fill="none" stroke="url(#gD)" stroke-width="5.0" stroke-linecap="round" stroke-linejoin="round"/><path d="M360.6 413.9C360.7 414.4 361.1 415.8 361.3 416.8C361.6 417.8 361.8 418.8 362.1 419.8C362.3 420.8 362.6 421.7 362.8 422.7C363.1 423.7 363.3 424.7 363.6 425.7C363.9 426.6 364.2 427.6 364.4 428.6C364.7 429.6 365.0 430.6 365.3 431.6C365.6 432.5 365.8 433.5 366.1 434.5C366.4 435.5 366.7 436.5 367.0 437.5C367.3 438.4 367.7 439.4 368.0 440.4C368.3 441.4 368.6 442.4 369.0 443.4C369.3 444.3 369.6 445.3 370.0 446.3C370.3 447.3 370.7 448.3 371.1 449.3C371.4 450.2 371.8 451.2 372.2 452.2C372.6 453.2 373.0 454.2 373.4 455.2C373.8 456.1 374.2 457.1 374.7 458.1C375.1 459.1 375.5 460.1 376.0 461.1C376.5 462.0 376.9 463.0 377.4 464.0C377.9 465.0 378.5 466.0 379.0 467.0C379.5 467.9 380.1 468.9 380.7 469.9C381.3 470.9 381.9 471.9 382.6 472.9C383.3 473.8 383.9 474.8 384.7 475.8C385.5 476.8 386.3 477.8 387.1 478.8C388.0 479.7 389.0 481.9 390.1 481.7C391.2 481.5 392.8 479.0 394.0 477.7C395.1 476.3 396.1 475.0 397.0 473.7C398.0 472.3 398.8 471.0 399.6 469.6C400.4 468.3 401.2 466.9 401.9 465.6C402.6 464.3 403.3 462.9 403.9 461.6C404.6 460.2 405.2 458.9 405.7 457.6C406.3 456.2 406.9 454.9 407.4 453.5C408.0 452.2 408.5 450.8 409.0 449.5C409.5 448.2 410.0 446.8 410.4 445.5C410.9 444.1 411.4 442.8 411.8 441.5C412.3 440.1 412.7 438.8 413.1 437.4C413.5 436.1 413.9 434.7 414.3 433.4C414.7 432.1 415.1 430.7 415.5 429.4C415.9 428.0 416.2 426.7 416.6 425.4C417.0 424.0 417.3 422.7 417.7 421.3C418.0 420.0 418.3 418.6 418.7 417.3C419.0 416.0 419.3 414.6 419.6 413.3C420.0 411.9 420.3 410.6 420.6 409.3C420.9 407.9 421.2 406.6 421.5 405.2C421.8 403.9 422.1 402.5 422.3 401.2C422.6 399.9 422.9 398.5 423.2 397.2C423.5 395.8 423.7 394.5 424.0 393.2C424.3 391.8 424.6 389.8 424.8 389.1" fill="none" stroke="url(#gD)" stroke-width="5.0" stroke-linecap="round" stroke-linejoin="round"/><circle cx="445.2" cy="214.5" r="2.4" fill="#fbe723"/><circle cx="443.6" cy="235.5" r="2.4" fill="#c8e020"/><circle cx="432.1" cy="341.2" r="2.4" fill="#1f958b"/><circle cx="347.9" cy="345.0" r="2.4" fill="#20928c"/><circle cx="351.6" cy="366.5" r="2.4" fill="#277f8e"/><circle cx="351.9" cy="368.5" r="2.4" fill="#287d8e"/><circle cx="352.2" cy="370.5" r="2.4" fill="#297b8e"/><circle cx="353.1" cy="376.4" r="2.4" fill="#2a768e"/><circle cx="354.6" cy="384.8" r="2.4" fill="#2e6f8e"/><circle cx="355.9" cy="391.7" r="2.4" fill="#31688e"/><circle cx="426.0" cy="380.5" r="2.4" fill="#2c728e"/><circle cx="426.8" cy="377.0" r="2.4" fill="#2b758e"/><circle cx="427.3" cy="374.9" r="2.4" fill="#2a778e"/><circle cx="428.2" cy="367.4" r="2.4" fill="#277e8e"/><circle cx="428.6" cy="364.0" r="2.4" fill="#26828e"/><circle cx="429.2" cy="359.9" r="2.4" fill="#25858e"/><text x="337.6" y="221.7" font-size="9.8" text-anchor="middle" fill="#4d4d4d" textLength="17.7" lengthAdjust="spacingAndGlyphs">10.0</text><text x="337.6" y="288.2" font-size="9.8" text-anchor="middle" fill="#4d4d4d" textLength="12.7" lengthAdjust="spacingAndGlyphs">7.5</text><text x="337.6" y="354.7" font-size="9.8" text-anchor="middle" fill="#4d4d4d" textLength="12.7" lengthAdjust="spacingAndGlyphs">5.0</text><text x="337.6" y="421.2" font-size="9.8" text-anchor="middle" fill="#4d4d4d" textLength="12.7" lengthAdjust="spacingAndGlyphs">2.5</text><text x="337.6" y="487.7" font-size="9.8" text-anchor="middle" fill="#4d4d4d" textLength="12.7" lengthAdjust="spacingAndGlyphs">0.0</text><text x="356.1" y="506.2" font-size="9.8" text-anchor="middle" fill="#4d4d4d" textLength="15.7" lengthAdjust="spacingAndGlyphs">-0.5</text><text x="392.7" y="506.2" font-size="9.8" text-anchor="middle" fill="#4d4d4d" textLength="12.7" lengthAdjust="spacingAndGlyphs">0.0</text><text x="429.3" y="506.2" font-size="9.8" text-anchor="middle" fill="#4d4d4d" textLength="12.7" lengthAdjust="spacingAndGlyphs">0.5</text><text x="465.9" y="506.2" font-size="9.8" text-anchor="middle" fill="#4d4d4d" textLength="12.7" lengthAdjust="spacingAndGlyphs">1.0</text><text x="413.0" y="520.1" font-size="11.6" text-anchor="middle" textLength="72.4" lengthAdjust="spacingAndGlyphs">Spearman rho</text><text x="322.3" y="345.8" font-size="9.6" text-anchor="middle" textLength="62.0" lengthAdjust="spacingAndGlyphs" transform="rotate(-90 322.3 342.5)">-log10(p-value)</text><text x="431.0" y="434.8" font-size="11.0" textLength="45.2" lengthAdjust="spacingAndGlyphs">-log10(p)</text><defs><linearGradient id="bD" x1="0" y1="0" x2="0" y2="1"><stop offset="0.0" stop-color="#fde725"/><stop offset="0.1" stop-color="#bddf26"/><stop offset="0.2" stop-color="#7ad151"/><stop offset="0.3" stop-color="#44bf70"/><stop offset="0.4" stop-color="#22a884"/><stop offset="0.5" stop-color="#21918c"/><stop offset="0.6" stop-color="#2a788e"/><stop offset="0.7" stop-color="#355f8d"/><stop offset="0.8" stop-color="#414487"/><stop offset="0.9" stop-color="#482475"/><stop offset="1.0" stop-color="#440154"/></linearGradient></defs><rect x="434.0" y="440.2" width="11.0" height="53.3" fill="url(#bD)"/><text x="448.1" y="446.6" font-size="9.8" fill="#333" textLength="17.7" lengthAdjust="spacingAndGlyphs">10.0</text><text x="448.1" y="460.2" font-size="9.8" fill="#333" textLength="12.7" lengthAdjust="spacingAndGlyphs">7.5</text><text x="448.1" y="473.4" font-size="9.8" fill="#333" textLength="12.7" lengthAdjust="spacingAndGlyphs">5.0</text><text x="448.1" y="486.8" font-size="9.8" fill="#333" textLength="12.7" lengthAdjust="spacingAndGlyphs">2.5</text><path d="M434.0 440.6h2.2M442.8 440.6h2.2M434.0 454.2h2.2M442.8 454.2h2.2M434.0 467.4h2.2M442.8 467.4h2.2M434.0 480.8h2.2M442.8 480.8h2.2" stroke="#fff" stroke-width="0.6"/><text x="322.8" y="177.2" font-size="12.8" font-weight="bold" fill="#000">D</text><text x="373.3" y="176.4" font-size="12.8" font-weight="bold" fill="#000" textLength="76.4" lengthAdjust="spacingAndGlyphs">Correlates to</text><text x="362.0" y="191.3" font-size="12.8" font-weight="bold" fill="#000" textLength="98.0" lengthAdjust="spacingAndGlyphs">Creatinine (g/dL)</text><text x="376.8" y="216.7" font-size="9.4" textLength="66.8" lengthAdjust="spacingAndGlyphs">Creatinine (WB)</text><text x="369.1" y="238.2" font-size="9.4" textLength="71.9" lengthAdjust="spacingAndGlyphs">Creatinine (RBC)</text><text x="432.9" y="337.6" font-size="9.4" textLength="49.8" lengthAdjust="spacingAndGlyphs">Valine (WB)</text><text x="345.0" y="340.6" font-size="9.4" textLength="52.8" lengthAdjust="spacingAndGlyphs">Base Excess</text><text x="430.2" y="359.9" font-size="9.4" textLength="48.4" lengthAdjust="spacingAndGlyphs">acyl-C4-OH</text><text x="432.5" y="371.0" font-size="9.4" textLength="34.0" lengthAdjust="spacingAndGlyphs">(plasma)</text><text x="348.4" y="363.3" font-size="9.4" textLength="71.8" lengthAdjust="spacingAndGlyphs">Glutamate (RBC)</text><text x="355.7" y="372.0" font-size="9.4" textLength="41.8" lengthAdjust="spacingAndGlyphs">PEP (WB)</text><text x="355.7" y="380.6" font-size="9.4" textLength="59.5" lengthAdjust="spacingAndGlyphs">2,3-BPG (WB)</text><text x="359.0" y="389.7" font-size="9.4" textLength="60.5" lengthAdjust="spacingAndGlyphs">Phosphoserine</text><text x="359.0" y="400.7" font-size="9.4" textLength="25.1" lengthAdjust="spacingAndGlyphs">(RBC)</text><path d="M565.9 204.0V497.2M600.7 204.0V497.2M635.5 204.0V497.2M531.3 456.9H657.4M531.3 401.7H657.4M531.3 346.5H657.4M531.3 291.3H657.4M531.3 236.1H657.4" stroke="#f3f3f3" stroke-width="0.6" fill="none"/><path d="M548.5 204.0V497.2M583.3 204.0V497.2M618.1 204.0V497.2M652.9 204.0V497.2M531.3 484.5H657.4M531.3 429.3H657.4M531.3 374.1H657.4M531.3 318.9H657.4M531.3 263.7H657.4M531.3 208.5H657.4" stroke="#e8e8e8" stroke-width="0.8" fill="none"/><defs><linearGradient id="gE" gradientUnits="userSpaceOnUse" x1="0" y1="215.1" x2="0" y2="484.5"><stop offset="0.0" stop-color="#fde725"/><stop offset="0.1" stop-color="#bddf26"/><stop offset="0.2" stop-color="#7ad151"/><stop offset="0.3" stop-color="#44bf70"/><stop offset="0.4" stop-color="#22a884"/><stop offset="0.5" stop-color="#21918c"/><stop offset="0.6" stop-color="#2a788e"/><stop offset="0.7" stop-color="#355f8d"/><stop offset="0.8" stop-color="#414487"/><stop offset="0.9" stop-color="#482475"/><stop offset="1.0" stop-color="#440154"/></linearGradient></defs><path d="M540.9 349.1C541.0 349.9 541.3 352.3 541.5 353.8C541.8 355.4 542.0 356.9 542.2 358.5C542.4 360.0 542.7 361.6 542.9 363.2C543.1 364.7 543.4 366.3 543.6 367.8C543.9 369.4 544.1 370.9 544.4 372.5C544.6 374.0 544.9 375.6 545.1 377.2C545.4 378.7 545.6 380.3 545.9 381.8C546.2 383.4 546.5 384.9 546.7 386.5C547.0 388.0 547.3 389.6 547.6 391.2C547.9 392.7 548.2 394.3 548.5 395.8C548.8 397.4 549.1 398.9 549.4 400.5C549.7 402.0 550.1 403.6 550.4 405.2C550.7 406.7 551.0 408.3 551.4 409.8C551.7 411.4 552.1 412.9 552.4 414.5C552.8 416.0 553.2 417.6 553.6 419.2C553.9 420.7 554.3 422.3 554.7 423.8C555.1 425.4 555.5 426.9 555.9 428.5C556.4 430.0 556.8 431.6 557.2 433.2C557.7 434.7 558.1 436.3 558.6 437.8C559.1 439.4 559.6 440.9 560.1 442.5C560.6 444.1 561.1 445.6 561.6 447.2C562.2 448.7 562.7 450.3 563.3 451.8C563.9 453.4 564.5 454.9 565.2 456.5C565.8 458.1 566.5 459.6 567.2 461.2C567.9 462.7 568.6 464.3 569.4 465.8C570.2 467.4 571.0 468.9 571.9 470.5C572.8 472.1 573.8 473.6 574.9 475.2C576.0 476.7 577.1 478.3 578.5 479.8C579.9 481.4 581.7 484.5 583.3 484.5C584.9 484.5 586.7 481.2 588.1 479.6C589.5 478.0 590.6 476.3 591.7 474.7C592.8 473.1 593.7 471.4 594.6 469.8C595.5 468.2 596.4 466.5 597.1 464.9C597.9 463.3 598.7 461.6 599.4 460.0C600.0 458.3 600.7 456.7 601.3 455.1C602.0 453.4 602.6 451.8 603.1 450.2C603.7 448.5 604.3 446.9 604.8 445.3C605.3 443.6 605.9 442.0 606.4 440.4C606.9 438.7 607.3 437.1 607.8 435.5C608.3 433.8 608.7 432.2 609.2 430.6C609.6 428.9 610.0 427.3 610.4 425.7C610.9 424.0 611.3 422.4 611.7 420.8C612.0 419.1 612.4 417.5 612.8 415.9C613.2 414.2 613.5 412.6 613.9 411.0C614.3 409.3 614.6 407.7 614.9 406.0C615.3 404.4 615.6 402.8 615.9 401.1C616.3 399.5 616.6 397.9 616.9 396.2C617.2 394.6 617.5 393.0 617.8 391.3C618.1 389.7 618.4 388.1 618.7 386.4C619.0 384.8 619.3 383.2 619.5 381.5C619.8 379.9 620.1 378.3 620.4 376.6C620.6 375.0 620.9 373.4 621.1 371.7C621.4 370.1 621.7 368.5 621.9 366.8C622.2 365.2 622.4 363.6 622.6 361.9C622.9 360.3 623.1 358.6 623.3 357.0C623.6 355.4 623.8 353.7 624.0 352.1C624.3 350.5 624.5 348.8 624.7 347.2C624.9 345.6 625.2 343.1 625.3 342.3" fill="none" stroke="url(#gE)" stroke-width="5.0" stroke-linecap="round" stroke-linejoin="round"/><circle cx="539.7" cy="339.9" r="2.4" fill="#1f998a"/><circle cx="538.4" cy="330.6" r="2.4" fill="#1fa187"/><circle cx="537.4" cy="322.5" r="2.4" fill="#22a884"/><circle cx="537.0" cy="314.4" r="2.4" fill="#29af7f"/><circle cx="536.5" cy="310.4" r="2.4" fill="#2eb37c"/><circle cx="540.0" cy="341.0" r="2.4" fill="#1f988b"/><circle cx="627.0" cy="333.0" r="2.4" fill="#1f9f88"/><circle cx="628.0" cy="326.0" r="2.4" fill="#21a585"/><circle cx="631.0" cy="301.1" r="2.4" fill="#3bbb75"/><circle cx="632.2" cy="285.9" r="2.4" fill="#56c667"/><circle cx="633.6" cy="274.5" r="2.4" fill="#6ece58"/><circle cx="634.6" cy="262.8" r="2.4" fill="#89d548"/><circle cx="636.2" cy="241.8" r="2.4" fill="#bddf26"/><circle cx="636.7" cy="227.8" r="2.4" fill="#dfe318"/><circle cx="637.3" cy="222.8" r="2.4" fill="#ece51b"/><circle cx="637.6" cy="216.8" r="2.4" fill="#fbe723"/><text x="525.4" y="214.5" font-size="9.8" text-anchor="middle" fill="#4d4d4d" textLength="17.7" lengthAdjust="spacingAndGlyphs">12.5</text><text x="525.4" y="269.7" font-size="9.8" text-anchor="middle" fill="#4d4d4d" textLength="17.7" lengthAdjust="spacingAndGlyphs">10.0</text><text x="525.4" y="324.9" font-size="9.8" text-anchor="middle" fill="#4d4d4d" textLength="12.7" lengthAdjust="spacingAndGlyphs">7.5</text><text x="525.4" y="380.1" font-size="9.8" text-anchor="middle" fill="#4d4d4d" textLength="12.7" lengthAdjust="spacingAndGlyphs">5.0</text><text x="525.4" y="435.3" font-size="9.8" text-anchor="middle" fill="#4d4d4d" textLength="12.7" lengthAdjust="spacingAndGlyphs">2.5</text><text x="525.4" y="490.5" font-size="9.8" text-anchor="middle" fill="#4d4d4d" textLength="12.7" lengthAdjust="spacingAndGlyphs">0.0</text><text x="551.1" y="508.5" font-size="9.8" text-anchor="middle" fill="#4d4d4d" textLength="15.7" lengthAdjust="spacingAndGlyphs">-0.5</text><text x="585.9" y="508.5" font-size="9.8" text-anchor="middle" fill="#4d4d4d" textLength="12.7" lengthAdjust="spacingAndGlyphs">0.0</text><text x="620.7" y="508.5" font-size="9.8" text-anchor="middle" fill="#4d4d4d" textLength="12.7" lengthAdjust="spacingAndGlyphs">0.5</text><text x="655.5" y="508.5" font-size="9.8" text-anchor="middle" fill="#4d4d4d" textLength="12.7" lengthAdjust="spacingAndGlyphs">1.0</text><text x="600.6" y="520.9" font-size="11.6" text-anchor="middle" textLength="72.4" lengthAdjust="spacingAndGlyphs">Spearman rho</text><text x="509.6" y="344.9" font-size="9.6" text-anchor="middle" textLength="62.0" lengthAdjust="spacingAndGlyphs" transform="rotate(-90 509.6 341.6)">-log10(p-value)</text><text x="622.7" y="437.4" font-size="11.0" textLength="45.2" lengthAdjust="spacingAndGlyphs">-log10(p)</text><defs><linearGradient id="bE" x1="0" y1="0" x2="0" y2="1"><stop offset="0.0" stop-color="#fde725"/><stop offset="0.1" stop-color="#bddf26"/><stop offset="0.2" stop-color="#7ad151"/><stop offset="0.3" stop-color="#44bf70"/><stop offset="0.4" stop-color="#22a884"/><stop offset="0.5" stop-color="#21918c"/><stop offset="0.6" stop-color="#2a788e"/><stop offset="0.7" stop-color="#355f8d"/><stop offset="0.8" stop-color="#414487"/><stop offset="0.9" stop-color="#482475"/><stop offset="1.0" stop-color="#440154"/></linearGradient></defs><rect x="627.2" y="442.0" width="11.3" height="54.7" fill="url(#bE)"/><text x="642.8" y="449.4" font-size="9.8" fill="#333" textLength="10.1" lengthAdjust="spacingAndGlyphs">12</text><text x="642.8" y="462.4" font-size="9.8" fill="#333" textLength="5.1" lengthAdjust="spacingAndGlyphs">9</text><text x="642.8" y="475.9" font-size="9.8" fill="#333" textLength="5.1" lengthAdjust="spacingAndGlyphs">6</text><text x="642.8" y="489.4" font-size="9.8" fill="#333" textLength="5.1" lengthAdjust="spacingAndGlyphs">3</text><path d="M627.2 443.4h2.2M636.3 443.4h2.2M627.2 456.4h2.2M636.3 456.4h2.2M627.2 469.9h2.2M636.3 469.9h2.2M627.2 483.4h2.2M636.3 483.4h2.2" stroke="#fff" stroke-width="0.6"/><text x="506.8" y="177.4" font-size="12.8" font-weight="bold" fill="#000">E</text><text x="550.0" y="176.4" font-size="12.8" font-weight="bold" fill="#000" textLength="76.2" lengthAdjust="spacingAndGlyphs">Correlates to</text><text x="540.5" y="191.4" font-size="12.8" font-weight="bold" fill="#000" textLength="98.1" lengthAdjust="spacingAndGlyphs">Glucose (mg/dL)</text><text x="564.1" y="216.0" font-size="9.4" textLength="72.8" lengthAdjust="spacingAndGlyphs">D-Glucose (RBC)</text><text x="576.1" y="224.6" font-size="9.4" textLength="58.9" lengthAdjust="spacingAndGlyphs">Glucose (WB)</text><text x="576.1" y="233.7" font-size="9.4" textLength="57.9" lengthAdjust="spacingAndGlyphs">Ribose (RBC)</text><text x="550.0" y="246.3" font-size="9.4" textLength="81.9" lengthAdjust="spacingAndGlyphs">D-Glucose (plasma)</text><text x="563.4" y="265.7" font-size="9.4" textLength="66.8" lengthAdjust="spacingAndGlyphs">Ribose (plasma)</text><text x="536.0" y="304.4" font-size="9.4" textLength="59.2" lengthAdjust="spacingAndGlyphs">Glycine (RBC)</text><text x="541.7" y="314.5" font-size="9.4" textLength="36.8" lengthAdjust="spacingAndGlyphs">MPV (fL)</text><text x="541.7" y="325.2" font-size="9.4" textLength="35.3" lengthAdjust="spacingAndGlyphs">MCV (fL)</text><text x="541.7" y="333.2" font-size="9.4" textLength="55.1" lengthAdjust="spacingAndGlyphs">Glycine (WB)</text><text x="545.0" y="344.2" font-size="9.4" textLength="55.2" lengthAdjust="spacingAndGlyphs">FA 7:0 (RBC)</text><path d="M357.7 569.2V853.5M391.3 569.2V853.5M424.9 569.2V853.5M458.5 569.2V853.5M351.2 805.6H482.0M351.2 734.1H482.0M351.2 662.6H482.0M351.2 591.1H482.0" stroke="#f3f3f3" stroke-width="0.6" fill="none"/><path d="M374.5 569.2V853.5M408.1 569.2V853.5M441.7 569.2V853.5M475.3 569.2V853.5M351.2 841.4H482.0M351.2 769.9H482.0M351.2 698.4H482.0M351.2 626.9H482.0" stroke="#e8e8e8" stroke-width="0.8" fill="none"/><defs><linearGradient id="gF" gradientUnits="userSpaceOnUse" x1="0" y1="581.1" x2="0" y2="841.4"><stop offset="0.0" stop-color="#fde725"/><stop offset="0.1" stop-color="#bddf26"/><stop offset="0.2" stop-color="#7ad151"/><stop offset="0.3" stop-color="#44bf70"/><stop offset="0.4" stop-color="#22a884"/><stop offset="0.5" stop-color="#21918c"/><stop offset="0.6" stop-color="#2a788e"/><stop offset="0.7" stop-color="#355f8d"/><stop offset="0.8" stop-color="#414487"/><stop offset="0.9" stop-color="#482475"/><stop offset="1.0" stop-color="#440154"/></linearGradient></defs><path d="M365.7 747.7C365.6 747.4 365.4 746.6 365.3 746.0C365.2 745.4 365.1 744.9 365.0 744.3C364.9 743.7 364.8 743.2 364.7 742.6C364.6 742.0 364.5 741.4 364.4 740.9C364.3 740.3 364.1 739.4 364.1 739.2" fill="none" stroke="url(#gF)" stroke-width="5.0" stroke-linecap="round" stroke-linejoin="round"/><path d="M366.6 752.7C366.8 753.2 367.1 754.8 367.3 755.8C367.5 756.8 367.7 757.8 367.9 758.9C368.1 759.9 368.4 760.9 368.6 761.9C368.8 762.9 369.1 763.9 369.3 765.0C369.5 766.0 369.8 767.0 370.0 768.0C370.2 769.0 370.5 770.1 370.7 771.1C371.0 772.1 371.3 773.1 371.5 774.1C371.8 775.2 372.0 776.2 372.3 777.2C372.6 778.2 372.9 779.2 373.2 780.3C373.4 781.3 373.7 782.3 374.0 783.3C374.3 784.3 374.6 785.4 374.9 786.4C375.2 787.4 375.5 788.4 375.9 789.4C376.2 790.4 376.5 791.5 376.8 792.5C377.2 793.5 377.5 794.5 377.9 795.5C378.2 796.6 378.6 797.6 379.0 798.6C379.3 799.6 379.7 800.6 380.1 801.7C380.5 802.7 380.9 803.7 381.3 804.7C381.7 805.7 382.1 806.8 382.5 807.8C383.0 808.8 383.4 809.8 383.9 810.8C384.4 811.8 384.8 812.9 385.3 813.9C385.8 814.9 386.3 815.9 386.9 816.9C387.4 818.0 387.9 819.0 388.5 820.0C389.1 821.0 389.7 822.0 390.3 823.1C390.9 824.1 391.6 825.1 392.3 826.1C393.0 827.1 393.7 828.2 394.5 829.2C395.2 830.2 396.0 831.2 396.9 832.2C397.8 833.2 398.8 834.3 399.8 835.3C400.9 836.3 402.0 837.3 403.4 838.3C404.7 839.4 406.5 841.4 408.1 841.4C409.7 841.4 411.4 839.3 412.8 838.2C414.2 837.2 415.3 836.1 416.3 835.1C417.4 834.0 418.3 833.0 419.2 831.9C420.0 830.8 420.8 829.8 421.6 828.7C422.4 827.7 423.1 826.6 423.8 825.6C424.5 824.5 425.1 823.5 425.7 822.4C426.3 821.4 426.9 820.3 427.5 819.2C428.0 818.2 428.6 817.1 429.1 816.1C429.6 815.0 430.1 814.0 430.6 812.9C431.1 811.9 431.6 810.8 432.0 809.7C432.5 808.7 432.9 807.6 433.3 806.6C433.8 805.5 434.2 804.5 434.6 803.4C435.0 802.4 435.4 801.3 435.8 800.2C436.1 799.2 436.5 798.1 436.9 797.1C437.2 796.0 437.6 795.0 437.9 793.9C438.3 792.9 438.6 791.8 439.0 790.7C439.3 789.7 439.6 788.6 439.9 787.6C440.3 786.5 440.6 785.5 440.9 784.4C441.2 783.4 441.5 782.3 441.8 781.3C442.0 780.2 442.3 779.1 442.6 778.1C442.9 777.0 443.2 776.0 443.4 774.9C443.7 773.9 444.0 772.8 444.2 771.8C444.5 770.7 444.7 769.6 445.0 768.6C445.2 767.5 445.5 766.5 445.7 765.4C446.0 764.4 446.2 763.3 446.4 762.3C446.7 761.2 446.9 760.1 447.1 759.1C447.4 758.0 447.6 757.0 447.8 755.9C448.0 754.9 448.2 753.8 448.4 752.8C448.7 751.7 449.0 750.1 449.1 749.6" fill="none" stroke="url(#gF)" stroke-width="5.0" stroke-linecap="round" stroke-linejoin="round"/><path d="M450.3 742.7C450.5 741.9 450.9 739.6 451.2 738.0C451.5 736.5 451.7 734.9 452.0 733.4C452.2 731.8 452.5 730.2 452.7 728.7C453.0 727.1 453.2 725.5 453.5 724.0C453.7 722.4 453.9 720.9 454.2 719.3C454.4 717.7 454.6 716.2 454.8 714.6C455.1 713.0 455.3 711.5 455.5 709.9C455.7 708.4 455.9 706.8 456.1 705.2C456.3 703.7 456.6 701.3 456.7 700.5" fill="none" stroke="url(#gF)" stroke-width="5.0" stroke-linecap="round" stroke-linejoin="round"/><circle cx="362.2" cy="730.7" r="2.4" fill="#277e8e"/><circle cx="361.1" cy="723.4" r="2.4" fill="#25858e"/><circle cx="360.1" cy="714.8" r="2.4" fill="#228d8d"/><circle cx="358.3" cy="703.3" r="2.4" fill="#1f978b"/><circle cx="356.8" cy="688.3" r="2.4" fill="#21a585"/><circle cx="461.6" cy="659.2" r="2.4" fill="#44bf70"/><circle cx="463.6" cy="636.4" r="2.4" fill="#73d056"/><circle cx="464.0" cy="626.0" r="2.4" fill="#8bd646"/><circle cx="466.0" cy="598.0" r="2.4" fill="#d5e21a"/><circle cx="467.2" cy="582.0" r="2.4" fill="#fde725"/><text x="347.2" y="632.9" font-size="9.8" text-anchor="middle" fill="#4d4d4d" textLength="10.1" lengthAdjust="spacingAndGlyphs">15</text><text x="347.2" y="704.4" font-size="9.8" text-anchor="middle" fill="#4d4d4d" textLength="10.1" lengthAdjust="spacingAndGlyphs">10</text><text x="347.2" y="775.9" font-size="9.8" text-anchor="middle" fill="#4d4d4d" textLength="5.1" lengthAdjust="spacingAndGlyphs">5</text><text x="347.2" y="847.4" font-size="9.8" text-anchor="middle" fill="#4d4d4d" textLength="5.1" lengthAdjust="spacingAndGlyphs">0</text><text x="377.1" y="865.5" font-size="9.8" text-anchor="middle" fill="#4d4d4d" textLength="15.7" lengthAdjust="spacingAndGlyphs">-0.5</text><text x="410.7" y="865.5" font-size="9.8" text-anchor="middle" fill="#4d4d4d" textLength="12.7" lengthAdjust="spacingAndGlyphs">0.0</text><text x="444.3" y="865.5" font-size="9.8" text-anchor="middle" fill="#4d4d4d" textLength="12.7" lengthAdjust="spacingAndGlyphs">0.5</text><text x="477.9" y="865.5" font-size="9.8" text-anchor="middle" fill="#4d4d4d" textLength="12.7" lengthAdjust="spacingAndGlyphs">1.0</text><text x="428.1" y="878.0" font-size="11.6" text-anchor="middle" textLength="72.4" lengthAdjust="spacingAndGlyphs">Spearman rho</text><text x="335.0" y="716.5" font-size="9.6" text-anchor="middle" textLength="62.0" lengthAdjust="spacingAndGlyphs" transform="rotate(-90 335.0 713.2)">-log10(p-value)</text><text x="445.0" y="795.6" font-size="11.0" textLength="45.2" lengthAdjust="spacingAndGlyphs">-log10(p)</text><defs><linearGradient id="bF" x1="0" y1="0" x2="0" y2="1"><stop offset="0.0" stop-color="#fde725"/><stop offset="0.1" stop-color="#bddf26"/><stop offset="0.2" stop-color="#7ad151"/><stop offset="0.3" stop-color="#44bf70"/><stop offset="0.4" stop-color="#22a884"/><stop offset="0.5" stop-color="#21918c"/><stop offset="0.6" stop-color="#2a788e"/><stop offset="0.7" stop-color="#355f8d"/><stop offset="0.8" stop-color="#414487"/><stop offset="0.9" stop-color="#482475"/><stop offset="1.0" stop-color="#440154"/></linearGradient></defs><rect x="447.3" y="798.6" width="10.6" height="52.1" fill="url(#bF)"/><text x="462.8" y="814.1" font-size="9.8" fill="#333" textLength="10.1" lengthAdjust="spacingAndGlyphs">15</text><text x="462.8" y="828.8" font-size="9.8" fill="#333" textLength="10.1" lengthAdjust="spacingAndGlyphs">10</text><text x="462.8" y="842.8" font-size="9.8" fill="#333" textLength="5.1" lengthAdjust="spacingAndGlyphs">5</text><path d="M447.3 808.1h2.2M455.7 808.1h2.2M447.3 822.8h2.2M455.7 822.8h2.2M447.3 836.8h2.2M455.7 836.8h2.2" stroke="#fff" stroke-width="0.6"/><text x="327.0" y="561.4" font-size="12.8" font-weight="bold" fill="#000">F</text><text x="339.9" y="561.4" font-size="12.8" font-weight="bold" fill="#000" textLength="142.5" lengthAdjust="spacingAndGlyphs">Correlates to Ketonemia</text><text x="396.0" y="586.4" font-size="9.4" textLength="68.0" lengthAdjust="spacingAndGlyphs">AC (4-OH) (WB)</text><text x="346.0" y="602.0" font-size="9.4" textLength="116.0" lengthAdjust="spacingAndGlyphs">Sedoheptulose 7-phosphate</text><text x="430.8" y="613.2" font-size="9.4" textLength="34.4" lengthAdjust="spacingAndGlyphs">(plasma)</text><text x="388.0" y="630.0" font-size="9.4" textLength="72.4" lengthAdjust="spacingAndGlyphs">AC (2:0) (plasma)</text><text x="378.0" y="640.0" font-size="9.4" textLength="82.4" lengthAdjust="spacingAndGlyphs">AC (4-OH) (plasma)</text><text x="388.8" y="657.2" font-size="9.4" textLength="69.2" lengthAdjust="spacingAndGlyphs">FA 18:0 (plasma)</text><text x="360.0" y="686.4" font-size="9.4" textLength="54.8" lengthAdjust="spacingAndGlyphs">Alanine (WB)</text><text x="361.2" y="702.0" font-size="9.4" textLength="58.8" lengthAdjust="spacingAndGlyphs">Glycine (RBC)</text><text x="363.2" y="716.0" font-size="9.4" textLength="54.8" lengthAdjust="spacingAndGlyphs">Glycine (WB)</text><text x="364.8" y="725.2" font-size="9.4" textLength="36.4" lengthAdjust="spacingAndGlyphs">MPV (fL)</text><text x="366.0" y="733.2" font-size="9.4" textLength="84.0" lengthAdjust="spacingAndGlyphs">L-Carnitine (plasma)</text><path d="M534.8 570.5V854.6M570.6 570.5V854.6M606.6 570.5V854.6M642.5 570.5V854.6M534.7 809.6H665.8M534.7 743.5H665.8M534.7 677.4H665.8M534.7 611.2H665.8" stroke="#f3f3f3" stroke-width="0.6" fill="none"/><path d="M552.7 570.5V854.6M588.6 570.5V854.6M624.5 570.5V854.6M660.4 570.5V854.6M534.7 842.6H665.8M534.7 776.5H665.8M534.7 710.4H665.8M534.7 644.3H665.8M534.7 578.2H665.8" stroke="#e8e8e8" stroke-width="0.8" fill="none"/><defs><linearGradient id="gG" gradientUnits="userSpaceOnUse" x1="0" y1="581.5" x2="0" y2="842.6"><stop offset="0.0" stop-color="#fde725"/><stop offset="0.1" stop-color="#bddf26"/><stop offset="0.2" stop-color="#7ad151"/><stop offset="0.3" stop-color="#44bf70"/><stop offset="0.4" stop-color="#22a884"/><stop offset="0.5" stop-color="#21918c"/><stop offset="0.6" stop-color="#2a788e"/><stop offset="0.7" stop-color="#355f8d"/><stop offset="0.8" stop-color="#414487"/><stop offset="0.9" stop-color="#482475"/><stop offset="1.0" stop-color="#440154"/></linearGradient></defs><path d="M563.2 776.5C562.9 775.2 562.1 771.4 561.5 768.8C561.0 766.2 560.5 763.7 560.0 761.1C559.5 758.6 559.0 756.0 558.6 753.4C558.1 750.9 557.6 748.3 557.2 745.7C556.8 743.2 556.3 740.6 555.9 738.1C555.5 735.5 555.1 732.9 554.7 730.4C554.3 727.8 553.9 725.2 553.5 722.7C553.1 720.1 552.8 717.5 552.4 715.0C552.1 712.4 551.7 709.9 551.4 707.3C551.0 704.7 550.7 702.2 550.4 699.6C550.0 697.0 549.7 694.5 549.4 691.9C549.1 689.4 548.8 686.8 548.5 684.2C548.2 681.7 547.9 679.1 547.6 676.5C547.3 674.0 547.0 671.4 546.7 668.8C546.4 666.3 546.0 662.4 545.9 661.2" fill="none" stroke="url(#gG)" stroke-width="5.0" stroke-linecap="round" stroke-linejoin="round"/><path d="M564.7 783.1C564.8 783.6 565.2 785.2 565.5 786.2C565.7 787.3 566.0 788.3 566.2 789.4C566.5 790.4 566.8 791.5 567.1 792.5C567.3 793.5 567.6 794.6 567.9 795.6C568.2 796.7 568.5 797.7 568.8 798.8C569.1 799.8 569.4 800.9 569.7 801.9C570.0 802.9 570.3 804.0 570.6 805.0C570.9 806.1 571.3 807.1 571.6 808.2C571.9 809.2 572.3 810.2 572.6 811.3C573.0 812.3 573.4 813.4 573.7 814.4C574.1 815.5 574.5 816.5 574.9 817.6C575.3 818.6 575.7 819.6 576.1 820.7C576.5 821.7 577.0 822.8 577.4 823.8C577.9 824.9 578.3 825.9 578.8 826.9C579.3 828.0 579.8 829.0 580.4 830.1C580.9 831.1 581.5 832.2 582.1 833.2C582.6 834.3 583.3 835.3 583.9 836.3C584.6 837.4 585.3 838.4 586.1 839.5C586.8 840.5 587.6 842.8 588.6 842.6C589.5 842.4 590.8 839.8 591.8 838.3C592.7 836.9 593.5 835.5 594.3 834.1C595.1 832.6 595.8 831.2 596.5 829.8C597.2 828.4 597.8 827.0 598.4 825.5C599.0 824.1 599.6 822.7 600.2 821.3C600.7 819.8 601.2 818.4 601.8 817.0C602.3 815.6 602.7 814.1 603.2 812.7C603.7 811.3 604.1 809.9 604.6 808.5C605.0 807.0 605.4 805.6 605.8 804.2C606.3 802.8 606.7 801.3 607.0 799.9C607.4 798.5 607.8 797.1 608.2 795.7C608.6 794.2 608.9 792.8 609.3 791.4C609.6 790.0 610.0 788.5 610.3 787.1C610.6 785.7 611.0 784.3 611.3 782.9C611.6 781.4 611.9 780.0 612.2 778.6C612.5 777.2 612.8 775.7 613.1 774.3C613.4 772.9 613.7 771.5 614.0 770.0C614.3 768.6 614.6 767.2 614.8 765.8C615.1 764.4 615.4 762.9 615.6 761.5C615.9 760.1 616.2 758.7 616.4 757.2C616.7 755.8 616.9 754.4 617.2 753.0C617.4 751.6 617.7 750.1 617.9 748.7C618.1 747.3 618.5 745.2 618.6 744.4" fill="none" stroke="url(#gG)" stroke-width="5.0" stroke-linecap="round" stroke-linejoin="round"/><circle cx="539.2" cy="583.8" r="2.4" fill="#f8e621"/><circle cx="539.2" cy="586.6" r="2.4" fill="#f4e61e"/><circle cx="542.7" cy="621.8" r="2.4" fill="#98d83e"/><circle cx="542.9" cy="628.2" r="2.4" fill="#89d548"/><circle cx="543.8" cy="637.1" r="2.4" fill="#73d056"/><circle cx="544.0" cy="641.2" r="2.4" fill="#69cd5b"/><circle cx="620.1" cy="738.3" r="2.4" fill="#2a788e"/><circle cx="621.6" cy="730.9" r="2.4" fill="#277f8e"/><circle cx="622.9" cy="719.7" r="2.4" fill="#23898e"/><circle cx="623.4" cy="717.2" r="2.4" fill="#228b8d"/><circle cx="625.1" cy="707.2" r="2.4" fill="#1f948c"/><circle cx="625.8" cy="699.7" r="2.4" fill="#1e9c89"/><circle cx="626.6" cy="689.8" r="2.4" fill="#20a486"/><circle cx="627.1" cy="688.5" r="2.4" fill="#21a685"/><circle cx="627.8" cy="682.8" r="2.4" fill="#25ab82"/><circle cx="630.3" cy="659.9" r="2.4" fill="#44bf70"/><text x="524.8" y="584.2" font-size="9.8" text-anchor="middle" fill="#4d4d4d" textLength="5.1" lengthAdjust="spacingAndGlyphs">8</text><text x="524.8" y="650.3" font-size="9.8" text-anchor="middle" fill="#4d4d4d" textLength="5.1" lengthAdjust="spacingAndGlyphs">6</text><text x="524.8" y="716.4" font-size="9.8" text-anchor="middle" fill="#4d4d4d" textLength="5.1" lengthAdjust="spacingAndGlyphs">4</text><text x="524.8" y="782.5" font-size="9.8" text-anchor="middle" fill="#4d4d4d" textLength="5.1" lengthAdjust="spacingAndGlyphs">2</text><text x="524.8" y="848.6" font-size="9.8" text-anchor="middle" fill="#4d4d4d" textLength="5.1" lengthAdjust="spacingAndGlyphs">0</text><text x="555.3" y="867.2" font-size="9.8" text-anchor="middle" fill="#4d4d4d" textLength="15.7" lengthAdjust="spacingAndGlyphs">-0.5</text><text x="591.2" y="867.2" font-size="9.8" text-anchor="middle" fill="#4d4d4d" textLength="12.7" lengthAdjust="spacingAndGlyphs">0.0</text><text x="627.1" y="867.2" font-size="9.8" text-anchor="middle" fill="#4d4d4d" textLength="12.7" lengthAdjust="spacingAndGlyphs">0.5</text><text x="663.0" y="867.2" font-size="9.8" text-anchor="middle" fill="#4d4d4d" textLength="12.7" lengthAdjust="spacingAndGlyphs">1.0</text><text x="610.3" y="878.8" font-size="11.6" text-anchor="middle" textLength="72.4" lengthAdjust="spacingAndGlyphs">Spearman rho</text><text x="512.2" y="716.5" font-size="9.6" text-anchor="middle" textLength="62.0" lengthAdjust="spacingAndGlyphs" transform="rotate(-90 512.2 713.2)">-log10(p-value)</text><text x="628.5" y="796.6" font-size="11.0" textLength="45.2" lengthAdjust="spacingAndGlyphs">-log10(p)</text><defs><linearGradient id="bG" x1="0" y1="0" x2="0" y2="1"><stop offset="0.0" stop-color="#fde725"/><stop offset="0.1" stop-color="#bddf26"/><stop offset="0.2" stop-color="#7ad151"/><stop offset="0.3" stop-color="#44bf70"/><stop offset="0.4" stop-color="#22a884"/><stop offset="0.5" stop-color="#21918c"/><stop offset="0.6" stop-color="#2a788e"/><stop offset="0.7" stop-color="#355f8d"/><stop offset="0.8" stop-color="#414487"/><stop offset="0.9" stop-color="#482475"/><stop offset="1.0" stop-color="#440154"/></linearGradient></defs><rect x="631.9" y="800.2" width="10.3" height="52.3" fill="url(#bG)"/><text x="647.7" y="819.1" font-size="9.8" fill="#333" textLength="5.1" lengthAdjust="spacingAndGlyphs">6</text><text x="647.7" y="832.5" font-size="9.8" fill="#333" textLength="5.1" lengthAdjust="spacingAndGlyphs">4</text><text x="647.7" y="845.6" font-size="9.8" fill="#333" textLength="5.1" lengthAdjust="spacingAndGlyphs">2</text><path d="M631.9 813.1h2.2M640.0 813.1h2.2M631.9 826.5h2.2M640.0 826.5h2.2M631.9 839.6h2.2M640.0 839.6h2.2" stroke="#fff" stroke-width="0.6"/><text x="501.9" y="561.6" font-size="12.8" font-weight="bold" fill="#000">G</text><text x="519.4" y="561.6" font-size="12.8" font-weight="bold" fill="#000" textLength="157.3" lengthAdjust="spacingAndGlyphs">Correlates to Base Excess</text><text x="542.2" y="581.2" font-size="9.4" textLength="81.6" lengthAdjust="spacingAndGlyphs">AC (3-OH) (plasma)</text><text x="544.2" y="590.0" font-size="9.4" textLength="66.0" lengthAdjust="spacingAndGlyphs">AC (4-OH)(WB)</text><text x="547.0" y="622.8" font-size="9.4" textLength="72.8" lengthAdjust="spacingAndGlyphs">AC (5:1) (plasma)</text><text x="547.0" y="629.6" font-size="9.4" textLength="62.8" lengthAdjust="spacingAndGlyphs">AC(5:1) (WB)</text><text x="547.0" y="640.4" font-size="9.4" textLength="62.0" lengthAdjust="spacingAndGlyphs">Sedoheptulose</text><text x="547.0" y="652.0" font-size="9.4" textLength="90.8" lengthAdjust="spacingAndGlyphs">7-phosphate (plasma)</text><text x="635.0" y="663.2" font-size="9.4" textLength="18.8" lengthAdjust="spacingAndGlyphs">TRP</text><text x="631.8" y="680.4" font-size="9.4" textLength="51.2" lengthAdjust="spacingAndGlyphs">PGLY (RBC)</text><text x="633.0" y="690.0" font-size="9.4" textLength="46.8" lengthAdjust="spacingAndGlyphs">FBP (RBC)</text><text x="631.0" y="697.2" font-size="9.4" textLength="48.0" lengthAdjust="spacingAndGlyphs">PEP (RBC)</text><text x="628.2" y="706.4" font-size="9.4" textLength="35.6" lengthAdjust="spacingAndGlyphs">2,3-BPG</text><text x="637.0" y="718.0" font-size="9.4" textLength="25.2" lengthAdjust="spacingAndGlyphs">(RBC)</text><text x="5.3" y="372.0" font-size="12.8" font-weight="bold" fill="#000">H</text><text x="21.6" y="372.0" font-size="12.8" font-weight="bold" fill="#e8a13a" textLength="43.2" lengthAdjust="spacingAndGlyphs">Plasma</text><rect x="20" y="374" width="147.7" height="8.6" fill="#f8f5ef"/><rect x="167.7" y="373.8" width="123.3" height="8.6" fill="#4b1170"/><text x="90.0" y="381.3" font-size="9.8" font-weight="bold" fill="#3a3a3a" textLength="24.2" lengthAdjust="spacingAndGlyphs">0 day</text><text x="221.9" y="381.3" font-size="9.8" font-weight="bold" fill="#fff" textLength="28.9" lengthAdjust="spacingAndGlyphs">14 day</text><g transform="translate(20.00 383.10) scale(5.1130 5.2000)" shape-rendering="crispEdges"><path fill="#5e4cff" d="M0 0h1v1h-1zM8 0h2v1h-2zM31 0h1v1h-1zM14 1h1v1h-1zM31 1h2v1h-2zM1 2h1v1h-1zM5 2h1v1h-1zM8 2h1v1h-1zM17 2h1v1h-1zM20 2h1v1h-1zM32 2h1v1h-1zM38 2h1v1h-1zM42 2h1v1h-1zM47 2h1v1h-1zM6 3h1v1h-1zM13 3h1v1h-1zM16 3h1v1h-1zM28 3h1v1h-1zM35 3h1v1h-1zM38 3h1v1h-1zM43 3h1v1h-1zM47 3h1v1h-1zM11 4h1v1h-1zM13 4h1v1h-1zM17 4h1v1h-1zM22 4h1v1h-1zM24 4h1v1h-1zM0 5h2v1h-2zM3 5h1v1h-1zM8 5h1v1h-1zM10 5h1v1h-1zM14 5h1v1h-1zM16 5h2v1h-2zM19 5h1v1h-1zM23 5h1v1h-1zM29 5h1v1h-1zM33 5h1v1h-1zM38 5h1v1h-1zM41 5h1v1h-1zM43 5h1v1h-1zM52 5h1v1h-1zM0 6h1v1h-1zM5 6h2v1h-2zM11 6h2v1h-2zM15 6h1v1h-1zM18 6h1v1h-1zM20 6h1v1h-1zM22 6h1v1h-1zM26 6h1v1h-1zM32 6h1v1h-1zM34 6h1v1h-1zM21 7h1v1h-1zM35 7h1v1h-1zM41 7h1v1h-1zM12 8h2v1h-2zM18 8h1v1h-1zM21 8h1v1h-1zM23 8h1v1h-1zM39 8h1v1h-1zM21 9h1v1h-1zM25 9h1v1h-1zM27 9h1v1h-1zM29 9h1v1h-1zM34 9h4v1h-4zM39 9h1v1h-1zM50 9h1v1h-1zM52 9h1v1h-1zM30 10h2v1h-2zM36 10h1v1h-1zM38 10h1v1h-1zM40 10h1v1h-1zM47 10h2v1h-2zM51 10h1v1h-1zM6 11h1v1h-1zM13 11h1v1h-1zM16 11h1v1h-1zM20 11h1v1h-1zM22 11h1v1h-1zM24 11h1v1h-1zM28 11h1v1h-1zM34 11h3v1h-3zM38 11h1v1h-1zM41 11h1v1h-1zM45 11h1v1h-1zM50 11h3v1h-3zM6 12h1v1h-1zM13 12h1v1h-1zM22 12h1v1h-1zM28 12h1v1h-1zM33 12h1v1h-1zM35 12h4v1h-4zM44 12h1v1h-1zM51 12h2v1h-2zM1 13h1v1h-1zM10 13h2v1h-2zM15 13h1v1h-1zM0 14h1v1h-1zM6 14h1v1h-1zM10 14h4v1h-4zM15 14h1v1h-1zM18 14h2v1h-2zM21 14h3v1h-3zM31 14h1v1h-1zM33 14h4v1h-4zM39 14h1v1h-1zM43 14h1v1h-1zM45 14h1v1h-1zM47 14h1v1h-1zM51 14h1v1h-1zM1 15h1v1h-1zM11 15h2v1h-2zM15 15h1v1h-1zM21 15h2v1h-2zM27 15h1v1h-1zM43 15h1v1h-1zM10 16h1v1h-1zM12 16h1v1h-1zM15 16h1v1h-1zM25 16h1v1h-1zM30 16h2v1h-2zM43 16h1v1h-1zM3 17h1v1h-1zM14 17h1v1h-1zM19 17h1v1h-1zM28 17h1v1h-1zM31 17h1v1h-1zM34 17h2v1h-2zM38 17h1v1h-1zM41 17h1v1h-1zM44 17h1v1h-1zM47 17h1v1h-1zM51 17h1v1h-1zM1 18h1v1h-1zM15 18h1v1h-1zM18 18h1v1h-1zM21 18h2v1h-2zM24 18h2v1h-2zM30 18h1v1h-1zM0 19h1v1h-1zM5 19h1v1h-1zM9 19h1v1h-1zM18 19h3v1h-3zM24 19h1v1h-1zM28 19h1v1h-1zM30 19h1v1h-1zM32 19h1v1h-1zM34 19h1v1h-1zM38 19h2v1h-2zM42 19h1v1h-1zM45 19h1v1h-1zM48 19h1v1h-1zM5 20h2v1h-2zM9 20h1v1h-1zM28 20h1v1h-1zM37 20h1v1h-1zM39 20h1v1h-1zM45 20h1v1h-1zM47 20h3v1h-3zM5 21h2v1h-2zM13 21h2v1h-2zM31 21h1v1h-1zM34 21h1v1h-1zM37 21h1v1h-1zM49 21h2v1h-2zM0 22h2v1h-2zM4 22h1v1h-1zM6 22h1v1h-1zM8 22h1v1h-1zM11 22h2v1h-2zM30 22h1v1h-1zM32 22h1v1h-1zM38 22h1v1h-1zM42 22h1v1h-1zM45 22h1v1h-1zM47 22h1v1h-1zM50 22h1v1h-1z"/><path fill="#9890fc" d="M1 0h1v1h-1zM7 0h1v1h-1zM11 0h3v1h-3zM38 0h2v1h-2zM45 0h1v1h-1zM47 0h1v1h-1zM0 1h1v1h-1zM5 1h2v1h-2zM9 1h1v1h-1zM11 1h1v1h-1zM18 1h1v1h-1zM30 1h1v1h-1zM2 2h1v1h-1zM7 2h1v1h-1zM13 2h1v1h-1zM16 2h1v1h-1zM27 2h2v1h-2zM30 2h1v1h-1zM33 2h1v1h-1zM36 2h1v1h-1zM44 2h1v1h-1zM48 2h1v1h-1zM2 3h1v1h-1zM19 3h1v1h-1zM24 3h2v1h-2zM27 3h1v1h-1zM33 3h1v1h-1zM36 3h2v1h-2zM41 3h1v1h-1zM45 3h1v1h-1zM49 3h1v1h-1zM1 4h1v1h-1zM23 4h1v1h-1zM2 5h1v1h-1zM7 5h1v1h-1zM13 5h1v1h-1zM18 5h1v1h-1zM24 5h1v1h-1zM45 5h1v1h-1zM1 6h1v1h-1zM16 6h1v1h-1zM24 6h2v1h-2zM9 7h4v1h-4zM14 7h1v1h-1zM32 7h1v1h-1zM38 7h2v1h-2zM43 7h1v1h-1zM47 7h1v1h-1zM2 8h1v1h-1zM25 8h1v1h-1zM6 9h1v1h-1zM12 9h3v1h-3zM16 9h1v1h-1zM20 9h1v1h-1zM30 9h1v1h-1zM33 9h1v1h-1zM41 9h1v1h-1zM43 9h1v1h-1zM45 9h1v1h-1zM47 9h2v1h-2zM51 9h1v1h-1zM0 10h1v1h-1zM3 10h1v1h-1zM15 10h2v1h-2zM19 10h2v1h-2zM22 10h2v1h-2zM32 10h1v1h-1zM43 10h1v1h-1zM45 10h1v1h-1zM2 11h1v1h-1zM10 11h3v1h-3zM15 11h1v1h-1zM21 11h1v1h-1zM23 11h1v1h-1zM27 11h1v1h-1zM30 11h1v1h-1zM33 11h1v1h-1zM43 11h1v1h-1zM47 11h2v1h-2zM10 12h1v1h-1zM12 12h1v1h-1zM19 12h2v1h-2zM23 12h2v1h-2zM30 12h1v1h-1zM34 12h1v1h-1zM41 12h1v1h-1zM43 12h1v1h-1zM45 12h1v1h-1zM47 12h2v1h-2zM12 13h1v1h-1zM17 13h1v1h-1zM25 13h1v1h-1zM1 14h1v1h-1zM5 14h1v1h-1zM14 14h1v1h-1zM17 14h1v1h-1zM24 14h1v1h-1zM27 14h1v1h-1zM30 14h1v1h-1zM32 14h1v1h-1zM10 15h1v1h-1zM17 15h1v1h-1zM25 15h1v1h-1zM2 16h1v1h-1zM17 16h1v1h-1zM5 17h2v1h-2zM9 17h1v1h-1zM17 17h1v1h-1zM32 17h2v1h-2zM37 17h1v1h-1zM45 17h1v1h-1zM52 17h1v1h-1zM10 18h1v1h-1zM17 18h1v1h-1zM3 19h1v1h-1zM11 19h1v1h-1zM15 19h1v1h-1zM17 19h1v1h-1zM27 19h1v1h-1zM33 19h1v1h-1zM43 19h1v1h-1zM11 20h1v1h-1zM13 20h1v1h-1zM18 20h1v1h-1zM20 20h2v1h-2zM23 20h3v1h-3zM27 20h1v1h-1zM30 20h3v1h-3zM35 20h1v1h-1zM51 20h1v1h-1zM3 21h1v1h-1zM9 21h1v1h-1zM20 21h1v1h-1zM23 21h3v1h-3zM28 21h1v1h-1zM30 21h1v1h-1zM33 21h1v1h-1zM41 21h1v1h-1zM44 21h1v1h-1zM47 21h2v1h-2zM3 22h1v1h-1zM7 22h1v1h-1zM10 22h1v1h-1zM15 22h2v1h-2zM18 22h1v1h-1zM27 22h1v1h-1zM35 22h1v1h-1zM41 22h1v1h-1zM43 22h1v1h-1z"/><path fill="#3416ff" d="M2 0h1v1h-1zM10 0h1v1h-1zM22 0h2v1h-2zM3 1h1v1h-1zM19 1h1v1h-1zM27 1h2v1h-2zM33 1h2v1h-2zM37 1h1v1h-1zM39 1h1v1h-1zM41 1h1v1h-1zM43 1h1v1h-1zM45 1h2v1h-2zM48 1h2v1h-2zM51 1h1v1h-1zM0 2h1v1h-1zM10 2h2v1h-2zM21 2h1v1h-1zM23 2h1v1h-1zM39 2h1v1h-1zM0 3h1v1h-1zM10 3h1v1h-1zM22 3h1v1h-1zM42 3h1v1h-1zM0 4h1v1h-1zM12 4h1v1h-1zM34 4h1v1h-1zM39 4h1v1h-1zM45 4h1v1h-1zM5 5h1v1h-1zM11 5h1v1h-1zM15 5h1v1h-1zM20 5h2v1h-2zM27 5h2v1h-2zM30 5h1v1h-1zM37 5h1v1h-1zM40 5h1v1h-1zM42 5h1v1h-1zM44 5h1v1h-1zM46 5h1v1h-1zM48 5h4v1h-4zM3 6h1v1h-1zM9 6h1v1h-1zM19 6h1v1h-1zM23 6h1v1h-1zM27 6h1v1h-1zM29 6h3v1h-3zM33 6h1v1h-1zM35 6h1v1h-1zM37 6h1v1h-1zM40 6h2v1h-2zM43 6h1v1h-1zM45 6h2v1h-2zM48 6h5v1h-5zM0 8h1v1h-1zM3 8h1v1h-1zM5 8h2v1h-2zM10 8h2v1h-2zM15 8h1v1h-1zM27 8h2v1h-2zM30 8h4v1h-4zM37 8h2v1h-2zM40 8h2v1h-2zM43 8h1v1h-1zM45 8h1v1h-1zM48 8h4v1h-4zM3 9h1v1h-1zM38 9h1v1h-1zM40 9h1v1h-1zM44 9h1v1h-1zM26 10h1v1h-1zM28 10h1v1h-1zM34 10h1v1h-1zM37 10h1v1h-1zM44 10h1v1h-1zM50 10h1v1h-1zM52 10h1v1h-1zM26 11h1v1h-1zM37 11h1v1h-1zM39 11h1v1h-1zM44 11h1v1h-1zM26 12h1v1h-1zM39 12h1v1h-1zM50 12h1v1h-1zM0 13h1v1h-1zM5 13h1v1h-1zM9 13h1v1h-1zM13 13h2v1h-2zM18 13h2v1h-2zM21 13h4v1h-4zM27 13h1v1h-1zM30 13h3v1h-3zM34 13h1v1h-1zM37 13h1v1h-1zM39 13h1v1h-1zM41 13h1v1h-1zM43 13h1v1h-1zM45 13h1v1h-1zM48 13h1v1h-1zM51 13h1v1h-1zM20 14h1v1h-1zM28 14h1v1h-1zM37 14h1v1h-1zM40 14h2v1h-2zM44 14h1v1h-1zM48 14h3v1h-3zM52 14h1v1h-1zM0 15h1v1h-1zM6 15h1v1h-1zM13 15h1v1h-1zM18 15h1v1h-1zM23 15h1v1h-1zM30 15h2v1h-2zM33 15h2v1h-2zM37 15h1v1h-1zM41 15h1v1h-1zM45 15h1v1h-1zM47 15h4v1h-4zM52 15h1v1h-1zM0 16h2v1h-2zM6 16h1v1h-1zM13 16h1v1h-1zM21 16h2v1h-2zM24 16h1v1h-1zM27 16h1v1h-1zM32 16h1v1h-1zM34 16h2v1h-2zM39 16h1v1h-1zM41 16h1v1h-1zM45 16h1v1h-1zM48 16h1v1h-1zM51 16h1v1h-1zM30 17h1v1h-1zM36 17h1v1h-1zM42 17h1v1h-1zM46 17h1v1h-1zM48 17h1v1h-1zM0 18h1v1h-1zM5 18h2v1h-2zM12 18h2v1h-2zM20 18h1v1h-1zM27 18h1v1h-1zM33 18h1v1h-1zM38 18h1v1h-1zM43 18h1v1h-1zM50 18h1v1h-1zM26 19h1v1h-1zM31 19h1v1h-1zM36 19h1v1h-1zM46 19h1v1h-1zM49 19h3v1h-3zM3 20h1v1h-1zM19 20h1v1h-1zM33 20h1v1h-1zM36 20h1v1h-1zM44 20h1v1h-1zM46 20h1v1h-1zM50 20h1v1h-1zM19 21h1v1h-1zM26 21h1v1h-1zM35 21h1v1h-1zM39 21h1v1h-1zM42 21h1v1h-1zM46 21h1v1h-1zM2 22h1v1h-1zM5 22h1v1h-1zM19 22h1v1h-1zM21 22h1v1h-1zM23 22h3v1h-3zM28 22h1v1h-1zM31 22h1v1h-1zM34 22h1v1h-1zM36 22h1v1h-1zM39 22h2v1h-2zM44 22h1v1h-1zM46 22h1v1h-1zM48 22h1v1h-1z"/><path fill="#ff1e0c" d="M3 0h1v1h-1zM14 0h1v1h-1zM19 0h1v1h-1zM34 0h1v1h-1zM37 0h1v1h-1zM46 0h1v1h-1zM51 0h1v1h-1zM7 1h2v1h-2zM29 2h1v1h-1zM34 2h1v1h-1zM52 2h1v1h-1zM3 3h1v1h-1zM7 3h1v1h-1zM29 3h1v1h-1zM34 3h1v1h-1zM4 4h1v1h-1zM26 5h1v1h-1zM4 6h1v1h-1zM3 7h2v1h-2zM6 7h1v1h-1zM27 7h2v1h-2zM34 7h1v1h-1zM46 7h1v1h-1zM51 7h1v1h-1zM7 8h1v1h-1zM4 9h1v1h-1zM7 9h1v1h-1zM13 10h1v1h-1zM17 10h1v1h-1zM4 11h1v1h-1zM4 12h1v1h-1zM4 13h1v1h-1zM7 13h1v1h-1zM7 14h2v1h-2zM7 15h1v1h-1zM7 16h1v1h-1zM8 17h1v1h-1zM7 18h1v1h-1zM4 19h1v1h-1zM7 19h1v1h-1zM22 19h1v1h-1zM16 20h1v1h-1zM22 20h1v1h-1zM16 21h1v1h-1zM22 22h1v1h-1z"/><path fill="#0800f8" d="M4 0h1v1h-1zM15 0h3v1h-3zM21 0h1v1h-1zM25 0h1v1h-1zM26 1h1v1h-1zM29 1h1v1h-1zM35 1h2v1h-2zM38 1h1v1h-1zM40 1h1v1h-1zM42 1h1v1h-1zM44 1h1v1h-1zM47 1h1v1h-1zM50 1h1v1h-1zM52 1h1v1h-1zM9 2h1v1h-1zM12 2h1v1h-1zM15 2h1v1h-1zM22 2h1v1h-1zM31 2h1v1h-1zM1 3h1v1h-1zM5 3h1v1h-1zM8 3h2v1h-2zM11 3h2v1h-2zM15 3h1v1h-1zM17 3h1v1h-1zM21 3h1v1h-1zM23 3h1v1h-1zM31 3h2v1h-2zM39 3h1v1h-1zM44 3h1v1h-1zM3 4h1v1h-1zM5 4h2v1h-2zM9 4h1v1h-1zM14 4h1v1h-1zM18 4h3v1h-3zM26 4h8v1h-8zM35 4h4v1h-4zM40 4h5v1h-5zM46 4h7v1h-7zM9 5h1v1h-1zM12 5h1v1h-1zM22 5h1v1h-1zM31 5h2v1h-2zM35 5h2v1h-2zM39 5h1v1h-1zM47 5h1v1h-1zM14 6h1v1h-1zM28 6h1v1h-1zM36 6h1v1h-1zM38 6h2v1h-2zM42 6h1v1h-1zM44 6h1v1h-1zM47 6h1v1h-1zM8 7h1v1h-1zM1 8h1v1h-1zM9 8h1v1h-1zM14 8h1v1h-1zM19 8h2v1h-2zM22 8h1v1h-1zM24 8h1v1h-1zM26 8h1v1h-1zM29 8h1v1h-1zM34 8h3v1h-3zM42 8h1v1h-1zM44 8h1v1h-1zM46 8h2v1h-2zM52 8h1v1h-1zM28 9h1v1h-1zM42 9h1v1h-1zM46 9h1v1h-1zM49 9h1v1h-1zM29 10h1v1h-1zM35 10h1v1h-1zM39 10h1v1h-1zM42 10h1v1h-1zM46 10h1v1h-1zM49 10h1v1h-1zM3 11h1v1h-1zM29 11h1v1h-1zM40 11h1v1h-1zM42 11h1v1h-1zM46 11h1v1h-1zM49 11h1v1h-1zM3 12h1v1h-1zM29 12h1v1h-1zM40 12h1v1h-1zM42 12h1v1h-1zM46 12h1v1h-1zM49 12h1v1h-1zM3 13h1v1h-1zM6 13h1v1h-1zM20 13h1v1h-1zM26 13h1v1h-1zM28 13h2v1h-2zM33 13h1v1h-1zM35 13h2v1h-2zM38 13h1v1h-1zM40 13h1v1h-1zM42 13h1v1h-1zM44 13h1v1h-1zM46 13h2v1h-2zM49 13h2v1h-2zM52 13h1v1h-1zM3 14h1v1h-1zM26 14h1v1h-1zM29 14h1v1h-1zM38 14h1v1h-1zM42 14h1v1h-1zM46 14h1v1h-1zM3 15h1v1h-1zM5 15h1v1h-1zM9 15h1v1h-1zM14 15h1v1h-1zM19 15h2v1h-2zM24 15h1v1h-1zM26 15h1v1h-1zM28 15h2v1h-2zM32 15h1v1h-1zM35 15h2v1h-2zM38 15h3v1h-3zM42 15h1v1h-1zM44 15h1v1h-1zM46 15h1v1h-1zM51 15h1v1h-1zM3 16h1v1h-1zM5 16h1v1h-1zM9 16h1v1h-1zM11 16h1v1h-1zM14 16h1v1h-1zM18 16h3v1h-3zM23 16h1v1h-1zM26 16h1v1h-1zM28 16h2v1h-2zM33 16h1v1h-1zM36 16h3v1h-3zM40 16h1v1h-1zM42 16h1v1h-1zM44 16h1v1h-1zM46 16h2v1h-2zM49 16h2v1h-2zM52 16h1v1h-1zM26 17h1v1h-1zM29 17h1v1h-1zM39 17h2v1h-2zM3 18h1v1h-1zM9 18h1v1h-1zM11 18h1v1h-1zM14 18h1v1h-1zM19 18h1v1h-1zM23 18h1v1h-1zM26 18h1v1h-1zM28 18h2v1h-2zM31 18h2v1h-2zM34 18h4v1h-4zM39 18h4v1h-4zM44 18h6v1h-6zM51 18h2v1h-2zM14 19h1v1h-1zM29 19h1v1h-1zM35 19h1v1h-1zM37 19h1v1h-1zM40 19h2v1h-2zM44 19h1v1h-1zM47 19h1v1h-1zM52 19h1v1h-1zM14 20h1v1h-1zM26 20h1v1h-1zM29 20h1v1h-1zM34 20h1v1h-1zM38 20h1v1h-1zM40 20h3v1h-3zM52 20h1v1h-1zM29 21h1v1h-1zM9 22h1v1h-1zM13 22h2v1h-2zM17 22h1v1h-1zM20 22h1v1h-1zM26 22h1v1h-1zM29 22h1v1h-1zM33 22h1v1h-1zM37 22h1v1h-1z"/><path fill="#f8cccb" d="M5 0h1v1h-1zM20 0h1v1h-1zM28 0h1v1h-1zM30 0h1v1h-1zM42 0h2v1h-2zM52 0h1v1h-1zM2 1h1v1h-1zM10 1h1v1h-1zM13 1h1v1h-1zM15 1h1v1h-1zM21 1h1v1h-1zM24 1h1v1h-1zM3 2h2v1h-2zM18 2h1v1h-1zM26 2h1v1h-1zM45 2h2v1h-2zM30 3h1v1h-1zM51 3h1v1h-1zM10 4h1v1h-1zM25 5h1v1h-1zM2 6h1v1h-1zM7 6h1v1h-1zM7 7h1v1h-1zM15 7h1v1h-1zM20 7h1v1h-1zM23 7h1v1h-1zM25 7h1v1h-1zM31 7h1v1h-1zM48 7h1v1h-1zM50 7h1v1h-1zM8 8h1v1h-1zM16 8h1v1h-1zM18 9h1v1h-1zM24 9h1v1h-1zM1 10h1v1h-1zM18 10h1v1h-1zM41 10h1v1h-1zM5 11h1v1h-1zM17 11h1v1h-1zM7 12h1v1h-1zM9 12h1v1h-1zM17 12h1v1h-1zM2 14h1v1h-1zM2 15h1v1h-1zM4 15h1v1h-1zM8 15h1v1h-1zM16 15h1v1h-1zM4 16h1v1h-1zM16 16h1v1h-1zM2 17h1v1h-1zM15 17h1v1h-1zM22 17h1v1h-1zM49 17h1v1h-1zM8 18h1v1h-1zM1 19h1v1h-1zM12 19h1v1h-1zM16 19h1v1h-1zM25 19h1v1h-1zM4 20h1v1h-1zM8 20h1v1h-1zM1 21h1v1h-1zM4 21h1v1h-1zM11 21h2v1h-2zM17 21h1v1h-1zM27 21h1v1h-1zM45 21h1v1h-1zM51 21h1v1h-1zM49 22h1v1h-1zM51 22h1v1h-1z"/><path fill="#c8c4fa" d="M6 0h1v1h-1zM27 0h1v1h-1zM32 0h1v1h-1zM44 0h1v1h-1zM12 1h1v1h-1zM17 1h1v1h-1zM23 1h1v1h-1zM6 2h1v1h-1zM14 2h1v1h-1zM19 2h1v1h-1zM35 2h1v1h-1zM37 2h1v1h-1zM41 2h1v1h-1zM43 2h1v1h-1zM50 2h1v1h-1zM4 3h1v1h-1zM14 3h1v1h-1zM18 3h1v1h-1zM20 3h1v1h-1zM46 3h1v1h-1zM48 3h1v1h-1zM50 3h1v1h-1zM52 3h1v1h-1zM2 4h1v1h-1zM15 4h1v1h-1zM21 4h1v1h-1zM4 5h1v1h-1zM34 5h1v1h-1zM8 6h1v1h-1zM10 6h1v1h-1zM13 6h1v1h-1zM21 6h1v1h-1zM5 7h1v1h-1zM16 7h1v1h-1zM22 7h1v1h-1zM30 7h1v1h-1zM36 7h1v1h-1zM4 8h1v1h-1zM17 8h1v1h-1zM1 9h2v1h-2zM10 9h2v1h-2zM15 9h1v1h-1zM22 9h2v1h-2zM32 9h1v1h-1zM9 10h3v1h-3zM24 10h1v1h-1zM27 10h1v1h-1zM33 10h1v1h-1zM0 11h2v1h-2zM14 11h1v1h-1zM19 11h1v1h-1zM31 11h2v1h-2zM1 12h2v1h-2zM11 12h1v1h-1zM15 12h2v1h-2zM21 12h1v1h-1zM25 12h1v1h-1zM27 12h1v1h-1zM2 13h1v1h-1zM8 13h1v1h-1zM9 14h1v1h-1zM25 14h1v1h-1zM8 16h1v1h-1zM0 17h1v1h-1zM13 17h1v1h-1zM18 17h1v1h-1zM20 17h2v1h-2zM23 17h2v1h-2zM50 17h1v1h-1zM2 18h1v1h-1zM13 19h1v1h-1zM0 20h3v1h-3zM12 20h1v1h-1zM15 20h1v1h-1zM17 20h1v1h-1zM43 20h1v1h-1zM8 21h1v1h-1zM21 21h1v1h-1zM32 21h1v1h-1zM36 21h1v1h-1zM40 21h1v1h-1zM43 21h1v1h-1zM52 21h1v1h-1zM52 22h1v1h-1z"/><path fill="#f27c7a" d="M18 0h1v1h-1zM26 0h1v1h-1zM29 0h1v1h-1zM33 0h1v1h-1zM40 0h2v1h-2zM48 0h3v1h-3zM4 1h1v1h-1zM16 1h1v1h-1zM20 1h1v1h-1zM25 1h1v1h-1zM25 2h1v1h-1zM51 2h1v1h-1zM26 3h1v1h-1zM7 4h1v1h-1zM0 7h2v1h-2zM13 7h1v1h-1zM17 7h3v1h-3zM24 7h1v1h-1zM26 7h1v1h-1zM29 7h1v1h-1zM33 7h1v1h-1zM40 7h1v1h-1zM42 7h1v1h-1zM44 7h1v1h-1zM49 7h1v1h-1zM52 7h1v1h-1zM5 9h1v1h-1zM4 10h4v1h-4zM12 10h1v1h-1zM14 10h1v1h-1zM21 10h1v1h-1zM7 11h1v1h-1zM25 11h1v1h-1zM5 12h1v1h-1zM18 12h1v1h-1zM4 14h1v1h-1zM4 17h1v1h-1zM7 17h1v1h-1zM12 17h1v1h-1zM16 17h1v1h-1zM25 17h1v1h-1zM6 19h1v1h-1zM8 19h1v1h-1zM10 19h1v1h-1zM23 19h1v1h-1zM7 20h1v1h-1zM7 21h1v1h-1zM15 21h1v1h-1zM18 21h1v1h-1zM22 21h1v1h-1z"/><path fill="#faf0f0" d="M24 0h1v1h-1zM35 0h2v1h-2zM1 1h1v1h-1zM22 1h1v1h-1zM24 2h1v1h-1zM40 2h1v1h-1zM49 2h1v1h-1zM40 3h1v1h-1zM8 4h1v1h-1zM16 4h1v1h-1zM25 4h1v1h-1zM6 5h1v1h-1zM17 6h1v1h-1zM2 7h1v1h-1zM37 7h1v1h-1zM45 7h1v1h-1zM0 9h1v1h-1zM8 9h2v1h-2zM17 9h1v1h-1zM19 9h1v1h-1zM26 9h1v1h-1zM31 9h1v1h-1zM2 10h1v1h-1zM8 10h1v1h-1zM25 10h1v1h-1zM8 11h2v1h-2zM18 11h1v1h-1zM0 12h1v1h-1zM8 12h1v1h-1zM14 12h1v1h-1zM31 12h2v1h-2zM16 13h1v1h-1zM16 14h1v1h-1zM1 17h1v1h-1zM10 17h2v1h-2zM27 17h1v1h-1zM43 17h1v1h-1zM4 18h1v1h-1zM16 18h1v1h-1zM2 19h1v1h-1zM21 19h1v1h-1zM10 20h1v1h-1zM0 21h1v1h-1zM2 21h1v1h-1zM10 21h1v1h-1zM38 21h1v1h-1z"/></g><path d="M25.11 383.10V502.70M30.23 383.10V502.70M35.34 383.10V502.70M40.45 383.10V502.70M45.56 383.10V502.70M50.68 383.10V502.70M55.79 383.10V502.70M60.90 383.10V502.70M66.02 383.10V502.70M71.13 383.10V502.70M76.24 383.10V502.70M81.36 383.10V502.70M86.47 383.10V502.70M91.58 383.10V502.70M96.70 383.10V502.70M101.81 383.10V502.70M106.92 383.10V502.70M112.03 383.10V502.70M117.15 383.10V502.70M122.26 383.10V502.70M127.37 383.10V502.70M132.49 383.10V502.70M137.60 383.10V502.70M142.71 383.10V502.70M147.83 383.10V502.70M152.94 383.10V502.70M158.05 383.10V502.70M163.16 383.10V502.70M168.28 383.10V502.70M173.39 383.10V502.70M178.50 383.10V502.70M183.62 383.10V502.70M188.73 383.10V502.70M193.84 383.10V502.70M198.96 383.10V502.70M204.07 383.10V502.70M209.18 383.10V502.70M214.29 383.10V502.70M219.41 383.10V502.70M224.52 383.10V502.70M229.63 383.10V502.70M234.75 383.10V502.70M239.86 383.10V502.70M244.97 383.10V502.70M250.09 383.10V502.70M255.20 383.10V502.70M260.31 383.10V502.70M265.42 383.10V502.70M270.54 383.10V502.70M275.65 383.10V502.70M280.76 383.10V502.70M285.88 383.10V502.70M20.00 388.30H290.99M20.00 393.50H290.99M20.00 398.70H290.99M20.00 403.90H290.99M20.00 409.10H290.99M20.00 414.30H290.99M20.00 419.50H290.99M20.00 424.70H290.99M20.00 429.90H290.99M20.00 435.10H290.99M20.00 440.30H290.99M20.00 445.50H290.99M20.00 450.70H290.99M20.00 455.90H290.99M20.00 461.10H290.99M20.00 466.30H290.99M20.00 471.50H290.99M20.00 476.70H290.99M20.00 481.90H290.99M20.00 487.10H290.99M20.00 492.30H290.99M20.00 497.50H290.99" stroke="#ffffff" stroke-opacity="0.2" stroke-width="0.6" fill="none"/><g transform="translate(19.40 508.10) scale(5.1040 5.9200)" shape-rendering="crispEdges"><path fill="#f8cccb" d="M0 0h1v1h-1zM13 0h1v1h-1zM25 0h1v1h-1zM13 1h1v1h-1zM16 1h1v1h-1zM20 1h1v1h-1zM41 1h1v1h-1zM44 1h1v1h-1zM51 1h2v1h-2zM23 2h1v1h-1zM34 2h1v1h-1zM0 3h1v1h-1zM2 3h1v1h-1zM32 3h1v1h-1zM43 3h2v1h-2zM11 4h1v1h-1zM16 4h2v1h-2zM38 4h1v1h-1zM11 5h1v1h-1zM16 5h1v1h-1zM15 6h1v1h-1zM0 7h1v1h-1zM10 7h4v1h-4zM17 7h1v1h-1zM21 7h1v1h-1zM32 7h1v1h-1zM12 8h2v1h-2zM0 11h1v1h-1zM12 11h1v1h-1zM23 11h1v1h-1zM25 11h1v1h-1zM10 12h1v1h-1zM12 12h1v1h-1zM4 13h1v1h-1zM15 13h1v1h-1zM7 14h1v1h-1zM10 14h1v1h-1zM23 14h1v1h-1zM8 15h1v1h-1zM8 16h1v1h-1zM11 16h1v1h-1zM13 16h1v1h-1zM17 16h1v1h-1zM24 16h1v1h-1zM32 16h1v1h-1zM8 17h1v1h-1zM22 17h2v1h-2z"/><path fill="#ff1e0c" d="M1 0h2v1h-2zM8 0h1v1h-1zM11 0h1v1h-1zM0 1h1v1h-1zM8 1h2v1h-2zM24 1h1v1h-1zM28 1h1v1h-1zM32 1h1v1h-1zM37 1h1v1h-1zM43 1h1v1h-1zM45 1h1v1h-1zM11 2h1v1h-1zM11 3h1v1h-1zM2 4h1v1h-1zM15 4h1v1h-1zM2 5h1v1h-1zM15 5h1v1h-1zM17 5h1v1h-1zM2 6h1v1h-1zM2 7h1v1h-1zM4 7h1v1h-1zM8 7h1v1h-1zM15 7h2v1h-2zM25 8h1v1h-1zM2 9h1v1h-1zM8 9h1v1h-1zM8 10h1v1h-1zM4 11h1v1h-1zM8 11h1v1h-1zM4 12h1v1h-1zM7 12h1v1h-1zM15 12h3v1h-3zM17 13h1v1h-1zM4 14h1v1h-1zM8 14h1v1h-1zM2 15h1v1h-1zM2 16h1v1h-1zM4 16h1v1h-1zM10 16h1v1h-1zM15 16h1v1h-1zM2 17h1v1h-1zM4 17h1v1h-1zM15 17h1v1h-1z"/><path fill="#0800f8" d="M3 0h1v1h-1zM7 0h1v1h-1zM28 0h1v1h-1zM30 0h1v1h-1zM39 0h1v1h-1zM41 0h1v1h-1zM3 1h1v1h-1zM6 1h1v1h-1zM23 1h1v1h-1zM42 1h1v1h-1zM7 2h1v1h-1zM39 2h1v1h-1zM7 3h1v1h-1zM39 3h1v1h-1zM3 4h1v1h-1zM22 4h1v1h-1zM28 4h1v1h-1zM39 4h2v1h-2zM46 4h1v1h-1zM51 4h1v1h-1zM3 5h1v1h-1zM5 5h1v1h-1zM19 5h1v1h-1zM22 5h1v1h-1zM26 5h1v1h-1zM28 5h2v1h-2zM36 5h1v1h-1zM40 5h1v1h-1zM42 5h1v1h-1zM46 5h1v1h-1zM49 5h1v1h-1zM51 5h2v1h-2zM3 6h1v1h-1zM19 6h1v1h-1zM26 6h1v1h-1zM28 6h2v1h-2zM36 6h1v1h-1zM40 6h1v1h-1zM42 6h1v1h-1zM46 6h1v1h-1zM49 6h1v1h-1zM51 6h2v1h-2zM3 7h1v1h-1zM26 7h1v1h-1zM29 7h1v1h-1zM40 7h1v1h-1zM49 7h1v1h-1zM3 8h1v1h-1zM5 8h1v1h-1zM19 8h1v1h-1zM26 8h1v1h-1zM28 8h2v1h-2zM36 8h1v1h-1zM39 8h2v1h-2zM42 8h1v1h-1zM45 8h2v1h-2zM49 8h4v1h-4zM1 9h1v1h-1zM3 9h1v1h-1zM5 9h1v1h-1zM9 9h1v1h-1zM22 9h1v1h-1zM26 9h1v1h-1zM28 9h2v1h-2zM34 9h1v1h-1zM36 9h5v1h-5zM42 9h1v1h-1zM44 9h3v1h-3zM48 9h5v1h-5zM3 10h1v1h-1zM9 10h1v1h-1zM11 10h1v1h-1zM19 10h1v1h-1zM26 10h1v1h-1zM28 10h2v1h-2zM34 10h1v1h-1zM36 10h5v1h-5zM42 10h1v1h-1zM45 10h2v1h-2zM48 10h5v1h-5zM3 11h1v1h-1zM28 11h2v1h-2zM40 11h1v1h-1zM46 11h1v1h-1zM49 11h1v1h-1zM51 11h2v1h-2zM3 12h1v1h-1zM26 12h1v1h-1zM28 12h2v1h-2zM40 12h1v1h-1zM46 12h1v1h-1zM49 12h4v1h-4zM3 13h1v1h-1zM19 13h1v1h-1zM26 13h1v1h-1zM29 13h1v1h-1zM34 13h1v1h-1zM36 13h1v1h-1zM40 13h1v1h-1zM42 13h1v1h-1zM44 13h1v1h-1zM46 13h1v1h-1zM49 13h4v1h-4zM3 14h1v1h-1zM28 14h1v1h-1zM40 14h1v1h-1zM43 14h1v1h-1zM45 14h2v1h-2zM49 14h4v1h-4zM3 15h1v1h-1zM14 15h1v1h-1zM26 15h1v1h-1zM34 15h1v1h-1zM38 15h1v1h-1zM40 15h1v1h-1zM42 15h1v1h-1zM44 15h1v1h-1zM46 15h1v1h-1zM49 15h1v1h-1zM51 15h1v1h-1zM3 16h1v1h-1zM28 16h2v1h-2zM34 16h1v1h-1zM46 16h1v1h-1zM49 16h1v1h-1zM51 16h1v1h-1zM3 17h1v1h-1zM14 17h1v1h-1zM19 17h1v1h-1zM26 17h1v1h-1zM28 17h2v1h-2zM34 17h1v1h-1zM40 17h1v1h-1zM45 17h2v1h-2zM49 17h4v1h-4z"/><path fill="#f27c7a" d="M4 0h1v1h-1zM16 0h1v1h-1zM43 0h1v1h-1zM48 0h1v1h-1zM1 1h2v1h-2zM5 1h1v1h-1zM11 1h2v1h-2zM14 1h1v1h-1zM17 1h3v1h-3zM21 1h1v1h-1zM26 1h2v1h-2zM29 1h1v1h-1zM33 1h4v1h-4zM47 1h1v1h-1zM49 1h2v1h-2zM38 2h1v1h-1zM8 3h2v1h-2zM34 4h1v1h-1zM4 5h1v1h-1zM8 5h1v1h-1zM8 6h1v1h-1zM7 7h1v1h-1zM18 7h1v1h-1zM24 7h2v1h-2zM2 8h1v1h-1zM7 8h1v1h-1zM15 8h2v1h-2zM2 10h1v1h-1zM2 11h1v1h-1zM7 11h1v1h-1zM10 11h1v1h-1zM15 11h3v1h-3zM22 11h1v1h-1zM24 11h1v1h-1zM2 12h1v1h-1zM8 12h1v1h-1zM21 12h1v1h-1zM2 13h1v1h-1zM8 13h1v1h-1zM2 14h1v1h-1zM15 14h1v1h-1zM10 15h1v1h-1zM15 15h1v1h-1zM5 16h1v1h-1zM22 16h2v1h-2zM31 16h1v1h-1zM7 17h1v1h-1zM10 17h1v1h-1z"/><path fill="#c8c4fa" d="M5 0h1v1h-1zM9 0h1v1h-1zM18 0h1v1h-1zM24 0h1v1h-1zM32 0h1v1h-1zM35 0h1v1h-1zM37 0h2v1h-2zM44 0h1v1h-1zM52 0h1v1h-1zM46 1h1v1h-1zM1 2h1v1h-1zM4 2h1v1h-1zM14 2h1v1h-1zM17 2h1v1h-1zM25 2h2v1h-2zM36 2h2v1h-2zM44 2h2v1h-2zM47 2h1v1h-1zM52 2h1v1h-1zM17 3h1v1h-1zM20 3h2v1h-2zM26 3h1v1h-1zM37 3h1v1h-1zM45 3h1v1h-1zM14 4h1v1h-1zM27 4h1v1h-1zM0 5h1v1h-1zM7 5h1v1h-1zM12 5h1v1h-1zM25 5h1v1h-1zM47 5h1v1h-1zM32 6h1v1h-1zM47 6h1v1h-1zM9 7h1v1h-1zM33 7h1v1h-1zM41 7h1v1h-1zM47 7h1v1h-1zM1 8h1v1h-1zM6 8h1v1h-1zM22 8h3v1h-3zM4 9h1v1h-1zM17 9h1v1h-1zM4 10h1v1h-1zM17 10h1v1h-1zM1 11h1v1h-1zM11 11h1v1h-1zM20 11h1v1h-1zM41 11h1v1h-1zM47 11h1v1h-1zM1 12h1v1h-1zM31 12h1v1h-1zM10 13h1v1h-1zM12 13h2v1h-2zM31 13h2v1h-2zM47 13h1v1h-1zM5 14h2v1h-2zM16 14h1v1h-1zM21 14h1v1h-1zM31 14h1v1h-1zM6 15h1v1h-1zM12 15h1v1h-1zM22 15h2v1h-2zM9 16h1v1h-1zM16 16h1v1h-1zM21 16h1v1h-1zM25 16h1v1h-1zM11 17h2v1h-2zM16 17h1v1h-1zM24 17h1v1h-1z"/><path fill="#9890fc" d="M6 0h1v1h-1zM10 0h1v1h-1zM14 0h1v1h-1zM17 0h1v1h-1zM19 0h1v1h-1zM21 0h1v1h-1zM29 0h1v1h-1zM36 0h1v1h-1zM4 1h1v1h-1zM30 1h1v1h-1zM40 1h1v1h-1zM8 2h2v1h-2zM13 2h1v1h-1zM15 2h1v1h-1zM24 2h1v1h-1zM27 2h1v1h-1zM32 2h2v1h-2zM35 2h1v1h-1zM41 2h1v1h-1zM43 2h1v1h-1zM49 2h3v1h-3zM3 3h2v1h-2zM13 3h2v1h-2zM19 3h1v1h-1zM23 3h1v1h-1zM25 3h1v1h-1zM27 3h1v1h-1zM29 3h3v1h-3zM38 3h1v1h-1zM46 3h7v1h-7zM21 4h1v1h-1zM43 4h1v1h-1zM47 4h2v1h-2zM50 4h1v1h-1zM6 5h1v1h-1zM21 5h1v1h-1zM23 5h2v1h-2zM27 5h1v1h-1zM0 6h1v1h-1zM6 6h1v1h-1zM10 6h3v1h-3zM18 6h1v1h-1zM21 6h1v1h-1zM41 6h1v1h-1zM5 7h1v1h-1zM14 7h1v1h-1zM20 7h1v1h-1zM30 7h1v1h-1zM35 7h1v1h-1zM37 7h2v1h-2zM43 7h1v1h-1zM45 7h1v1h-1zM48 7h1v1h-1zM50 7h1v1h-1zM0 8h1v1h-1zM11 8h1v1h-1zM31 8h2v1h-2zM43 8h1v1h-1zM0 9h1v1h-1zM15 9h1v1h-1zM18 9h1v1h-1zM47 9h1v1h-1zM0 10h1v1h-1zM15 10h1v1h-1zM18 10h1v1h-1zM47 10h1v1h-1zM5 11h1v1h-1zM9 11h1v1h-1zM14 11h1v1h-1zM27 11h1v1h-1zM30 11h1v1h-1zM33 11h1v1h-1zM35 11h1v1h-1zM38 11h1v1h-1zM43 11h1v1h-1zM45 11h1v1h-1zM48 11h1v1h-1zM9 12h1v1h-1zM14 12h1v1h-1zM22 12h1v1h-1zM27 12h1v1h-1zM33 12h1v1h-1zM38 12h1v1h-1zM41 12h1v1h-1zM47 12h2v1h-2zM0 13h2v1h-2zM7 13h1v1h-1zM11 13h1v1h-1zM16 13h1v1h-1zM22 13h1v1h-1zM24 13h1v1h-1zM45 13h1v1h-1zM48 13h1v1h-1zM1 14h1v1h-1zM13 14h1v1h-1zM18 14h1v1h-1zM36 14h1v1h-1zM41 14h1v1h-1zM0 15h1v1h-1zM5 15h1v1h-1zM7 15h1v1h-1zM9 15h1v1h-1zM11 15h1v1h-1zM17 15h1v1h-1zM47 15h1v1h-1zM30 16h1v1h-1zM36 16h2v1h-2zM39 16h1v1h-1zM41 16h2v1h-2zM0 17h2v1h-2zM5 17h2v1h-2zM9 17h1v1h-1zM13 17h1v1h-1zM18 17h1v1h-1zM32 17h1v1h-1zM47 17h1v1h-1z"/><path fill="#faf0f0" d="M12 0h1v1h-1zM15 0h1v1h-1zM20 0h1v1h-1zM26 0h1v1h-1zM51 0h1v1h-1zM15 1h1v1h-1zM31 1h1v1h-1zM38 1h1v1h-1zM48 1h1v1h-1zM2 2h1v1h-1zM16 2h1v1h-1zM46 2h1v1h-1zM48 2h1v1h-1zM1 3h1v1h-1zM5 3h1v1h-1zM10 3h1v1h-1zM12 3h1v1h-1zM16 3h1v1h-1zM24 3h1v1h-1zM4 4h1v1h-1zM8 4h1v1h-1zM23 4h1v1h-1zM25 4h1v1h-1zM32 4h1v1h-1zM4 6h1v1h-1zM16 6h2v1h-2zM1 7h1v1h-1zM6 7h1v1h-1zM22 7h2v1h-2zM27 7h1v1h-1zM31 7h1v1h-1zM4 8h1v1h-1zM8 8h1v1h-1zM10 8h1v1h-1zM17 8h1v1h-1zM21 8h1v1h-1zM6 11h1v1h-1zM13 11h1v1h-1zM18 11h1v1h-1zM21 11h1v1h-1zM31 11h2v1h-2zM0 12h1v1h-1zM6 12h1v1h-1zM11 12h1v1h-1zM13 12h1v1h-1zM18 12h1v1h-1zM23 12h3v1h-3zM32 12h1v1h-1zM6 13h1v1h-1zM18 13h1v1h-1zM21 13h1v1h-1zM0 14h1v1h-1zM9 14h1v1h-1zM11 14h2v1h-2zM17 14h1v1h-1zM22 14h1v1h-1zM24 14h1v1h-1zM4 15h1v1h-1zM31 15h1v1h-1zM6 16h2v1h-2zM12 16h1v1h-1zM18 16h1v1h-1zM47 16h1v1h-1zM17 17h1v1h-1zM31 17h1v1h-1z"/><path fill="#5e4cff" d="M22 0h2v1h-2zM27 0h1v1h-1zM31 0h1v1h-1zM33 0h2v1h-2zM42 0h1v1h-1zM45 0h1v1h-1zM49 0h1v1h-1zM7 1h1v1h-1zM10 1h1v1h-1zM25 1h1v1h-1zM0 2h1v1h-1zM5 2h1v1h-1zM10 2h1v1h-1zM12 2h1v1h-1zM18 2h4v1h-4zM28 2h4v1h-4zM40 2h1v1h-1zM42 2h1v1h-1zM6 3h1v1h-1zM15 3h1v1h-1zM18 3h1v1h-1zM22 3h1v1h-1zM28 3h1v1h-1zM33 3h1v1h-1zM35 3h2v1h-2zM40 3h2v1h-2zM0 4h2v1h-2zM5 4h2v1h-2zM9 4h2v1h-2zM12 4h2v1h-2zM18 4h1v1h-1zM20 4h1v1h-1zM29 4h1v1h-1zM31 4h1v1h-1zM33 4h1v1h-1zM42 4h1v1h-1zM44 4h2v1h-2zM49 4h1v1h-1zM1 5h1v1h-1zM9 5h2v1h-2zM14 5h1v1h-1zM18 5h1v1h-1zM20 5h1v1h-1zM31 5h3v1h-3zM41 5h1v1h-1zM43 5h1v1h-1zM45 5h1v1h-1zM1 6h1v1h-1zM7 6h1v1h-1zM13 6h2v1h-2zM20 6h1v1h-1zM23 6h3v1h-3zM27 6h1v1h-1zM31 6h1v1h-1zM33 6h1v1h-1zM43 6h1v1h-1zM34 7h1v1h-1zM36 7h1v1h-1zM39 7h1v1h-1zM44 7h1v1h-1zM9 8h1v1h-1zM18 8h1v1h-1zM20 8h1v1h-1zM27 8h1v1h-1zM30 8h1v1h-1zM33 8h1v1h-1zM41 8h1v1h-1zM47 8h2v1h-2zM6 9h2v1h-2zM10 9h1v1h-1zM14 9h1v1h-1zM20 9h2v1h-2zM24 9h2v1h-2zM27 9h1v1h-1zM31 9h3v1h-3zM41 9h1v1h-1zM6 10h2v1h-2zM10 10h1v1h-1zM12 10h1v1h-1zM14 10h1v1h-1zM16 10h1v1h-1zM20 10h2v1h-2zM24 10h2v1h-2zM27 10h1v1h-1zM30 10h4v1h-4zM35 10h1v1h-1zM41 10h1v1h-1zM19 11h1v1h-1zM36 11h2v1h-2zM39 11h1v1h-1zM44 11h1v1h-1zM50 11h1v1h-1zM5 12h1v1h-1zM20 12h1v1h-1zM30 12h1v1h-1zM35 12h1v1h-1zM37 12h1v1h-1zM39 12h1v1h-1zM43 12h1v1h-1zM45 12h1v1h-1zM9 13h1v1h-1zM14 13h1v1h-1zM20 13h1v1h-1zM23 13h1v1h-1zM25 13h1v1h-1zM27 13h2v1h-2zM30 13h1v1h-1zM33 13h1v1h-1zM38 13h1v1h-1zM41 13h1v1h-1zM43 13h1v1h-1zM14 14h1v1h-1zM20 14h1v1h-1zM25 14h1v1h-1zM30 14h1v1h-1zM32 14h1v1h-1zM38 14h2v1h-2zM44 14h1v1h-1zM47 14h2v1h-2zM18 15h2v1h-2zM21 15h1v1h-1zM25 15h1v1h-1zM30 15h1v1h-1zM32 15h1v1h-1zM36 15h2v1h-2zM39 15h1v1h-1zM41 15h1v1h-1zM48 15h1v1h-1zM0 16h2v1h-2zM14 16h1v1h-1zM19 16h2v1h-2zM33 16h1v1h-1zM35 16h1v1h-1zM38 16h1v1h-1zM45 16h1v1h-1zM48 16h1v1h-1zM50 16h1v1h-1zM21 17h1v1h-1zM25 17h1v1h-1zM27 17h1v1h-1zM30 17h1v1h-1zM36 17h2v1h-2zM39 17h1v1h-1zM41 17h1v1h-1zM48 17h1v1h-1z"/><path fill="#3416ff" d="M40 0h1v1h-1zM46 0h2v1h-2zM50 0h1v1h-1zM22 1h1v1h-1zM39 1h1v1h-1zM3 2h1v1h-1zM6 2h1v1h-1zM22 2h1v1h-1zM34 3h1v1h-1zM42 3h1v1h-1zM7 4h1v1h-1zM19 4h1v1h-1zM24 4h1v1h-1zM26 4h1v1h-1zM30 4h1v1h-1zM35 4h3v1h-3zM41 4h1v1h-1zM52 4h1v1h-1zM13 5h1v1h-1zM30 5h1v1h-1zM34 5h2v1h-2zM37 5h3v1h-3zM44 5h1v1h-1zM48 5h1v1h-1zM50 5h1v1h-1zM5 6h1v1h-1zM9 6h1v1h-1zM22 6h1v1h-1zM30 6h1v1h-1zM34 6h2v1h-2zM37 6h3v1h-3zM44 6h2v1h-2zM48 6h1v1h-1zM50 6h1v1h-1zM19 7h1v1h-1zM28 7h1v1h-1zM42 7h1v1h-1zM46 7h1v1h-1zM51 7h2v1h-2zM14 8h1v1h-1zM34 8h2v1h-2zM37 8h2v1h-2zM44 8h1v1h-1zM11 9h3v1h-3zM16 9h1v1h-1zM19 9h1v1h-1zM23 9h1v1h-1zM30 9h1v1h-1zM35 9h1v1h-1zM43 9h1v1h-1zM1 10h1v1h-1zM5 10h1v1h-1zM13 10h1v1h-1zM22 10h2v1h-2zM43 10h2v1h-2zM26 11h1v1h-1zM34 11h1v1h-1zM42 11h1v1h-1zM19 12h1v1h-1zM34 12h1v1h-1zM36 12h1v1h-1zM42 12h1v1h-1zM44 12h1v1h-1zM5 13h1v1h-1zM35 13h1v1h-1zM37 13h1v1h-1zM39 13h1v1h-1zM19 14h1v1h-1zM26 14h2v1h-2zM29 14h1v1h-1zM33 14h3v1h-3zM37 14h1v1h-1zM42 14h1v1h-1zM1 15h1v1h-1zM13 15h1v1h-1zM16 15h1v1h-1zM20 15h1v1h-1zM24 15h1v1h-1zM27 15h3v1h-3zM33 15h1v1h-1zM35 15h1v1h-1zM43 15h1v1h-1zM45 15h1v1h-1zM50 15h1v1h-1zM52 15h1v1h-1zM26 16h2v1h-2zM40 16h1v1h-1zM43 16h2v1h-2zM52 16h1v1h-1zM20 17h1v1h-1zM33 17h1v1h-1zM35 17h1v1h-1zM38 17h1v1h-1zM42 17h3v1h-3z"/></g><path d="M24.50 508.10V614.66M29.61 508.10V614.66M34.71 508.10V614.66M39.82 508.10V614.66M44.92 508.10V614.66M50.02 508.10V614.66M55.13 508.10V614.66M60.23 508.10V614.66M65.34 508.10V614.66M70.44 508.10V614.66M75.54 508.10V614.66M80.65 508.10V614.66M85.75 508.10V614.66M90.86 508.10V614.66M95.96 508.10V614.66M101.06 508.10V614.66M106.17 508.10V614.66M111.27 508.10V614.66M116.38 508.10V614.66M121.48 508.10V614.66M126.58 508.10V614.66M131.69 508.10V614.66M136.79 508.10V614.66M141.90 508.10V614.66M147.00 508.10V614.66M152.10 508.10V614.66M157.21 508.10V614.66M162.31 508.10V614.66M167.42 508.10V614.66M172.52 508.10V614.66M177.62 508.10V614.66M182.73 508.10V614.66M187.83 508.10V614.66M192.94 508.10V614.66M198.04 508.10V614.66M203.14 508.10V614.66M208.25 508.10V614.66M213.35 508.10V614.66M218.46 508.10V614.66M223.56 508.10V614.66M228.66 508.10V614.66M233.77 508.10V614.66M238.87 508.10V614.66M243.98 508.10V614.66M249.08 508.10V614.66M254.18 508.10V614.66M259.29 508.10V614.66M264.39 508.10V614.66M269.50 508.10V614.66M274.60 508.10V614.66M279.70 508.10V614.66M284.81 508.10V614.66M19.40 514.02H289.91M19.40 519.94H289.91M19.40 525.86H289.91M19.40 531.78H289.91M19.40 537.70H289.91M19.40 543.62H289.91M19.40 549.54H289.91M19.40 555.46H289.91M19.40 561.38H289.91M19.40 567.30H289.91M19.40 573.22H289.91M19.40 579.14H289.91M19.40 585.06H289.91M19.40 590.98H289.91M19.40 596.90H289.91M19.40 602.82H289.91M19.40 608.74H289.91" stroke="#ffffff" stroke-opacity="0.2" stroke-width="0.6" fill="none"/><text x="6.2" y="635.8" font-size="12.8" font-weight="bold" fill="#000">I</text><text x="19.0" y="635.9" font-size="12.8" font-weight="bold" fill="#ff2a1a" textLength="33.3" lengthAdjust="spacingAndGlyphs">RBCs</text><rect x="18.3" y="637.2" width="147.7" height="8.2" fill="#f8f5ef"/><rect x="166.0" y="637.0" width="122.6" height="8.4" fill="#4b1170"/><text x="85.5" y="644.3" font-size="9.8" font-weight="bold" fill="#3a3a3a" textLength="25.2" lengthAdjust="spacingAndGlyphs">0 day</text><text x="217.3" y="644.3" font-size="9.8" font-weight="bold" fill="#fff" textLength="29.0" lengthAdjust="spacingAndGlyphs">14 day</text><g transform="translate(18.30 646.00) scale(5.0060 5.0000)" shape-rendering="crispEdges"><path fill="#5e4cff" d="M0 0h1v1h-1zM8 0h1v1h-1zM10 0h1v1h-1zM13 0h1v1h-1zM21 0h1v1h-1zM27 0h2v1h-2zM33 0h1v1h-1zM42 0h2v1h-2zM47 0h1v1h-1zM4 1h1v1h-1zM14 1h1v1h-1zM20 1h1v1h-1zM25 1h1v1h-1zM30 1h2v1h-2zM36 1h1v1h-1zM40 1h3v1h-3zM44 1h2v1h-2zM48 1h1v1h-1zM2 2h1v1h-1zM5 2h1v1h-1zM8 2h1v1h-1zM12 2h2v1h-2zM15 2h2v1h-2zM19 2h1v1h-1zM25 2h1v1h-1zM30 2h2v1h-2zM33 2h1v1h-1zM35 2h2v1h-2zM40 2h1v1h-1zM47 2h1v1h-1zM2 3h1v1h-1zM5 3h2v1h-2zM11 3h5v1h-5zM18 3h2v1h-2zM21 3h3v1h-3zM29 3h1v1h-1zM35 3h1v1h-1zM37 3h1v1h-1zM40 3h1v1h-1zM46 3h1v1h-1zM49 3h1v1h-1zM8 4h1v1h-1zM28 4h1v1h-1zM31 4h1v1h-1zM51 4h1v1h-1zM6 5h1v1h-1zM13 5h1v1h-1zM16 5h1v1h-1zM23 5h1v1h-1zM28 5h2v1h-2zM38 5h1v1h-1zM43 5h1v1h-1zM11 6h1v1h-1zM20 6h1v1h-1zM25 6h1v1h-1zM27 6h1v1h-1zM33 6h1v1h-1zM52 6h1v1h-1zM5 7h1v1h-1zM8 7h1v1h-1zM14 7h1v1h-1zM19 7h2v1h-2zM27 7h1v1h-1zM32 7h1v1h-1zM40 7h1v1h-1zM50 7h2v1h-2zM3 8h1v1h-1zM10 8h1v1h-1zM17 8h1v1h-1zM25 8h1v1h-1zM33 8h1v1h-1zM38 8h1v1h-1zM48 8h1v1h-1zM53 8h1v1h-1zM8 9h1v1h-1zM10 9h2v1h-2zM20 9h1v1h-1zM22 9h1v1h-1zM32 9h1v1h-1zM36 9h2v1h-2zM46 9h1v1h-1zM1 10h1v1h-1zM8 10h4v1h-4zM15 10h2v1h-2zM24 10h1v1h-1zM27 10h1v1h-1zM32 10h2v1h-2zM49 10h1v1h-1zM1 11h1v1h-1zM3 11h1v1h-1zM5 11h1v1h-1zM8 11h1v1h-1zM18 11h1v1h-1zM20 11h1v1h-1zM22 11h4v1h-4zM27 11h1v1h-1zM32 11h1v1h-1zM36 11h1v1h-1zM47 11h1v1h-1zM5 12h1v1h-1zM13 12h1v1h-1zM15 12h1v1h-1zM18 12h1v1h-1zM27 12h1v1h-1zM32 12h1v1h-1zM36 12h1v1h-1zM8 13h1v1h-1zM14 13h1v1h-1zM20 13h2v1h-2zM26 13h2v1h-2zM32 13h1v1h-1zM43 13h1v1h-1zM3 14h1v1h-1zM8 14h1v1h-1zM17 14h1v1h-1zM25 14h1v1h-1zM27 14h1v1h-1zM0 15h1v1h-1zM3 15h2v1h-2zM8 15h1v1h-1zM11 15h1v1h-1zM13 15h2v1h-2zM20 15h1v1h-1zM23 15h3v1h-3zM28 15h1v1h-1zM30 15h1v1h-1zM35 15h1v1h-1zM39 15h1v1h-1zM44 15h1v1h-1zM48 15h1v1h-1zM51 15h1v1h-1zM1 16h1v1h-1zM3 16h1v1h-1zM8 16h1v1h-1zM14 16h2v1h-2zM22 16h1v1h-1zM2 17h1v1h-1zM8 17h1v1h-1zM47 17h2v1h-2zM10 18h1v1h-1zM13 18h2v1h-2zM25 18h1v1h-1zM32 18h2v1h-2zM39 18h1v1h-1zM42 18h2v1h-2zM46 18h2v1h-2zM50 18h1v1h-1zM0 19h1v1h-1zM2 19h3v1h-3zM9 19h1v1h-1zM14 19h1v1h-1zM18 19h1v1h-1zM30 19h1v1h-1zM35 19h1v1h-1zM44 19h2v1h-2zM48 19h1v1h-1zM4 20h1v1h-1zM6 20h1v1h-1zM9 20h1v1h-1zM13 20h2v1h-2zM39 20h1v1h-1zM42 20h1v1h-1zM45 20h3v1h-3zM50 20h3v1h-3zM4 21h1v1h-1zM9 21h2v1h-2zM14 21h1v1h-1zM25 21h1v1h-1zM30 21h1v1h-1zM33 21h1v1h-1zM35 21h1v1h-1zM38 21h1v1h-1zM42 21h3v1h-3zM47 21h1v1h-1zM50 21h1v1h-1zM4 22h1v1h-1zM8 22h1v1h-1zM13 22h1v1h-1zM18 22h1v1h-1zM20 22h1v1h-1zM23 22h1v1h-1zM30 22h1v1h-1zM32 22h2v1h-2zM37 22h1v1h-1zM39 22h1v1h-1zM51 22h2v1h-2zM1 23h1v1h-1zM3 23h1v1h-1zM10 23h1v1h-1zM13 23h1v1h-1zM15 23h1v1h-1zM18 23h1v1h-1zM21 23h1v1h-1zM24 23h1v1h-1zM28 23h1v1h-1zM30 23h1v1h-1zM33 23h1v1h-1zM35 23h1v1h-1zM41 23h1v1h-1zM43 23h1v1h-1zM47 23h2v1h-2zM50 23h1v1h-1zM52 23h1v1h-1z"/><path fill="#f8cccb" d="M1 0h1v1h-1zM2 1h2v1h-2zM12 1h1v1h-1zM23 1h1v1h-1zM34 1h1v1h-1zM46 1h1v1h-1zM34 2h1v1h-1zM37 2h1v1h-1zM45 2h1v1h-1zM7 3h1v1h-1zM10 4h1v1h-1zM12 4h1v1h-1zM25 4h1v1h-1zM5 5h1v1h-1zM10 5h1v1h-1zM21 5h1v1h-1zM31 5h2v1h-2zM34 5h1v1h-1zM46 5h1v1h-1zM2 6h1v1h-1zM6 6h1v1h-1zM16 7h1v1h-1zM21 7h1v1h-1zM37 7h1v1h-1zM1 8h1v1h-1zM24 8h1v1h-1zM30 8h1v1h-1zM46 8h1v1h-1zM50 8h2v1h-2zM6 9h1v1h-1zM49 9h1v1h-1zM14 10h1v1h-1zM6 11h2v1h-2zM2 12h1v1h-1zM14 12h1v1h-1zM2 15h1v1h-1zM49 15h1v1h-1zM1 17h1v1h-1zM23 17h1v1h-1zM28 17h1v1h-1zM42 17h1v1h-1zM50 17h1v1h-1zM6 18h1v1h-1zM15 18h2v1h-2zM18 18h1v1h-1zM21 19h2v1h-2zM52 19h1v1h-1zM1 20h1v1h-1zM7 20h1v1h-1zM17 20h1v1h-1zM23 20h2v1h-2zM27 20h1v1h-1zM7 21h1v1h-1zM18 21h1v1h-1zM22 21h1v1h-1zM27 21h1v1h-1zM21 22h1v1h-1z"/><path fill="#9890fc" d="M2 0h1v1h-1zM6 0h1v1h-1zM12 0h1v1h-1zM14 0h1v1h-1zM23 0h1v1h-1zM26 0h1v1h-1zM37 0h1v1h-1zM46 0h1v1h-1zM51 0h1v1h-1zM0 1h1v1h-1zM6 1h1v1h-1zM9 1h3v1h-3zM13 1h1v1h-1zM18 1h1v1h-1zM28 1h1v1h-1zM33 1h1v1h-1zM35 1h1v1h-1zM39 1h1v1h-1zM50 1h1v1h-1zM1 2h1v1h-1zM10 2h2v1h-2zM26 2h4v1h-4zM39 2h1v1h-1zM42 2h1v1h-1zM44 2h1v1h-1zM48 2h1v1h-1zM52 2h1v1h-1zM3 3h1v1h-1zM10 3h1v1h-1zM17 3h1v1h-1zM26 3h1v1h-1zM34 3h1v1h-1zM51 3h1v1h-1zM7 4h1v1h-1zM11 4h1v1h-1zM13 4h1v1h-1zM20 4h2v1h-2zM3 5h1v1h-1zM14 5h1v1h-1zM18 5h1v1h-1zM24 5h1v1h-1zM36 5h1v1h-1zM39 5h1v1h-1zM47 5h1v1h-1zM51 5h2v1h-2zM1 6h1v1h-1zM4 6h1v1h-1zM13 6h1v1h-1zM21 6h1v1h-1zM46 6h1v1h-1zM0 7h1v1h-1zM3 7h1v1h-1zM9 7h1v1h-1zM28 7h2v1h-2zM33 7h1v1h-1zM42 7h1v1h-1zM45 7h1v1h-1zM18 8h1v1h-1zM21 8h2v1h-2zM36 8h1v1h-1zM39 8h1v1h-1zM13 9h1v1h-1zM18 9h2v1h-2zM21 9h1v1h-1zM23 9h4v1h-4zM3 10h1v1h-1zM5 10h1v1h-1zM18 10h1v1h-1zM41 10h1v1h-1zM16 11h2v1h-2zM3 12h2v1h-2zM6 12h1v1h-1zM16 12h2v1h-2zM15 13h1v1h-1zM17 13h1v1h-1zM25 13h1v1h-1zM49 13h1v1h-1zM16 14h1v1h-1zM26 14h1v1h-1zM49 14h1v1h-1zM1 15h1v1h-1zM12 15h1v1h-1zM17 15h2v1h-2zM21 15h1v1h-1zM33 15h1v1h-1zM41 15h1v1h-1zM43 15h1v1h-1zM45 15h2v1h-2zM17 16h1v1h-1zM0 17h1v1h-1zM3 17h1v1h-1zM12 17h1v1h-1zM20 17h1v1h-1zM25 17h1v1h-1zM30 17h1v1h-1zM35 17h1v1h-1zM39 17h1v1h-1zM44 17h1v1h-1zM1 18h1v1h-1zM11 18h1v1h-1zM21 18h1v1h-1zM23 18h1v1h-1zM28 18h1v1h-1zM30 18h1v1h-1zM35 18h1v1h-1zM51 18h1v1h-1zM10 19h1v1h-1zM15 19h1v1h-1zM17 19h1v1h-1zM24 19h1v1h-1zM39 19h1v1h-1zM42 19h1v1h-1zM46 19h1v1h-1zM51 19h1v1h-1zM11 20h2v1h-2zM20 20h1v1h-1zM25 20h1v1h-1zM29 20h1v1h-1zM33 20h1v1h-1zM41 20h1v1h-1zM0 21h1v1h-1zM3 21h1v1h-1zM13 21h1v1h-1zM20 21h1v1h-1zM41 21h1v1h-1zM46 21h1v1h-1zM51 21h2v1h-2zM2 22h1v1h-1zM7 22h1v1h-1zM11 22h2v1h-2zM15 22h1v1h-1zM24 22h1v1h-1zM46 22h1v1h-1zM6 23h1v1h-1zM14 23h1v1h-1zM16 23h1v1h-1zM29 23h1v1h-1zM34 23h1v1h-1zM44 23h3v1h-3z"/><path fill="#c8c4fa" d="M3 0h1v1h-1zM15 0h1v1h-1zM18 0h1v1h-1zM29 0h1v1h-1zM34 0h1v1h-1zM21 1h1v1h-1zM37 1h1v1h-1zM47 1h1v1h-1zM6 2h1v1h-1zM14 2h1v1h-1zM21 2h1v1h-1zM41 2h1v1h-1zM50 2h1v1h-1zM6 4h1v1h-1zM9 4h1v1h-1zM17 4h1v1h-1zM9 5h1v1h-1zM17 5h1v1h-1zM40 5h1v1h-1zM42 5h1v1h-1zM45 5h1v1h-1zM3 6h1v1h-1zM14 6h1v1h-1zM17 6h2v1h-2zM22 6h1v1h-1zM26 6h1v1h-1zM34 6h1v1h-1zM37 6h1v1h-1zM11 7h2v1h-2zM23 7h1v1h-1zM25 7h2v1h-2zM34 7h1v1h-1zM46 7h1v1h-1zM5 8h1v1h-1zM15 8h1v1h-1zM23 8h1v1h-1zM44 8h1v1h-1zM47 8h1v1h-1zM3 9h3v1h-3zM16 9h2v1h-2zM27 9h1v1h-1zM7 10h1v1h-1zM21 10h1v1h-1zM25 10h2v1h-2zM4 11h1v1h-1zM15 11h1v1h-1zM26 11h1v1h-1zM7 12h1v1h-1zM26 12h1v1h-1zM49 12h1v1h-1zM6 13h1v1h-1zM12 13h1v1h-1zM6 14h1v1h-1zM15 14h1v1h-1zM37 15h1v1h-1zM42 15h1v1h-1zM47 15h1v1h-1zM12 16h1v1h-1zM49 16h1v1h-1zM6 17h1v1h-1zM10 17h2v1h-2zM14 17h1v1h-1zM17 17h2v1h-2zM21 17h1v1h-1zM24 17h1v1h-1zM33 17h1v1h-1zM37 17h1v1h-1zM43 17h1v1h-1zM45 17h2v1h-2zM2 18h2v1h-2zM8 18h1v1h-1zM12 18h1v1h-1zM17 18h1v1h-1zM20 18h1v1h-1zM24 18h1v1h-1zM37 18h1v1h-1zM41 18h1v1h-1zM45 18h1v1h-1zM52 18h1v1h-1zM6 19h1v1h-1zM8 19h1v1h-1zM11 19h3v1h-3zM20 19h1v1h-1zM23 19h1v1h-1zM25 19h1v1h-1zM41 19h1v1h-1zM10 20h1v1h-1zM18 20h1v1h-1zM21 20h1v1h-1zM28 20h1v1h-1zM34 20h1v1h-1zM37 20h1v1h-1zM11 21h2v1h-2zM17 21h1v1h-1zM23 21h1v1h-1zM28 21h2v1h-2zM39 21h1v1h-1zM45 21h1v1h-1zM1 22h1v1h-1zM27 22h1v1h-1zM37 23h1v1h-1z"/><path fill="#3416ff" d="M4 0h2v1h-2zM11 0h1v1h-1zM17 0h1v1h-1zM19 0h1v1h-1zM32 0h1v1h-1zM36 0h1v1h-1zM39 0h1v1h-1zM45 0h1v1h-1zM48 0h1v1h-1zM38 1h1v1h-1zM52 1h1v1h-1zM4 2h1v1h-1zM22 2h1v1h-1zM32 2h1v1h-1zM38 2h1v1h-1zM43 2h1v1h-1zM49 2h1v1h-1zM53 2h1v1h-1zM4 3h1v1h-1zM20 3h1v1h-1zM25 3h1v1h-1zM28 3h1v1h-1zM32 3h2v1h-2zM39 3h1v1h-1zM43 3h3v1h-3zM47 3h2v1h-2zM50 3h1v1h-1zM52 3h1v1h-1zM3 4h1v1h-1zM5 4h1v1h-1zM14 4h1v1h-1zM18 4h1v1h-1zM29 4h2v1h-2zM33 4h1v1h-1zM35 4h1v1h-1zM37 4h1v1h-1zM39 4h2v1h-2zM42 4h2v1h-2zM47 4h1v1h-1zM50 4h1v1h-1zM52 4h1v1h-1zM2 5h1v1h-1zM11 5h1v1h-1zM15 5h1v1h-1zM0 6h1v1h-1zM8 6h1v1h-1zM23 6h1v1h-1zM29 6h2v1h-2zM32 6h1v1h-1zM40 6h1v1h-1zM42 6h2v1h-2zM45 6h1v1h-1zM48 6h1v1h-1zM50 6h2v1h-2zM31 7h1v1h-1zM39 7h1v1h-1zM41 7h1v1h-1zM48 7h1v1h-1zM0 8h1v1h-1zM7 8h1v1h-1zM26 8h1v1h-1zM34 8h2v1h-2zM37 8h1v1h-1zM49 8h1v1h-1zM0 9h2v1h-2zM9 9h1v1h-1zM29 9h3v1h-3zM33 9h3v1h-3zM39 9h2v1h-2zM43 9h1v1h-1zM45 9h1v1h-1zM47 9h2v1h-2zM53 9h1v1h-1zM4 10h1v1h-1zM22 10h1v1h-1zM29 10h2v1h-2zM34 10h1v1h-1zM36 10h2v1h-2zM44 10h1v1h-1zM46 10h2v1h-2zM10 11h2v1h-2zM13 11h1v1h-1zM19 11h1v1h-1zM21 11h1v1h-1zM29 11h1v1h-1zM33 11h2v1h-2zM39 11h1v1h-1zM41 11h1v1h-1zM45 11h1v1h-1zM1 12h1v1h-1zM10 12h2v1h-2zM19 12h1v1h-1zM21 12h5v1h-5zM30 12h1v1h-1zM34 12h1v1h-1zM38 12h1v1h-1zM41 12h1v1h-1zM44 12h1v1h-1zM46 12h2v1h-2zM1 13h1v1h-1zM3 13h1v1h-1zM10 13h2v1h-2zM13 13h1v1h-1zM18 13h1v1h-1zM22 13h1v1h-1zM24 13h1v1h-1zM30 13h2v1h-2zM33 13h3v1h-3zM37 13h1v1h-1zM39 13h2v1h-2zM42 13h1v1h-1zM45 13h1v1h-1zM1 14h1v1h-1zM5 14h1v1h-1zM10 14h2v1h-2zM13 14h1v1h-1zM18 14h1v1h-1zM21 14h4v1h-4zM30 14h1v1h-1zM32 14h1v1h-1zM35 14h2v1h-2zM40 14h2v1h-2zM46 14h2v1h-2zM10 15h1v1h-1zM26 15h1v1h-1zM31 15h2v1h-2zM10 16h1v1h-1zM13 16h1v1h-1zM21 16h1v1h-1zM24 16h3v1h-3zM30 16h1v1h-1zM32 16h1v1h-1zM37 16h1v1h-1zM39 16h1v1h-1zM43 16h1v1h-1zM47 16h1v1h-1zM4 17h1v1h-1zM13 17h1v1h-1zM31 17h2v1h-2zM36 17h1v1h-1zM4 18h1v1h-1zM9 18h1v1h-1zM31 18h1v1h-1zM36 18h1v1h-1zM44 18h1v1h-1zM32 19h1v1h-1zM36 19h1v1h-1zM40 19h1v1h-1zM47 19h1v1h-1zM2 20h2v1h-2zM8 20h1v1h-1zM30 20h3v1h-3zM35 20h2v1h-2zM43 20h1v1h-1zM48 20h1v1h-1zM2 21h1v1h-1zM6 21h1v1h-1zM31 21h2v1h-2zM36 21h1v1h-1zM48 21h1v1h-1zM3 22h1v1h-1zM10 22h1v1h-1zM14 22h1v1h-1zM19 22h1v1h-1zM26 22h1v1h-1zM31 22h1v1h-1zM35 22h1v1h-1zM42 22h2v1h-2zM47 22h2v1h-2zM2 23h1v1h-1zM5 23h1v1h-1zM9 23h1v1h-1zM12 23h1v1h-1zM23 23h1v1h-1zM26 23h2v1h-2zM32 23h1v1h-1zM39 23h1v1h-1zM51 23h1v1h-1zM53 23h1v1h-1z"/><path fill="#f27c7a" d="M7 0h1v1h-1zM1 1h1v1h-1zM7 1h1v1h-1zM16 1h1v1h-1zM24 1h1v1h-1zM27 1h1v1h-1zM29 1h1v1h-1zM7 2h1v1h-1zM46 2h1v1h-1zM0 4h1v1h-1zM4 4h1v1h-1zM15 4h2v1h-2zM22 4h2v1h-2zM49 4h1v1h-1zM7 5h1v1h-1zM26 5h1v1h-1zM48 5h1v1h-1zM53 5h1v1h-1zM24 6h1v1h-1zM1 7h2v1h-2zM4 7h1v1h-1zM13 7h1v1h-1zM15 7h1v1h-1zM22 7h1v1h-1zM13 8h1v1h-1zM19 8h2v1h-2zM28 8h1v1h-1zM31 8h1v1h-1zM42 8h1v1h-1zM2 9h1v1h-1zM7 9h1v1h-1zM13 10h1v1h-1zM2 11h1v1h-1zM14 11h1v1h-1zM49 11h1v1h-1zM2 13h1v1h-1zM4 13h1v1h-1zM16 13h1v1h-1zM7 14h1v1h-1zM7 15h1v1h-1zM15 15h1v1h-1zM29 15h1v1h-1zM34 15h1v1h-1zM16 16h1v1h-1zM7 17h1v1h-1zM15 17h1v1h-1zM29 17h1v1h-1zM34 17h1v1h-1zM52 17h1v1h-1zM7 18h1v1h-1zM22 18h1v1h-1zM1 19h1v1h-1zM33 19h2v1h-2zM16 21h1v1h-1zM49 21h1v1h-1zM6 22h1v1h-1zM41 22h1v1h-1zM22 23h1v1h-1z"/><path fill="#0800f8" d="M9 0h1v1h-1zM20 0h1v1h-1zM25 0h1v1h-1zM30 0h2v1h-2zM35 0h1v1h-1zM38 0h1v1h-1zM40 0h2v1h-2zM44 0h1v1h-1zM50 0h1v1h-1zM52 0h2v1h-2zM5 1h1v1h-1zM8 1h1v1h-1zM19 1h1v1h-1zM26 1h1v1h-1zM32 1h1v1h-1zM43 1h1v1h-1zM53 1h1v1h-1zM0 2h1v1h-1zM9 2h1v1h-1zM20 2h1v1h-1zM23 2h1v1h-1zM0 3h1v1h-1zM8 3h2v1h-2zM27 3h1v1h-1zM30 3h2v1h-2zM36 3h1v1h-1zM38 3h1v1h-1zM41 3h2v1h-2zM53 3h1v1h-1zM19 4h1v1h-1zM26 4h2v1h-2zM32 4h1v1h-1zM34 4h1v1h-1zM36 4h1v1h-1zM38 4h1v1h-1zM41 4h1v1h-1zM44 4h3v1h-3zM48 4h1v1h-1zM53 4h1v1h-1zM0 5h2v1h-2zM12 5h1v1h-1zM22 5h1v1h-1zM27 5h1v1h-1zM49 5h1v1h-1zM5 6h1v1h-1zM9 6h1v1h-1zM19 6h1v1h-1zM28 6h1v1h-1zM31 6h1v1h-1zM35 6h2v1h-2zM38 6h2v1h-2zM41 6h1v1h-1zM44 6h1v1h-1zM47 6h1v1h-1zM53 6h1v1h-1zM30 7h1v1h-1zM35 7h2v1h-2zM38 7h1v1h-1zM43 7h2v1h-2zM47 7h1v1h-1zM52 7h2v1h-2zM2 8h1v1h-1zM6 8h1v1h-1zM8 8h1v1h-1zM11 8h2v1h-2zM14 8h1v1h-1zM16 8h1v1h-1zM27 8h1v1h-1zM29 8h1v1h-1zM41 8h1v1h-1zM43 8h1v1h-1zM52 8h1v1h-1zM28 9h1v1h-1zM38 9h1v1h-1zM41 9h2v1h-2zM44 9h1v1h-1zM50 9h3v1h-3zM0 10h1v1h-1zM19 10h2v1h-2zM23 10h1v1h-1zM28 10h1v1h-1zM31 10h1v1h-1zM35 10h1v1h-1zM38 10h3v1h-3zM42 10h2v1h-2zM45 10h1v1h-1zM48 10h1v1h-1zM50 10h4v1h-4zM0 11h1v1h-1zM9 11h1v1h-1zM28 11h1v1h-1zM30 11h2v1h-2zM35 11h1v1h-1zM37 11h2v1h-2zM40 11h1v1h-1zM42 11h3v1h-3zM46 11h1v1h-1zM48 11h1v1h-1zM50 11h4v1h-4zM0 12h1v1h-1zM8 12h2v1h-2zM20 12h1v1h-1zM28 12h2v1h-2zM31 12h1v1h-1zM33 12h1v1h-1zM35 12h1v1h-1zM37 12h1v1h-1zM39 12h2v1h-2zM42 12h2v1h-2zM45 12h1v1h-1zM48 12h1v1h-1zM50 12h4v1h-4zM0 13h1v1h-1zM5 13h1v1h-1zM9 13h1v1h-1zM19 13h1v1h-1zM23 13h1v1h-1zM28 13h2v1h-2zM36 13h1v1h-1zM38 13h1v1h-1zM41 13h1v1h-1zM44 13h1v1h-1zM46 13h3v1h-3zM50 13h4v1h-4zM0 14h1v1h-1zM9 14h1v1h-1zM19 14h2v1h-2zM28 14h2v1h-2zM31 14h1v1h-1zM33 14h2v1h-2zM37 14h3v1h-3zM42 14h4v1h-4zM48 14h1v1h-1zM50 14h4v1h-4zM5 15h1v1h-1zM9 15h1v1h-1zM19 15h1v1h-1zM36 15h1v1h-1zM38 15h1v1h-1zM40 15h1v1h-1zM53 15h1v1h-1zM0 16h1v1h-1zM5 16h1v1h-1zM9 16h1v1h-1zM11 16h1v1h-1zM18 16h3v1h-3zM23 16h1v1h-1zM27 16h3v1h-3zM31 16h1v1h-1zM33 16h4v1h-4zM38 16h1v1h-1zM40 16h3v1h-3zM44 16h3v1h-3zM48 16h1v1h-1zM50 16h4v1h-4zM5 17h1v1h-1zM9 17h1v1h-1zM19 17h1v1h-1zM26 17h1v1h-1zM38 17h1v1h-1zM40 17h1v1h-1zM53 17h1v1h-1zM5 18h1v1h-1zM19 18h1v1h-1zM26 18h1v1h-1zM38 18h1v1h-1zM40 18h1v1h-1zM48 18h1v1h-1zM53 18h1v1h-1zM5 19h1v1h-1zM19 19h1v1h-1zM26 19h1v1h-1zM31 19h1v1h-1zM38 19h1v1h-1zM53 19h1v1h-1zM5 20h1v1h-1zM19 20h1v1h-1zM26 20h1v1h-1zM38 20h1v1h-1zM40 20h1v1h-1zM44 20h1v1h-1zM53 20h1v1h-1zM5 21h1v1h-1zM8 21h1v1h-1zM19 21h1v1h-1zM26 21h1v1h-1zM40 21h1v1h-1zM53 21h1v1h-1zM5 22h1v1h-1zM9 22h1v1h-1zM25 22h1v1h-1zM36 22h1v1h-1zM38 22h1v1h-1zM40 22h1v1h-1zM44 22h2v1h-2zM50 22h1v1h-1zM53 22h1v1h-1zM0 23h1v1h-1zM4 23h1v1h-1zM8 23h1v1h-1zM11 23h1v1h-1zM17 23h1v1h-1zM19 23h2v1h-2zM25 23h1v1h-1zM31 23h1v1h-1zM36 23h1v1h-1zM38 23h1v1h-1zM40 23h1v1h-1zM42 23h1v1h-1z"/><path fill="#faf0f0" d="M16 0h1v1h-1zM24 0h1v1h-1zM17 1h1v1h-1zM51 1h1v1h-1zM3 2h1v1h-1zM24 2h1v1h-1zM51 2h1v1h-1zM1 3h1v1h-1zM16 3h1v1h-1zM2 4h1v1h-1zM4 5h1v1h-1zM20 5h1v1h-1zM25 5h1v1h-1zM30 5h1v1h-1zM33 5h1v1h-1zM37 5h1v1h-1zM41 5h1v1h-1zM44 5h1v1h-1zM50 5h1v1h-1zM10 6h1v1h-1zM12 6h1v1h-1zM15 6h2v1h-2zM49 6h1v1h-1zM6 7h1v1h-1zM18 7h1v1h-1zM4 8h1v1h-1zM9 8h1v1h-1zM32 8h1v1h-1zM45 8h1v1h-1zM15 9h1v1h-1zM2 10h1v1h-1zM17 10h1v1h-1zM4 14h1v1h-1zM12 14h1v1h-1zM14 14h1v1h-1zM6 15h1v1h-1zM22 15h1v1h-1zM50 15h1v1h-1zM52 15h1v1h-1zM4 16h1v1h-1zM6 16h1v1h-1zM41 17h1v1h-1zM51 17h1v1h-1zM0 18h1v1h-1zM29 18h1v1h-1zM34 18h1v1h-1zM7 19h1v1h-1zM27 19h3v1h-3zM37 19h1v1h-1zM43 19h1v1h-1zM50 19h1v1h-1zM0 20h1v1h-1zM15 20h1v1h-1zM1 21h1v1h-1zM15 21h1v1h-1zM21 21h1v1h-1zM24 21h1v1h-1zM37 21h1v1h-1zM16 22h2v1h-2zM28 22h1v1h-1zM49 22h1v1h-1zM7 23h1v1h-1z"/><path fill="#ff1e0c" d="M22 0h1v1h-1zM49 0h1v1h-1zM15 1h1v1h-1zM22 1h1v1h-1zM49 1h1v1h-1zM17 2h2v1h-2zM24 3h1v1h-1zM1 4h1v1h-1zM24 4h1v1h-1zM8 5h1v1h-1zM19 5h1v1h-1zM35 5h1v1h-1zM7 6h1v1h-1zM7 7h1v1h-1zM10 7h1v1h-1zM17 7h1v1h-1zM24 7h1v1h-1zM49 7h1v1h-1zM40 8h1v1h-1zM12 9h1v1h-1zM14 9h1v1h-1zM6 10h1v1h-1zM12 10h1v1h-1zM12 11h1v1h-1zM12 12h1v1h-1zM7 13h1v1h-1zM2 14h1v1h-1zM16 15h1v1h-1zM27 15h1v1h-1zM2 16h1v1h-1zM7 16h1v1h-1zM16 17h1v1h-1zM22 17h1v1h-1zM27 17h1v1h-1zM49 17h1v1h-1zM27 18h1v1h-1zM49 18h1v1h-1zM16 19h1v1h-1zM49 19h1v1h-1zM16 20h1v1h-1zM22 20h1v1h-1zM49 20h1v1h-1zM34 21h1v1h-1zM0 22h1v1h-1zM22 22h1v1h-1zM29 22h1v1h-1zM34 22h1v1h-1zM49 23h1v1h-1z"/></g><path d="M23.31 646.00V766.00M28.31 646.00V766.00M33.32 646.00V766.00M38.32 646.00V766.00M43.33 646.00V766.00M48.34 646.00V766.00M53.34 646.00V766.00M58.35 646.00V766.00M63.35 646.00V766.00M68.36 646.00V766.00M73.37 646.00V766.00M78.37 646.00V766.00M83.38 646.00V766.00M88.38 646.00V766.00M93.39 646.00V766.00M98.40 646.00V766.00M103.40 646.00V766.00M108.41 646.00V766.00M113.41 646.00V766.00M118.42 646.00V766.00M123.43 646.00V766.00M128.43 646.00V766.00M133.44 646.00V766.00M138.44 646.00V766.00M143.45 646.00V766.00M148.46 646.00V766.00M153.46 646.00V766.00M158.47 646.00V766.00M163.47 646.00V766.00M168.48 646.00V766.00M173.49 646.00V766.00M178.49 646.00V766.00M183.50 646.00V766.00M188.50 646.00V766.00M193.51 646.00V766.00M198.52 646.00V766.00M203.52 646.00V766.00M208.53 646.00V766.00M213.53 646.00V766.00M218.54 646.00V766.00M223.55 646.00V766.00M228.55 646.00V766.00M233.56 646.00V766.00M238.56 646.00V766.00M243.57 646.00V766.00M248.58 646.00V766.00M253.58 646.00V766.00M258.59 646.00V766.00M263.59 646.00V766.00M268.60 646.00V766.00M273.61 646.00V766.00M278.61 646.00V766.00M283.62 646.00V766.00M18.30 651.00H288.62M18.30 656.00H288.62M18.30 661.00H288.62M18.30 666.00H288.62M18.30 671.00H288.62M18.30 676.00H288.62M18.30 681.00H288.62M18.30 686.00H288.62M18.30 691.00H288.62M18.30 696.00H288.62M18.30 701.00H288.62M18.30 706.00H288.62M18.30 711.00H288.62M18.30 716.00H288.62M18.30 721.00H288.62M18.30 726.00H288.62M18.30 731.00H288.62M18.30 736.00H288.62M18.30 741.00H288.62M18.30 746.00H288.62M18.30 751.00H288.62M18.30 756.00H288.62M18.30 761.00H288.62" stroke="#ffffff" stroke-opacity="0.2" stroke-width="0.6" fill="none"/><g transform="translate(18.05 772.30) scale(5.0000 5.0000)" shape-rendering="crispEdges"><path fill="#3416ff" d="M0 0h1v1h-1zM3 0h1v1h-1zM6 0h1v1h-1zM15 0h1v1h-1zM17 0h3v1h-3zM23 0h2v1h-2zM26 0h1v1h-1zM30 0h2v1h-2zM33 0h1v1h-1zM35 0h1v1h-1zM39 0h1v1h-1zM41 0h2v1h-2zM49 0h1v1h-1zM1 2h1v1h-1zM4 2h1v1h-1zM20 2h1v1h-1zM30 2h2v1h-2zM34 2h1v1h-1zM36 2h1v1h-1zM38 2h2v1h-2zM44 2h2v1h-2zM52 2h1v1h-1zM0 3h1v1h-1zM2 3h2v1h-2zM5 3h1v1h-1zM8 3h1v1h-1zM10 3h2v1h-2zM13 3h2v1h-2zM16 3h1v1h-1zM19 3h1v1h-1zM21 3h5v1h-5zM29 3h5v1h-5zM35 3h2v1h-2zM38 3h2v1h-2zM42 3h4v1h-4zM51 3h3v1h-3zM2 4h1v1h-1zM16 4h1v1h-1zM21 4h1v1h-1zM24 4h1v1h-1zM43 4h1v1h-1zM48 4h1v1h-1zM3 5h2v1h-2zM16 5h1v1h-1zM23 5h1v1h-1zM27 5h1v1h-1zM30 5h1v1h-1zM36 5h3v1h-3zM44 5h2v1h-2zM52 5h1v1h-1zM4 6h1v1h-1zM21 6h5v1h-5zM27 6h1v1h-1zM30 6h3v1h-3zM34 6h4v1h-4zM50 6h1v1h-1zM3 7h1v1h-1zM21 7h1v1h-1zM25 7h1v1h-1zM30 7h1v1h-1zM34 7h1v1h-1zM37 7h1v1h-1zM40 7h1v1h-1zM47 7h1v1h-1zM25 8h1v1h-1zM45 8h2v1h-2zM10 9h1v1h-1zM16 9h1v1h-1zM28 9h2v1h-2zM33 9h1v1h-1zM5 10h1v1h-1zM17 10h1v1h-1zM22 10h5v1h-5zM36 10h1v1h-1zM38 10h1v1h-1zM42 10h1v1h-1zM1 11h1v1h-1zM3 11h1v1h-1zM31 11h1v1h-1zM40 11h1v1h-1zM42 11h1v1h-1zM50 11h1v1h-1zM20 12h1v1h-1zM29 12h1v1h-1zM31 12h1v1h-1zM52 12h1v1h-1zM4 13h1v1h-1zM13 13h1v1h-1zM15 13h1v1h-1zM17 13h3v1h-3zM21 13h1v1h-1zM24 13h1v1h-1zM26 13h1v1h-1zM30 13h2v1h-2zM36 13h2v1h-2zM1 14h1v1h-1zM20 14h1v1h-1zM42 14h1v1h-1zM50 14h2v1h-2zM0 15h1v1h-1zM4 15h1v1h-1zM6 15h1v1h-1zM15 15h1v1h-1zM19 15h1v1h-1zM26 15h1v1h-1zM35 15h1v1h-1zM42 15h1v1h-1zM50 15h1v1h-1zM52 15h1v1h-1zM5 16h1v1h-1zM15 16h1v1h-1zM28 16h1v1h-1zM35 16h2v1h-2zM38 16h1v1h-1zM44 16h2v1h-2zM48 16h1v1h-1zM52 16h1v1h-1zM8 17h1v1h-1zM17 17h1v1h-1zM22 17h2v1h-2zM25 17h2v1h-2zM31 17h2v1h-2zM0 18h1v1h-1zM5 18h2v1h-2zM18 18h4v1h-4zM25 18h2v1h-2zM29 18h2v1h-2zM35 18h1v1h-1zM44 18h1v1h-1zM47 18h1v1h-1zM50 18h1v1h-1zM0 19h1v1h-1zM6 19h1v1h-1zM26 19h1v1h-1zM35 19h1v1h-1zM42 19h1v1h-1zM50 19h1v1h-1zM52 19h1v1h-1zM6 20h1v1h-1zM21 20h1v1h-1zM35 20h2v1h-2zM44 20h2v1h-2zM50 20h1v1h-1zM52 20h1v1h-1z"/><path fill="#0800f8" d="M1 0h1v1h-1zM4 0h2v1h-2zM7 0h8v1h-8zM16 0h1v1h-1zM20 0h3v1h-3zM25 0h1v1h-1zM28 0h2v1h-2zM32 0h1v1h-1zM36 0h1v1h-1zM38 0h1v1h-1zM46 0h3v1h-3zM50 0h1v1h-1zM4 1h1v1h-1zM15 1h1v1h-1zM20 1h1v1h-1zM13 2h1v1h-1zM18 2h1v1h-1zM26 2h1v1h-1zM28 2h1v1h-1zM37 2h1v1h-1zM1 3h1v1h-1zM4 3h1v1h-1zM6 3h2v1h-2zM9 3h1v1h-1zM12 3h1v1h-1zM15 3h1v1h-1zM17 3h2v1h-2zM20 3h1v1h-1zM26 3h1v1h-1zM48 3h1v1h-1zM1 4h1v1h-1zM4 4h1v1h-1zM6 4h1v1h-1zM13 4h1v1h-1zM18 4h3v1h-3zM26 4h1v1h-1zM1 5h2v1h-2zM6 5h1v1h-1zM13 5h1v1h-1zM18 5h4v1h-4zM24 5h1v1h-1zM26 5h1v1h-1zM39 5h5v1h-5zM46 5h6v1h-6zM1 6h3v1h-3zM6 6h1v1h-1zM13 6h1v1h-1zM18 6h3v1h-3zM26 6h1v1h-1zM38 6h12v1h-12zM51 6h2v1h-2zM1 7h2v1h-2zM6 7h1v1h-1zM18 7h1v1h-1zM20 7h1v1h-1zM27 7h1v1h-1zM38 7h1v1h-1zM44 7h1v1h-1zM48 7h1v1h-1zM51 7h1v1h-1zM6 8h1v1h-1zM27 8h1v1h-1zM44 8h1v1h-1zM47 8h1v1h-1zM1 9h6v1h-6zM13 9h1v1h-1zM15 9h1v1h-1zM17 9h11v1h-11zM30 9h3v1h-3zM34 9h19v1h-19zM1 10h4v1h-4zM6 10h1v1h-1zM13 10h1v1h-1zM18 10h1v1h-1zM20 10h2v1h-2zM27 10h1v1h-1zM30 10h2v1h-2zM34 10h2v1h-2zM40 10h2v1h-2zM43 10h10v1h-10zM6 11h1v1h-1zM27 11h1v1h-1zM41 11h1v1h-1zM43 11h7v1h-7zM51 11h2v1h-2zM1 12h3v1h-3zM6 12h1v1h-1zM27 12h1v1h-1zM41 12h11v1h-11zM1 13h3v1h-3zM6 13h1v1h-1zM20 13h1v1h-1zM27 13h1v1h-1zM35 13h1v1h-1zM41 13h12v1h-12zM3 14h1v1h-1zM6 14h1v1h-1zM27 14h1v1h-1zM29 14h2v1h-2zM41 14h1v1h-1zM43 14h1v1h-1zM48 14h1v1h-1zM1 15h3v1h-3zM5 15h1v1h-1zM21 15h1v1h-1zM27 15h1v1h-1zM41 15h1v1h-1zM48 15h1v1h-1zM51 15h1v1h-1zM1 16h3v1h-3zM6 16h1v1h-1zM21 16h1v1h-1zM27 16h1v1h-1zM41 16h3v1h-3zM46 16h2v1h-2zM50 16h2v1h-2zM1 17h6v1h-6zM13 17h2v1h-2zM16 17h1v1h-1zM18 17h1v1h-1zM20 17h2v1h-2zM24 17h1v1h-1zM27 17h4v1h-4zM33 17h8v1h-8zM42 17h12v1h-12zM1 18h4v1h-4zM15 18h1v1h-1zM22 18h3v1h-3zM27 18h1v1h-1zM31 18h1v1h-1zM33 18h1v1h-1zM37 18h1v1h-1zM41 18h3v1h-3zM45 18h2v1h-2zM48 18h1v1h-1zM51 18h1v1h-1zM1 19h3v1h-3zM5 19h1v1h-1zM21 19h1v1h-1zM27 19h1v1h-1zM41 19h1v1h-1zM48 19h1v1h-1zM51 19h1v1h-1zM0 20h4v1h-4zM27 20h1v1h-1zM29 20h3v1h-3zM37 20h1v1h-1zM41 20h3v1h-3zM46 20h3v1h-3zM51 20h1v1h-1z"/><path fill="#c8c4fa" d="M2 0h1v1h-1zM51 0h1v1h-1zM1 1h1v1h-1zM3 1h1v1h-1zM6 1h2v1h-2zM12 1h2v1h-2zM21 1h2v1h-2zM26 1h1v1h-1zM10 2h1v1h-1zM53 2h1v1h-1zM8 4h2v1h-2zM14 4h1v1h-1zM35 4h1v1h-1zM8 5h1v1h-1zM10 5h1v1h-1zM11 6h1v1h-1zM14 6h1v1h-1zM0 7h1v1h-1zM5 7h1v1h-1zM16 7h1v1h-1zM28 7h1v1h-1zM14 8h1v1h-1zM16 8h1v1h-1zM20 8h1v1h-1zM33 8h1v1h-1zM42 8h1v1h-1zM49 8h1v1h-1zM0 10h1v1h-1zM14 10h1v1h-1zM11 11h1v1h-1zM14 11h1v1h-1zM16 11h1v1h-1zM19 11h1v1h-1zM23 11h2v1h-2zM26 11h1v1h-1zM14 12h1v1h-1zM16 12h1v1h-1zM23 12h1v1h-1zM11 13h1v1h-1zM23 13h1v1h-1zM53 13h1v1h-1zM10 14h1v1h-1zM12 14h1v1h-1zM38 14h1v1h-1zM40 14h1v1h-1zM38 15h1v1h-1zM46 15h1v1h-1zM14 16h1v1h-1zM23 16h2v1h-2zM33 16h1v1h-1zM7 17h1v1h-1zM7 18h1v1h-1zM9 18h1v1h-1zM38 19h1v1h-1zM46 19h1v1h-1zM10 20h1v1h-1zM39 20h1v1h-1z"/><path fill="#5e4cff" d="M27 0h1v1h-1zM34 0h1v1h-1zM37 0h1v1h-1zM40 0h1v1h-1zM44 0h1v1h-1zM53 0h1v1h-1zM19 1h1v1h-1zM0 2h1v1h-1zM2 2h2v1h-2zM5 2h2v1h-2zM12 2h1v1h-1zM16 2h2v1h-2zM19 2h1v1h-1zM21 2h1v1h-1zM23 2h2v1h-2zM32 2h1v1h-1zM40 2h4v1h-4zM46 2h3v1h-3zM50 2h2v1h-2zM28 3h1v1h-1zM34 3h1v1h-1zM37 3h1v1h-1zM40 3h2v1h-2zM46 3h2v1h-2zM49 3h2v1h-2zM0 4h1v1h-1zM3 4h1v1h-1zM5 4h1v1h-1zM12 4h1v1h-1zM15 4h1v1h-1zM17 4h1v1h-1zM23 4h1v1h-1zM29 4h4v1h-4zM34 4h1v1h-1zM36 4h2v1h-2zM39 4h4v1h-4zM44 4h2v1h-2zM47 4h1v1h-1zM49 4h4v1h-4zM0 5h1v1h-1zM5 5h1v1h-1zM15 5h1v1h-1zM17 5h1v1h-1zM22 5h1v1h-1zM25 5h1v1h-1zM28 5h2v1h-2zM31 5h2v1h-2zM34 5h2v1h-2zM53 5h1v1h-1zM5 6h1v1h-1zM15 6h3v1h-3zM28 6h2v1h-2zM33 6h1v1h-1zM13 7h1v1h-1zM26 7h1v1h-1zM29 7h1v1h-1zM31 7h2v1h-2zM35 7h2v1h-2zM41 7h1v1h-1zM43 7h1v1h-1zM45 7h2v1h-2zM50 7h1v1h-1zM2 8h2v1h-2zM32 8h1v1h-1zM36 8h1v1h-1zM39 8h2v1h-2zM43 8h1v1h-1zM48 8h1v1h-1zM0 9h1v1h-1zM9 9h1v1h-1zM11 9h2v1h-2zM14 9h1v1h-1zM53 9h1v1h-1zM10 10h1v1h-1zM15 10h1v1h-1zM19 10h1v1h-1zM28 10h2v1h-2zM32 10h1v1h-1zM37 10h1v1h-1zM39 10h1v1h-1zM2 11h1v1h-1zM13 11h1v1h-1zM18 11h1v1h-1zM20 11h2v1h-2zM28 11h3v1h-3zM32 11h1v1h-1zM34 11h3v1h-3zM38 11h2v1h-2zM0 12h1v1h-1zM13 12h1v1h-1zM15 12h1v1h-1zM18 12h1v1h-1zM21 12h2v1h-2zM24 12h2v1h-2zM28 12h1v1h-1zM30 12h1v1h-1zM32 12h1v1h-1zM34 12h5v1h-5zM40 12h1v1h-1zM0 13h1v1h-1zM5 13h1v1h-1zM10 13h1v1h-1zM16 13h1v1h-1zM22 13h1v1h-1zM25 13h1v1h-1zM28 13h2v1h-2zM32 13h1v1h-1zM34 13h1v1h-1zM38 13h1v1h-1zM40 13h1v1h-1zM0 14h1v1h-1zM2 14h1v1h-1zM4 14h2v1h-2zM15 14h1v1h-1zM18 14h1v1h-1zM21 14h1v1h-1zM24 14h3v1h-3zM28 14h1v1h-1zM31 14h3v1h-3zM35 14h3v1h-3zM44 14h4v1h-4zM49 14h1v1h-1zM52 14h1v1h-1zM10 15h1v1h-1zM16 15h3v1h-3zM25 15h1v1h-1zM29 15h2v1h-2zM36 15h2v1h-2zM43 15h2v1h-2zM49 15h1v1h-1zM0 16h1v1h-1zM4 16h1v1h-1zM10 16h1v1h-1zM16 16h1v1h-1zM19 16h2v1h-2zM22 16h1v1h-1zM29 16h4v1h-4zM34 16h1v1h-1zM37 16h1v1h-1zM49 16h1v1h-1zM9 17h1v1h-1zM11 17h2v1h-2zM15 17h1v1h-1zM41 17h1v1h-1zM10 18h1v1h-1zM13 18h2v1h-2zM16 18h2v1h-2zM28 18h1v1h-1zM32 18h1v1h-1zM36 18h1v1h-1zM38 18h1v1h-1zM49 18h1v1h-1zM52 18h2v1h-2zM4 19h1v1h-1zM10 19h1v1h-1zM12 19h2v1h-2zM15 19h5v1h-5zM25 19h1v1h-1zM29 19h2v1h-2zM36 19h2v1h-2zM43 19h2v1h-2zM49 19h1v1h-1zM4 20h2v1h-2zM13 20h1v1h-1zM15 20h1v1h-1zM18 20h1v1h-1zM20 20h1v1h-1zM22 20h2v1h-2zM26 20h1v1h-1zM28 20h1v1h-1zM33 20h2v1h-2zM38 20h1v1h-1zM40 20h1v1h-1zM49 20h1v1h-1z"/><path fill="#9890fc" d="M43 0h1v1h-1zM45 0h1v1h-1zM18 1h1v1h-1zM8 2h2v1h-2zM11 2h1v1h-1zM14 2h2v1h-2zM22 2h1v1h-1zM29 2h1v1h-1zM33 2h1v1h-1zM49 2h1v1h-1zM11 4h1v1h-1zM22 4h1v1h-1zM25 4h1v1h-1zM28 4h1v1h-1zM33 4h1v1h-1zM38 4h1v1h-1zM46 4h1v1h-1zM53 4h1v1h-1zM14 5h1v1h-1zM33 5h1v1h-1zM0 6h1v1h-1zM8 6h3v1h-3zM12 6h1v1h-1zM53 6h1v1h-1zM4 7h1v1h-1zM15 7h1v1h-1zM17 7h1v1h-1zM19 7h1v1h-1zM22 7h3v1h-3zM33 7h1v1h-1zM39 7h1v1h-1zM42 7h1v1h-1zM49 7h1v1h-1zM52 7h1v1h-1zM1 8h1v1h-1zM13 8h1v1h-1zM15 8h1v1h-1zM17 8h2v1h-2zM21 8h1v1h-1zM24 8h1v1h-1zM26 8h1v1h-1zM29 8h3v1h-3zM35 8h1v1h-1zM37 8h2v1h-2zM41 8h1v1h-1zM50 8h2v1h-2zM8 9h1v1h-1zM11 10h2v1h-2zM16 10h1v1h-1zM33 10h1v1h-1zM0 11h1v1h-1zM4 11h2v1h-2zM15 11h1v1h-1zM17 11h1v1h-1zM22 11h1v1h-1zM25 11h1v1h-1zM33 11h1v1h-1zM37 11h1v1h-1zM4 12h2v1h-2zM17 12h1v1h-1zM19 12h1v1h-1zM26 12h1v1h-1zM33 12h1v1h-1zM39 12h1v1h-1zM14 13h1v1h-1zM33 13h1v1h-1zM39 13h1v1h-1zM11 14h1v1h-1zM16 14h1v1h-1zM19 14h1v1h-1zM22 14h2v1h-2zM34 14h1v1h-1zM12 15h3v1h-3zM20 15h1v1h-1zM22 15h1v1h-1zM24 15h1v1h-1zM28 15h1v1h-1zM31 15h3v1h-3zM45 15h1v1h-1zM47 15h1v1h-1zM12 16h2v1h-2zM18 16h1v1h-1zM25 16h2v1h-2zM39 16h2v1h-2zM0 17h1v1h-1zM19 17h1v1h-1zM11 18h2v1h-2zM34 18h1v1h-1zM39 18h2v1h-2zM14 19h1v1h-1zM20 19h1v1h-1zM22 19h1v1h-1zM24 19h1v1h-1zM28 19h1v1h-1zM31 19h3v1h-3zM45 19h1v1h-1zM47 19h1v1h-1zM14 20h1v1h-1zM16 20h2v1h-2zM19 20h1v1h-1zM24 20h2v1h-2zM32 20h1v1h-1z"/><path fill="#ff1e0c" d="M52 0h1v1h-1zM27 1h1v1h-1zM27 2h1v1h-1zM27 3h1v1h-1zM7 4h1v1h-1zM7 5h1v1h-1zM7 6h1v1h-1zM7 7h3v1h-3zM7 8h3v1h-3zM53 8h1v1h-1zM7 9h1v1h-1zM7 10h1v1h-1zM7 11h1v1h-1zM53 11h1v1h-1zM9 12h1v1h-1zM7 13h1v1h-1zM8 14h1v1h-1zM7 15h1v1h-1zM9 15h1v1h-1zM7 16h1v1h-1zM9 16h1v1h-1zM53 16h1v1h-1zM10 17h1v1h-1zM8 18h1v1h-1zM7 19h1v1h-1zM9 19h1v1h-1zM7 20h3v1h-3zM53 20h1v1h-1z"/><path fill="#f8cccb" d="M0 1h1v1h-1zM2 1h1v1h-1zM5 1h1v1h-1zM8 1h1v1h-1zM14 1h1v1h-1zM17 1h1v1h-1zM25 1h1v1h-1zM29 1h3v1h-3zM33 1h6v1h-6zM41 1h4v1h-4zM46 1h1v1h-1zM48 1h1v1h-1zM50 1h2v1h-2zM53 1h1v1h-1zM10 4h1v1h-1zM9 5h1v1h-1zM11 5h1v1h-1zM11 7h1v1h-1zM53 7h1v1h-1zM0 8h1v1h-1zM10 8h2v1h-2zM34 8h1v1h-1zM8 10h1v1h-1zM10 11h1v1h-1zM11 12h2v1h-2zM12 13h1v1h-1zM7 14h1v1h-1zM13 14h2v1h-2zM53 14h1v1h-1zM39 15h2v1h-2zM39 19h2v1h-2z"/><path fill="#faf0f0" d="M9 1h3v1h-3zM16 1h1v1h-1zM23 1h2v1h-2zM47 1h1v1h-1zM25 2h1v1h-1zM35 2h1v1h-1zM27 4h1v1h-1zM12 5h1v1h-1zM10 7h1v1h-1zM12 7h1v1h-1zM14 7h1v1h-1zM5 8h1v1h-1zM22 8h2v1h-2zM28 8h1v1h-1zM52 8h1v1h-1zM9 10h1v1h-1zM53 10h1v1h-1zM12 11h1v1h-1zM17 14h1v1h-1zM39 14h1v1h-1zM8 15h1v1h-1zM11 15h1v1h-1zM23 15h1v1h-1zM11 16h1v1h-1zM17 16h1v1h-1zM8 19h1v1h-1zM11 19h1v1h-1zM23 19h1v1h-1zM12 20h1v1h-1z"/><path fill="#f27c7a" d="M28 1h1v1h-1zM32 1h1v1h-1zM39 1h2v1h-2zM45 1h1v1h-1zM49 1h1v1h-1zM52 1h1v1h-1zM7 2h1v1h-1zM4 8h1v1h-1zM12 8h1v1h-1zM19 8h1v1h-1zM8 11h2v1h-2zM7 12h2v1h-2zM10 12h1v1h-1zM53 12h1v1h-1zM8 13h2v1h-2zM9 14h1v1h-1zM34 15h1v1h-1zM53 15h1v1h-1zM8 16h1v1h-1zM34 19h1v1h-1zM53 19h1v1h-1zM11 20h1v1h-1z"/></g><path d="M23.05 772.30V877.30M28.05 772.30V877.30M33.05 772.30V877.30M38.05 772.30V877.30M43.05 772.30V877.30M48.05 772.30V877.30M53.05 772.30V877.30M58.05 772.30V877.30M63.05 772.30V877.30M68.05 772.30V877.30M73.05 772.30V877.30M78.05 772.30V877.30M83.05 772.30V877.30M88.05 772.30V877.30M93.05 772.30V877.30M98.05 772.30V877.30M103.05 772.30V877.30M108.05 772.30V877.30M113.05 772.30V877.30M118.05 772.30V877.30M123.05 772.30V877.30M128.05 772.30V877.30M133.05 772.30V877.30M138.05 772.30V877.30M143.05 772.30V877.30M148.05 772.30V877.30M153.05 772.30V877.30M158.05 772.30V877.30M163.05 772.30V877.30M168.05 772.30V877.30M173.05 772.30V877.30M178.05 772.30V877.30M183.05 772.30V877.30M188.05 772.30V877.30M193.05 772.30V877.30M198.05 772.30V877.30M203.05 772.30V877.30M208.05 772.30V877.30M213.05 772.30V877.30M218.05 772.30V877.30M223.05 772.30V877.30M228.05 772.30V877.30M233.05 772.30V877.30M238.05 772.30V877.30M243.05 772.30V877.30M248.05 772.30V877.30M253.05 772.30V877.30M258.05 772.30V877.30M263.05 772.30V877.30M268.05 772.30V877.30M273.05 772.30V877.30M278.05 772.30V877.30M283.05 772.30V877.30M18.05 777.30H288.05M18.05 782.30H288.05M18.05 787.30H288.05M18.05 792.30H288.05M18.05 797.30H288.05M18.05 802.30H288.05M18.05 807.30H288.05M18.05 812.30H288.05M18.05 817.30H288.05M18.05 822.30H288.05M18.05 827.30H288.05M18.05 832.30H288.05M18.05 837.30H288.05M18.05 842.30H288.05M18.05 847.30H288.05M18.05 852.30H288.05M18.05 857.30H288.05M18.05 862.30H288.05M18.05 867.30H288.05M18.05 872.30H288.05" stroke="#ffffff" stroke-opacity="0.2" stroke-width="0.6" fill="none"/><text x="291.6" y="382.0" font-size="11.0" fill="#444" textLength="23.4" lengthAdjust="spacingAndGlyphs">Time</text><text x="289.8" y="644.8" font-size="11.0" fill="#333" textLength="22.9" lengthAdjust="spacingAndGlyphs">Time</text><path d="M295.9 388.5V497M295.9 509V609M295.5 649V760M295.5 774V873" stroke="#7090d0" stroke-width="1.1" stroke-opacity="0.8"/><path d="M291.9 496.0H300.1L296.0 503.6z" fill="#4a78c8"/><path d="M291.9 608.6H300.1L296.0 616.2z" fill="#4a78c8"/><path d="M291.4 758.6H299.6L295.5 766.2z" fill="#4a78c8"/><path d="M291.4 871.6H299.6L295.5 879.2z" fill="#4a78c8"/><text x="299.6" y="394.1" font-size="9.1" fill="#222">2:0</text><text x="299.6" y="434.4" font-size="9.1" fill="#222">8:0</text><text x="299.6" y="477.1" font-size="9.1" fill="#222">16:0</text><text x="300.2" y="502.5" font-size="9.1" fill="#222">20:4</text><text x="300.2" y="512.3" font-size="9.1" fill="#222">6:0</text><text x="300.2" y="531.1" font-size="9.1" fill="#222">8:0</text><text x="300.2" y="562.1" font-size="9.1" fill="#222">16:0</text><text x="300.2" y="586.9" font-size="9.1" fill="#222">20:4</text><text x="300.2" y="616.8" font-size="9.1" fill="#222">22:6</text><text x="299.2" y="656.6" font-size="9.1" fill="#222">2:0</text><text x="299.2" y="696.0" font-size="9.1" fill="#222">8:0</text><text x="299.2" y="736.1" font-size="9.1" fill="#222">16:0</text><text x="299.2" y="766.0" font-size="9.1" fill="#222">20:4</text><text x="299.2" y="778.0" font-size="9.1" fill="#222">6:0</text><text x="299.2" y="797.1" font-size="9.1" fill="#222">8:0</text><text x="299.2" y="828.1" font-size="9.1" fill="#222">16:0</text><text x="299.2" y="853.1" font-size="9.1" fill="#222">20:4</text><text x="299.2" y="881.5" font-size="9.1" fill="#222">22:6</text><defs><linearGradient id="hbar" x1="0" y1="0" x2="0" y2="1"><stop offset="0" stop-color="#ff0000"/><stop offset="0.5" stop-color="#ffffff"/><stop offset="1" stop-color="#0000ff"/></linearGradient></defs><rect x="1.0" y="487.0" width="4.7" height="41.8" fill="url(#hbar)"/><rect x="1.1" y="746.8" width="4.2" height="41.8" fill="url(#hbar)"/><text x="6.6" y="492.7" font-size="7.4" fill="#222" textLength="9.6" lengthAdjust="spacingAndGlyphs">4.5</text><text x="6.6" y="528.3" font-size="7.4" fill="#222" textLength="12.0" lengthAdjust="spacingAndGlyphs">-4.8</text><text x="6.2" y="752.5" font-size="7.4" fill="#222" textLength="9.6" lengthAdjust="spacingAndGlyphs">4.5</text><text x="6.0" y="788.5" font-size="7.4" fill="#222" textLength="12.0" lengthAdjust="spacingAndGlyphs">-4.8</text><text x="13.2" y="450.4" font-size="8.6" text-anchor="middle" font-weight="bold" font-style="italic" fill="#111" textLength="61.2" lengthAdjust="spacingAndGlyphs" transform="rotate(-90 13.2 447.4)">Acyl-Carnitines</text><text x="13.3" y="563.0" font-size="8.6" text-anchor="middle" font-weight="bold" font-style="italic" fill="#111" textLength="44.0" lengthAdjust="spacingAndGlyphs" transform="rotate(-90 13.3 560.0)">Fatty acids</text><text x="11.7" y="709.5" font-size="8.6" text-anchor="middle" font-weight="bold" font-style="italic" fill="#111" textLength="61.7" lengthAdjust="spacingAndGlyphs" transform="rotate(-90 11.7 706.5)">Acyl-Carnitines</text><text x="11.3" y="825.6" font-size="8.6" text-anchor="middle" font-weight="bold" font-style="italic" fill="#111" textLength="42.1" lengthAdjust="spacingAndGlyphs" transform="rotate(-90 11.3 822.6)">Fatty acids</text></svg></body></html>
